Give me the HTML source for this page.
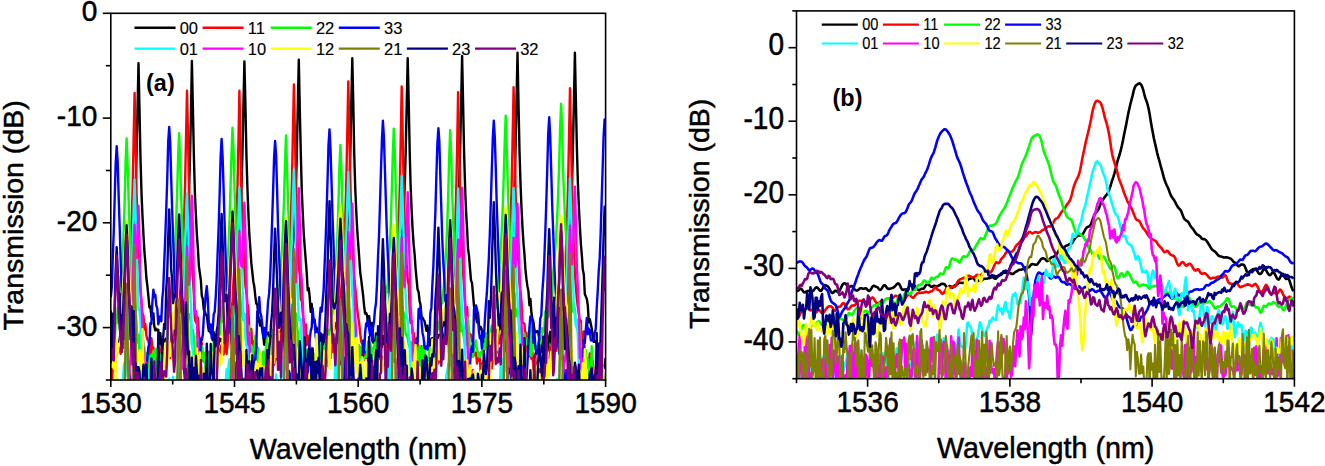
<!DOCTYPE html>
<html><head><meta charset="utf-8"><style>
html,body{margin:0;padding:0;background:#fff;width:1325px;height:466px;overflow:hidden}
svg{display:block;font-family:"Liberation Sans", sans-serif}
</style></head><body><svg width="1325" height="466" viewBox="0 0 1325 466" font-family='"Liberation Sans", sans-serif'><defs><clipPath id="ca"><rect x="110.8" y="13.3" width="494.8" height="366.7"/></clipPath><clipPath id="cb"><rect x="796.5" y="10.9" width="497.9" height="367.8"/></clipPath></defs><g clip-path="url(#ca)"><path d="M110.8 377.5L111.8 366.3L112.8 361.0L113.8 360.1L114.8 366.5L115.7 351.9L116.7 351.2L117.7 348.1L118.7 344.7L119.7 339.3L120.7 329.7L121.7 340.2L122.7 332.4L123.7 319.7L124.7 328.4L125.6 315.3L126.6 313.0L127.6 303.3L128.6 293.8L129.6 292.3L130.6 279.2L131.6 268.2L132.6 252.3L133.6 236.9L134.6 214.8L135.5 192.8L136.5 156.5L137.5 110.5L138.5 63.2L139.5 109.9L140.5 158.6L141.5 193.4L142.5 216.2L143.5 235.4L144.4 251.2L145.4 263.4L146.4 278.0L147.4 286.4L148.4 296.2L149.4 307.5L150.4 306.6L151.4 316.3L152.4 319.2L153.4 313.4L154.3 326.3L155.3 330.4L156.3 328.8L157.3 330.5L158.3 329.8L159.3 343.5L160.3 333.1L161.3 344.4L162.3 350.7L163.2 350.2L164.2 339.7L165.2 341.6L166.2 338.6L167.2 349.7L168.2 345.8L169.2 349.1L170.2 351.7L171.2 339.8L172.2 329.7L173.1 329.8L174.1 336.2L175.1 323.9L176.1 328.3L177.1 320.3L178.1 313.6L179.1 313.6L180.1 309.5L181.1 297.4L182.1 292.9L183.0 285.5L184.0 272.8L185.0 263.7L186.0 249.6L187.0 235.8L188.0 214.5L189.0 192.0L190.0 158.0L191.0 111.3L191.9 61.0L192.9 108.8L193.9 156.9L194.9 193.0L195.9 215.2L196.9 235.0L197.9 248.3L198.9 266.3L199.9 273.3L200.9 280.7L201.8 295.8L202.8 298.9L203.8 309.7L204.8 311.1L205.8 314.9L206.8 314.9L207.8 323.8L208.8 331.1L209.8 328.1L210.7 333.4L211.7 330.2L212.7 340.4L213.7 332.1L214.7 339.1L215.7 339.6L216.7 336.2L217.7 344.3L218.7 344.1L219.7 338.5L220.6 340.9L221.6 339.3L222.6 340.3L223.6 338.2L224.6 330.5L225.6 323.0L226.6 336.3L227.6 319.8L228.6 320.0L229.6 314.2L230.5 314.1L231.5 312.7L232.5 304.9L233.5 300.9L234.5 295.6L235.5 282.3L236.5 271.9L237.5 262.0L238.5 248.2L239.4 234.8L240.4 212.4L241.4 189.4L242.4 155.8L243.4 106.4L244.4 61.5L245.4 104.0L246.4 154.2L247.4 187.6L248.4 213.5L249.3 233.8L250.3 247.7L251.3 262.9L252.3 272.0L253.3 281.4L254.3 286.6L255.3 296.2L256.3 303.6L257.3 304.5L258.3 315.4L259.2 321.7L260.2 325.7L261.2 320.3L262.2 329.9L263.2 335.5L264.2 344.7L265.2 342.3L266.2 337.2L267.2 337.2L268.1 332.7L269.1 345.7L270.1 340.0L271.1 336.1L272.1 354.9L273.1 330.6L274.1 348.0L275.1 347.2L276.1 335.5L277.1 336.8L278.0 331.1L279.0 332.0L280.0 331.4L281.0 330.8L282.0 330.7L283.0 321.0L284.0 327.9L285.0 316.0L286.0 307.1L286.9 308.7L287.9 295.2L288.9 287.7L289.9 282.3L290.9 273.4L291.9 260.8L292.9 248.0L293.9 233.7L294.9 211.7L295.9 187.8L296.8 155.2L297.8 106.1L298.8 59.8L299.8 109.6L300.8 153.2L301.8 191.6L302.8 214.0L303.8 234.8L304.8 248.0L305.8 261.0L306.7 272.3L307.7 290.4L308.7 288.1L309.7 297.0L310.7 311.8L311.7 303.9L312.7 315.4L313.7 322.4L314.7 321.1L315.6 328.8L316.6 327.5L317.6 333.6L318.6 338.4L319.6 341.5L320.6 333.3L321.6 338.0L322.6 343.3L323.6 343.0L324.6 344.9L325.5 329.3L326.5 338.2L327.5 338.7L328.5 331.1L329.5 340.9L330.5 341.7L331.5 337.1L332.5 331.7L333.5 331.1L334.4 329.0L335.4 323.6L336.4 322.7L337.4 321.3L338.4 309.2L339.4 308.1L340.4 302.4L341.4 293.2L342.4 286.3L343.4 282.2L344.3 271.3L345.3 261.0L346.3 247.0L347.3 229.4L348.3 211.2L349.3 187.3L350.3 154.4L351.3 102.6L352.3 58.3L353.3 103.9L354.2 152.8L355.2 187.3L356.2 210.1L357.2 229.7L358.2 243.7L359.2 257.4L360.2 272.5L361.2 279.6L362.2 288.0L363.1 295.2L364.1 305.9L365.1 313.7L366.1 312.9L367.1 315.5L368.1 326.2L369.1 316.2L370.1 324.7L371.1 332.8L372.1 323.0L373.0 342.5L374.0 341.8L375.0 343.6L376.0 333.4L377.0 344.1L378.0 337.1L379.0 339.9L380.0 344.4L381.0 340.5L382.0 346.8L382.9 335.8L383.9 344.1L384.9 342.2L385.9 332.9L386.9 336.8L387.9 323.3L388.9 323.3L389.9 334.6L390.9 323.1L391.8 320.8L392.8 307.1L393.8 313.6L394.8 308.6L395.8 301.2L396.8 294.6L397.8 289.2L398.8 277.4L399.8 269.7L400.8 258.8L401.7 242.3L402.7 228.4L403.7 210.7L404.7 186.6L405.7 151.9L406.7 104.5L407.7 58.1L408.7 101.5L409.7 151.7L410.6 185.5L411.6 209.2L412.6 229.3L413.6 244.1L414.6 254.0L415.6 268.5L416.6 279.6L417.6 289.8L418.6 291.8L419.6 301.0L420.5 304.6L421.5 317.7L422.5 317.5L423.5 319.5L424.5 321.2L425.5 325.5L426.5 330.8L427.5 325.8L428.5 334.1L429.5 346.0L430.4 343.6L431.4 338.6L432.4 338.1L433.4 346.6L434.4 346.4L435.4 338.3L436.4 338.7L437.4 337.6L438.4 335.1L439.3 337.3L440.3 340.2L441.3 328.4L442.3 327.6L443.3 322.1L444.3 325.3L445.3 323.7L446.3 319.7L447.3 315.4L448.3 319.5L449.2 307.7L450.2 302.6L451.2 293.7L452.2 286.6L453.2 280.1L454.2 270.7L455.2 261.1L456.2 245.3L457.2 230.7L458.1 211.4L459.1 185.0L460.1 151.7L461.1 104.8L462.1 55.9L463.1 103.5L464.1 153.0L465.1 187.5L466.1 212.1L467.1 229.0L468.0 248.4L469.0 255.6L470.0 268.3L471.0 280.4L472.0 282.9L473.0 294.4L474.0 306.2L475.0 310.1L476.0 317.1L477.0 322.3L477.9 312.8L478.9 324.5L479.9 329.0L480.9 327.1L481.9 330.5L482.9 338.8L483.9 342.2L484.9 348.6L485.9 335.1L486.8 342.1L487.8 336.7L488.8 341.6L489.8 348.9L490.8 344.8L491.8 333.5L492.8 343.6L493.8 336.9L494.8 350.2L495.8 340.6L496.7 330.0L497.7 341.7L498.7 324.9L499.7 329.3L500.7 326.4L501.7 313.7L502.7 317.9L503.7 306.7L504.7 307.3L505.7 298.5L506.6 289.8L507.6 282.5L508.6 277.9L509.6 272.7L510.6 253.3L511.6 244.0L512.6 226.0L513.6 209.4L514.6 184.3L515.5 150.2L516.5 101.8L517.5 52.8L518.5 103.9L519.5 151.0L520.5 183.4L521.5 207.8L522.5 227.6L523.5 243.1L524.5 254.6L525.4 268.9L526.4 278.8L527.4 286.2L528.4 291.1L529.4 305.2L530.4 298.9L531.4 312.8L532.4 318.8L533.4 321.9L534.3 329.2L535.3 332.0L536.3 332.2L537.3 331.0L538.3 332.1L539.3 339.7L540.3 341.0L541.3 338.6L542.3 352.1L543.3 344.0L544.2 338.2L545.2 335.4L546.2 345.4L547.2 351.6L548.2 347.1L549.2 336.7L550.2 331.8L551.2 342.1L552.2 347.5L553.2 337.3L554.1 332.2L555.1 329.3L556.1 329.3L557.1 316.5L558.1 324.5L559.1 308.2L560.1 320.8L561.1 305.6L562.1 301.8L563.0 297.1L564.0 295.7L565.0 286.0L566.0 280.0L567.0 267.0L568.0 255.3L569.0 241.8L570.0 228.2L571.0 208.3L572.0 185.4L572.9 149.1L573.9 101.9L574.9 52.8L575.9 101.3L576.9 148.6L577.9 183.2L578.9 207.5L579.9 227.1L580.9 244.3L581.8 254.7L582.8 269.6L583.8 274.4L584.8 294.1L585.8 296.4L586.8 298.9L587.8 305.2L588.8 322.4L589.8 319.1L590.8 324.1L591.7 328.3L592.7 335.8L593.7 341.9L594.7 340.7L595.7 342.2L596.7 343.1L597.7 352.0L598.7 359.2L599.7 352.9L600.7 367.9L601.6 366.4L602.6 368.4L603.6 366.7L604.6 367.5L605.6 358.1" stroke="#000000" stroke-width="2.4" fill="none" stroke-linejoin="round"/><path d="M110.8 378.8L111.8 386.5L112.8 365.5L113.8 362.7L114.8 368.4L115.7 361.4L116.7 349.6L117.7 351.5L118.7 351.0L119.7 347.7L120.7 353.7L121.7 337.9L122.7 348.4L123.7 334.7L124.7 328.5L125.6 326.8L126.6 309.8L127.6 292.1L128.6 286.8L129.6 273.1L130.6 250.7L131.6 224.2L132.6 190.3L133.6 139.8L134.6 92.9L135.5 139.1L136.5 189.9L137.5 223.5L138.5 248.1L139.5 268.2L140.5 290.8L141.5 303.7L142.5 313.5L143.5 316.1L144.4 329.2L145.4 324.3L146.4 335.5L147.4 339.4L148.4 341.0L149.4 346.9L150.4 361.1L151.4 338.3L152.4 346.8L153.4 348.0L154.3 365.0L155.3 373.9L156.3 372.5L157.3 370.1L158.3 357.1L159.3 357.2L160.3 353.4L161.3 348.5L162.3 359.6L163.2 360.3L164.2 364.6L165.2 363.5L166.2 367.9L167.2 355.1L168.2 354.8L169.2 357.6L170.2 357.9L171.2 347.0L172.2 338.7L173.1 342.7L174.1 337.4L175.1 337.3L176.1 329.9L177.1 323.7L178.1 315.8L179.1 308.0L180.1 293.4L181.1 278.1L182.1 268.7L183.0 245.1L184.0 222.3L185.0 187.6L186.0 139.0L187.0 90.7L188.0 135.4L189.0 188.5L190.0 220.8L191.0 247.0L191.9 265.9L192.9 277.9L193.9 295.1L194.9 319.2L195.9 322.4L196.9 317.0L197.9 317.7L198.9 334.5L199.9 342.8L200.9 351.2L201.8 342.9L202.8 360.8L203.8 360.1L204.8 353.3L205.8 355.4L206.8 359.5L207.8 351.8L208.8 368.7L209.8 369.2L210.7 364.5L211.7 361.5L212.7 364.6L213.7 348.3L214.7 366.3L215.7 357.2L216.7 365.1L217.7 358.1L218.7 362.3L219.7 360.7L220.6 345.6L221.6 356.8L222.6 341.3L223.6 354.6L224.6 349.8L225.6 336.7L226.6 354.0L227.6 344.2L228.6 329.2L229.6 320.5L230.5 312.7L231.5 308.0L232.5 301.6L233.5 280.8L234.5 266.9L235.5 250.3L236.5 223.3L237.5 186.5L238.5 137.8L239.4 90.8L240.4 138.5L241.4 189.2L242.4 222.9L243.4 247.2L244.4 270.3L245.4 285.5L246.4 292.2L247.4 303.4L248.4 309.0L249.3 330.5L250.3 334.5L251.3 329.0L252.3 345.1L253.3 341.5L254.3 347.3L255.3 354.8L256.3 342.8L257.3 354.8L258.3 360.0L259.2 359.2L260.2 357.7L261.2 371.6L262.2 367.5L263.2 371.1L264.2 377.4L265.2 355.8L266.2 352.6L267.2 354.3L268.1 375.1L269.1 359.2L270.1 356.6L271.1 364.6L272.1 353.9L273.1 366.0L274.1 364.1L275.1 360.7L276.1 357.8L277.1 357.1L278.0 341.7L279.0 351.3L280.0 343.7L281.0 340.4L282.0 319.4L283.0 330.8L284.0 317.1L285.0 303.4L286.0 307.6L286.9 295.0L287.9 280.2L288.9 266.5L289.9 242.4L290.9 219.3L291.9 182.7L292.9 132.5L293.9 84.5L294.9 132.0L295.9 184.4L296.8 217.3L297.8 245.7L298.8 265.2L299.8 275.5L300.8 299.5L301.8 300.7L302.8 313.5L303.8 322.0L304.8 329.5L305.8 324.4L306.7 345.2L307.7 335.6L308.7 341.3L309.7 350.0L310.7 350.6L311.7 347.8L312.7 358.3L313.7 366.2L314.7 355.5L315.6 364.4L316.6 362.4L317.6 359.9L318.6 355.7L319.6 348.5L320.6 358.9L321.6 360.4L322.6 355.3L323.6 358.6L324.6 371.5L325.5 363.2L326.5 366.5L327.5 352.1L328.5 346.8L329.5 351.2L330.5 358.1L331.5 343.9L332.5 352.1L333.5 341.4L334.4 346.2L335.4 342.7L336.4 337.5L337.4 324.0L338.4 320.6L339.4 307.7L340.4 305.7L341.4 288.1L342.4 278.6L343.4 258.5L344.3 240.3L345.3 216.5L346.3 181.4L347.3 130.4L348.3 81.4L349.3 131.0L350.3 180.1L351.3 216.9L352.3 244.0L353.3 260.6L354.2 277.2L355.2 286.9L356.2 298.2L357.2 309.1L358.2 316.9L359.2 323.5L360.2 333.4L361.2 341.7L362.2 344.0L363.1 343.5L364.1 360.2L365.1 351.7L366.1 357.7L367.1 354.1L368.1 360.7L369.1 356.3L370.1 359.5L371.1 350.2L372.1 362.2L373.0 362.1L374.0 360.6L375.0 373.5L376.0 368.4L377.0 350.8L378.0 356.8L379.0 359.2L380.0 351.6L381.0 359.1L382.0 358.2L382.9 357.0L383.9 364.7L384.9 344.9L385.9 349.5L386.9 345.9L387.9 343.7L388.9 341.3L389.9 345.5L390.9 326.5L391.8 310.0L392.8 308.7L393.8 305.6L394.8 297.2L395.8 280.9L396.8 264.6L397.8 246.2L398.8 219.7L399.8 187.3L400.8 133.9L401.7 86.4L402.7 136.0L403.7 186.4L404.7 220.3L405.7 245.0L406.7 265.3L407.7 279.3L408.7 285.1L409.7 311.4L410.6 322.8L411.6 320.8L412.6 333.0L413.6 332.8L414.6 347.7L415.6 341.8L416.6 338.2L417.6 342.5L418.6 359.4L419.6 356.8L420.5 350.9L421.5 346.2L422.5 366.8L423.5 367.5L424.5 354.9L425.5 366.2L426.5 371.7L427.5 357.5L428.5 377.4L429.5 370.6L430.4 358.9L431.4 370.3L432.4 360.1L433.4 374.0L434.4 359.2L435.4 360.7L436.4 351.8L437.4 363.8L438.4 363.3L439.3 359.9L440.3 350.4L441.3 360.3L442.3 353.8L443.3 337.5L444.3 341.7L445.3 338.3L446.3 341.2L447.3 328.0L448.3 332.7L449.2 326.5L450.2 314.8L451.2 294.5L452.2 287.1L453.2 274.7L454.2 253.6L455.2 227.3L456.2 191.8L457.2 144.6L458.1 92.2L459.1 141.4L460.1 194.2L461.1 228.4L462.1 252.2L463.1 273.0L464.1 287.2L465.1 304.4L466.1 318.7L467.1 307.3L468.0 325.7L469.0 331.6L470.0 335.2L471.0 334.7L472.0 340.9L473.0 356.7L474.0 353.7L475.0 355.0L476.0 352.5L477.0 363.6L477.9 358.4L478.9 360.7L479.9 353.7L480.9 382.7L481.9 364.3L482.9 363.0L483.9 360.9L484.9 366.0L485.9 371.8L486.8 360.9L487.8 362.8L488.8 370.9L489.8 373.9L490.8 359.5L491.8 368.4L492.8 356.6L493.8 349.2L494.8 356.5L495.8 354.3L496.7 352.7L497.7 341.8L498.7 338.8L499.7 343.4L500.7 335.4L501.7 334.6L502.7 332.0L503.7 318.8L504.7 315.5L505.7 309.7L506.6 301.1L507.6 279.6L508.6 269.4L509.6 249.2L510.6 222.6L511.6 186.7L512.6 139.0L513.6 87.3L514.6 136.3L515.5 189.2L516.5 223.8L517.5 247.9L518.5 262.5L519.5 283.5L520.5 291.4L521.5 302.1L522.5 322.7L523.5 322.9L524.5 324.1L525.4 337.9L526.4 332.8L527.4 350.8L528.4 357.1L529.4 353.9L530.4 349.5L531.4 358.8L532.4 352.1L533.4 370.8L534.3 365.7L535.3 353.4L536.3 381.5L537.3 362.8L538.3 372.1L539.3 371.6L540.3 369.0L541.3 377.5L542.3 360.2L543.3 362.6L544.2 357.8L545.2 365.0L546.2 372.3L547.2 360.2L548.2 373.3L549.2 369.0L550.2 346.6L551.2 352.1L552.2 354.5L553.2 345.3L554.1 354.4L555.1 345.7L556.1 350.9L557.1 343.7L558.1 336.3L559.1 323.0L560.1 328.3L561.1 312.0L562.1 308.2L563.0 304.3L564.0 291.0L565.0 270.8L566.0 248.0L567.0 224.0L568.0 187.3L569.0 138.6L570.0 88.3L571.0 138.5L572.0 190.8L572.9 223.4L573.9 250.8L574.9 272.7L575.9 287.3L576.9 299.3L577.9 307.5L578.9 313.6L579.9 322.4L580.9 320.7L581.8 349.6L582.8 344.4L583.8 331.5L584.8 353.8L585.8 363.7L586.8 363.6L587.8 367.9L588.8 367.2L589.8 353.4L590.8 378.1L591.7 374.8L592.7 360.9L593.7 370.6L594.7 371.7L595.7 378.2L596.7 369.6L597.7 385.0L598.7 371.4L599.7 378.4L600.7 381.5L601.6 384.8L602.6 374.6L603.6 379.7L604.6 385.7L605.6 382.5" stroke="#FF0000" stroke-width="2.4" fill="none" stroke-linejoin="round"/><path d="M110.8 346.8L111.8 329.6L112.8 336.7L113.8 349.5L114.8 340.1L115.7 323.0L116.7 323.2L117.7 307.6L118.7 318.0L119.7 285.5L120.7 276.2L121.7 274.1L122.7 252.2L123.7 229.8L124.7 200.1L125.6 161.5L126.6 138.4L127.6 163.8L128.6 198.7L129.6 227.2L130.6 252.2L131.6 268.2L132.6 289.7L133.6 290.3L134.6 291.9L135.5 309.9L136.5 321.4L137.5 342.6L138.5 335.0L139.5 354.2L140.5 334.3L141.5 328.6L142.5 334.6L143.5 348.3L144.4 347.3L145.4 360.4L146.4 353.1L147.4 354.3L148.4 357.7L149.4 385.0L150.4 356.2L151.4 354.6L152.4 366.9L153.4 354.9L154.3 350.8L155.3 379.9L156.3 348.7L157.3 361.8L158.3 366.9L159.3 352.8L160.3 360.1L161.3 355.1L162.3 357.5L163.2 351.5L164.2 352.9L165.2 343.6L166.2 343.2L167.2 339.9L168.2 316.0L169.2 317.2L170.2 307.2L171.2 291.5L172.2 287.8L173.1 278.8L174.1 267.5L175.1 245.2L176.1 223.2L177.1 193.1L178.1 157.7L179.1 133.1L180.1 160.2L181.1 193.7L182.1 225.8L183.0 247.1L184.0 262.9L185.0 278.6L186.0 291.4L187.0 298.6L188.0 320.9L189.0 316.8L190.0 314.2L191.0 320.0L191.9 345.8L192.9 329.8L193.9 337.6L194.9 353.2L195.9 359.5L196.9 350.8L197.9 338.3L198.9 348.4L199.9 363.5L200.9 354.4L201.8 346.0L202.8 357.8L203.8 361.9L204.8 352.9L205.8 378.1L206.8 353.0L207.8 370.3L208.8 357.1L209.8 351.9L210.7 355.7L211.7 360.1L212.7 355.0L213.7 341.9L214.7 359.6L215.7 352.8L216.7 339.1L217.7 331.8L218.7 334.8L219.7 334.5L220.6 320.1L221.6 322.4L222.6 299.7L223.6 297.6L224.6 286.7L225.6 290.7L226.6 275.9L227.6 260.1L228.6 243.0L229.6 219.4L230.5 188.1L231.5 153.7L232.5 127.8L233.5 150.4L234.5 188.9L235.5 218.0L236.5 241.4L237.5 261.0L238.5 275.4L239.4 285.1L240.4 299.7L241.4 305.2L242.4 316.0L243.4 320.2L244.4 313.6L245.4 325.4L246.4 345.2L247.4 340.0L248.4 325.7L249.3 328.4L250.3 357.8L251.3 345.3L252.3 351.2L253.3 376.9L254.3 351.3L255.3 335.9L256.3 363.2L257.3 359.9L258.3 347.9L259.2 362.1L260.2 362.1L261.2 354.8L262.2 371.5L263.2 351.8L264.2 368.8L265.2 354.3L266.2 345.7L267.2 336.4L268.1 357.5L269.1 345.9L270.1 343.3L271.1 358.4L272.1 340.0L273.1 333.3L274.1 326.3L275.1 310.5L276.1 318.3L277.1 312.2L278.0 303.9L279.0 293.5L280.0 279.5L281.0 262.3L282.0 251.1L283.0 226.8L284.0 200.6L285.0 162.8L286.0 135.5L286.9 163.4L287.9 197.1L288.9 225.1L289.9 250.8L290.9 269.4L291.9 281.6L292.9 296.3L293.9 304.0L294.9 316.8L295.9 313.5L296.8 323.5L297.8 331.8L298.8 354.5L299.8 346.1L300.8 343.4L301.8 340.5L302.8 355.6L303.8 346.3L304.8 345.9L305.8 361.6L306.7 350.1L307.7 360.3L308.7 370.7L309.7 360.9L310.7 348.0L311.7 357.7L312.7 361.7L313.7 353.6L314.7 354.8L315.6 359.8L316.6 380.0L317.6 386.3L318.6 376.4L319.6 343.0L320.6 351.4L321.6 371.8L322.6 347.6L323.6 366.4L324.6 349.1L325.5 339.8L326.5 346.0L327.5 334.4L328.5 329.8L329.5 345.0L330.5 326.6L331.5 315.8L332.5 314.1L333.5 308.7L334.4 282.8L335.4 274.3L336.4 258.8L337.4 236.2L338.4 206.0L339.4 167.6L340.4 144.9L341.4 168.5L342.4 205.5L343.4 235.3L344.3 257.4L345.3 274.9L346.3 293.7L347.3 308.8L348.3 306.5L349.3 309.2L350.3 321.6L351.3 338.1L352.3 336.3L353.3 345.2L354.2 356.4L355.2 356.5L356.2 355.3L357.2 347.5L358.2 364.9L359.2 345.3L360.2 357.0L361.2 346.8L362.2 349.5L363.1 357.7L364.1 358.8L365.1 357.1L366.1 357.1L367.1 352.9L368.1 341.6L369.1 352.7L370.1 342.8L371.1 347.9L372.1 359.1L373.0 349.6L374.0 346.7L375.0 342.8L376.0 351.8L377.0 336.5L378.0 348.0L379.0 341.1L380.0 330.7L381.0 330.3L382.0 332.9L382.9 329.7L383.9 317.7L384.9 310.9L385.9 287.0L386.9 292.5L387.9 280.7L388.9 255.4L389.9 245.0L390.9 221.0L391.8 190.3L392.8 153.9L393.8 128.6L394.8 152.0L395.8 187.9L396.8 220.0L397.8 242.4L398.8 261.7L399.8 277.5L400.8 289.8L401.7 297.0L402.7 309.8L403.7 312.7L404.7 324.3L405.7 334.7L406.7 334.4L407.7 338.3L408.7 344.2L409.7 347.0L410.6 341.7L411.6 360.4L412.6 342.8L413.6 358.5L414.6 355.9L415.6 344.3L416.6 348.4L417.6 375.5L418.6 355.5L419.6 346.4L420.5 368.9L421.5 364.3L422.5 346.9L423.5 372.1L424.5 342.4L425.5 371.6L426.5 365.0L427.5 362.4L428.5 360.2L429.5 347.6L430.4 349.3L431.4 349.7L432.4 347.2L433.4 360.8L434.4 349.3L435.4 331.7L436.4 346.5L437.4 321.9L438.4 329.1L439.3 329.4L440.3 310.7L441.3 303.8L442.3 303.1L443.3 291.9L444.3 280.3L445.3 264.1L446.3 247.4L447.3 222.7L448.3 190.9L449.2 156.2L450.2 130.2L451.2 154.5L452.2 192.3L453.2 222.4L454.2 245.1L455.2 263.8L456.2 275.8L457.2 290.8L458.1 295.3L459.1 297.4L460.1 311.9L461.1 331.4L462.1 324.5L463.1 333.2L464.1 339.0L465.1 345.4L466.1 344.6L467.1 317.3L468.0 319.8L469.0 333.4L470.0 358.9L471.0 350.5L472.0 343.1L473.0 357.0L474.0 348.7L475.0 344.5L476.0 340.5L477.0 350.9L477.9 351.8L478.9 356.8L479.9 357.1L480.9 352.0L481.9 353.4L482.9 344.0L483.9 346.8L484.9 350.0L485.9 333.2L486.8 346.7L487.8 336.4L488.8 334.5L489.8 339.9L490.8 331.7L491.8 325.7L492.8 326.8L493.8 326.2L494.8 295.2L495.8 308.2L496.7 298.4L497.7 288.8L498.7 277.0L499.7 262.1L500.7 248.2L501.7 232.1L502.7 208.1L503.7 178.2L504.7 142.2L505.7 115.6L506.6 141.7L507.6 177.9L508.6 209.8L509.6 229.0L510.6 249.7L511.6 267.0L512.6 279.8L513.6 290.5L514.6 294.4L515.5 316.4L516.5 316.3L517.5 309.0L518.5 312.7L519.5 333.4L520.5 328.3L521.5 331.0L522.5 337.4L523.5 342.7L524.5 333.4L525.4 344.2L526.4 341.7L527.4 337.9L528.4 354.0L529.4 354.5L530.4 327.1L531.4 356.1L532.4 337.2L533.4 336.5L534.3 345.7L535.3 348.7L536.3 345.9L537.3 350.5L538.3 342.6L539.3 343.0L540.3 343.7L541.3 340.2L542.3 328.1L543.3 331.9L544.2 330.5L545.2 311.5L546.2 321.5L547.2 312.8L548.2 317.3L549.2 312.3L550.2 297.3L551.2 288.0L552.2 297.1L553.2 272.7L554.1 262.1L555.1 251.5L556.1 235.7L557.1 219.4L558.1 194.5L559.1 166.8L560.1 128.6L561.1 103.7L562.1 128.1L563.0 167.1L564.0 194.8L565.0 217.7L566.0 235.2L567.0 253.0L568.0 263.4L569.0 278.1L570.0 283.2L571.0 297.0L572.0 307.2L572.9 311.6L573.9 304.2L574.9 309.7L575.9 323.9L576.9 328.1L577.9 330.1L578.9 348.7L579.9 323.9L580.9 351.4L581.8 356.9L582.8 350.7L583.8 360.4L584.8 351.1L585.8 350.1L586.8 361.4L587.8 358.5L588.8 367.8L589.8 380.3L590.8 377.7L591.7 346.3L592.7 369.0L593.7 388.2L594.7 382.1L595.7 380.4L596.7 364.9L597.7 372.4L598.7 359.6L599.7 355.8L600.7 370.0L601.6 371.5L602.6 365.0L603.6 382.8L604.6 382.1L605.6 397.2" stroke="#00FF00" stroke-width="2.4" fill="none" stroke-linejoin="round"/><path d="M110.8 297.3L111.8 287.4L112.8 256.7L113.8 230.4L114.8 193.8L115.7 163.5L116.7 146.1L117.7 162.3L118.7 197.8L119.7 227.8L120.7 261.4L121.7 287.4L122.7 305.6L123.7 315.0L124.7 339.3L125.6 329.5L126.6 354.8L127.6 364.9L128.6 364.4L129.6 375.0L130.6 387.7L131.6 386.1L132.6 381.8L133.6 370.3L134.6 384.0L135.5 382.8L136.5 401.0L137.5 390.1L138.5 387.4L139.5 369.8L140.5 370.2L141.5 382.5L142.5 376.5L143.5 379.5L144.4 382.4L145.4 371.3L146.4 369.8L147.4 357.3L148.4 346.7L149.4 344.3L150.4 323.2L151.4 323.8L152.4 302.0L153.4 289.7L154.3 296.7L155.3 294.7L156.3 305.6L157.3 308.4L158.3 324.3L159.3 320.3L160.3 316.1L161.3 321.3L162.3 298.5L163.2 289.8L164.2 263.6L165.2 239.3L166.2 210.8L167.2 180.0L168.2 141.9L169.2 127.0L170.2 142.5L171.2 178.3L172.2 211.7L173.1 238.0L174.1 265.8L175.1 287.7L176.1 305.3L177.1 312.0L178.1 341.3L179.1 343.3L180.1 356.9L181.1 335.4L182.1 353.3L183.0 367.1L184.0 370.0L185.0 377.7L186.0 382.4L187.0 381.8L188.0 365.1L189.0 385.6L190.0 386.0L191.0 380.7L191.9 369.4L192.9 378.2L193.9 391.6L194.9 379.3L195.9 377.4L196.9 387.2L197.9 378.0L198.9 363.0L199.9 364.0L200.9 338.6L201.8 340.4L202.8 334.6L203.8 317.9L204.8 307.1L205.8 293.9L206.8 286.3L207.8 299.0L208.8 322.1L209.8 330.4L210.7 324.4L211.7 338.2L212.7 329.9L213.7 314.3L214.7 311.8L215.7 297.1L216.7 278.1L217.7 251.2L218.7 225.3L219.7 192.4L220.6 157.2L221.6 138.9L222.6 156.8L223.6 188.9L224.6 223.0L225.6 255.8L226.6 277.7L227.6 298.6L228.6 314.8L229.6 320.4L230.5 329.7L231.5 344.0L232.5 347.4L233.5 370.1L234.5 362.2L235.5 384.3L236.5 381.2L237.5 392.5L238.5 371.4L239.4 388.8L240.4 378.8L241.4 399.3L242.4 385.3L243.4 380.0L244.4 386.7L245.4 385.3L246.4 384.8L247.4 385.6L248.4 386.9L249.3 389.3L250.3 368.7L251.3 374.8L252.3 369.7L253.3 361.6L254.3 368.2L255.3 359.1L256.3 346.4L257.3 311.3L258.3 310.7L259.2 297.1L260.2 312.4L261.2 315.6L262.2 323.8L263.2 336.4L264.2 327.9L265.2 337.9L266.2 331.4L267.2 315.4L268.1 301.7L269.1 293.9L270.1 277.6L271.1 252.8L272.1 221.9L273.1 191.1L274.1 157.4L275.1 141.0L276.1 154.9L277.1 189.3L278.0 224.7L279.0 254.1L280.0 277.0L281.0 299.8L282.0 320.4L283.0 334.1L284.0 341.7L285.0 355.0L286.0 358.4L286.9 368.2L287.9 377.3L288.9 370.9L289.9 374.3L290.9 400.4L291.9 381.6L292.9 390.5L293.9 397.1L294.9 381.4L295.9 386.8L296.8 384.2L297.8 394.8L298.8 372.3L299.8 383.9L300.8 393.5L301.8 368.3L302.8 392.5L303.8 367.7L304.8 381.8L305.8 380.8L306.7 376.7L307.7 372.3L308.7 362.3L309.7 340.6L310.7 331.1L311.7 327.4L312.7 308.7L313.7 321.5L314.7 319.6L315.6 336.3L316.6 341.4L317.6 333.1L318.6 356.7L319.6 320.2L320.6 307.8L321.6 311.7L322.6 302.0L323.6 291.2L324.6 264.9L325.5 243.8L326.5 214.7L327.5 181.6L328.5 145.1L329.5 129.4L330.5 148.7L331.5 180.7L332.5 216.1L333.5 242.6L334.4 271.1L335.4 289.4L336.4 303.5L337.4 322.5L338.4 342.5L339.4 347.6L340.4 364.1L341.4 347.3L342.4 357.5L343.4 388.1L344.3 386.5L345.3 357.4L346.3 375.3L347.3 386.9L348.3 376.7L349.3 383.5L350.3 380.2L351.3 392.0L352.3 372.9L353.3 386.0L354.2 399.3L355.2 387.5L356.2 388.9L357.2 380.3L358.2 379.1L359.2 377.7L360.2 382.9L361.2 367.6L362.2 368.4L363.1 340.6L364.1 352.7L365.1 333.2L366.1 323.5L367.1 322.9L368.1 319.7L369.1 328.7L370.1 335.4L371.1 327.1L372.1 340.7L373.0 327.7L374.0 321.8L375.0 309.6L376.0 303.1L377.0 284.2L378.0 257.3L379.0 236.0L380.0 203.7L381.0 169.2L382.0 138.2L382.9 120.7L383.9 137.3L384.9 169.3L385.9 202.4L386.9 233.6L387.9 257.4L388.9 275.8L389.9 302.7L390.9 313.6L391.8 320.1L392.8 340.5L393.8 332.7L394.8 362.0L395.8 362.3L396.8 365.2L397.8 364.4L398.8 383.6L399.8 381.6L400.8 377.0L401.7 381.6L402.7 378.6L403.7 393.1L404.7 396.6L405.7 401.0L406.7 399.1L407.7 390.9L408.7 399.6L409.7 387.9L410.6 374.1L411.6 384.0L412.6 366.9L413.6 363.7L414.6 364.2L415.6 350.0L416.6 338.6L417.6 342.5L418.6 309.0L419.6 318.3L420.5 306.7L421.5 321.0L422.5 332.9L423.5 337.2L424.5 347.8L425.5 348.7L426.5 346.6L427.5 349.5L428.5 334.6L429.5 334.8L430.4 312.7L431.4 307.9L432.4 283.7L433.4 265.5L434.4 237.7L435.4 211.4L436.4 174.8L437.4 143.1L438.4 128.3L439.3 140.9L440.3 175.0L441.3 208.0L442.3 240.1L443.3 261.8L444.3 278.7L445.3 301.1L446.3 299.1L447.3 330.4L448.3 331.4L449.2 354.9L450.2 361.4L451.2 364.4L452.2 366.9L453.2 368.1L454.2 369.0L455.2 397.0L456.2 378.1L457.2 386.3L458.1 399.5L459.1 390.4L460.1 377.8L461.1 379.8L462.1 399.0L463.1 390.0L464.1 388.3L465.1 369.8L466.1 383.3L467.1 385.5L468.0 375.5L469.0 394.6L470.0 364.8L471.0 350.2L472.0 346.3L473.0 351.7L474.0 308.9L475.0 308.2L476.0 305.5L477.0 309.4L477.9 314.4L478.9 331.1L479.9 338.4L480.9 336.0L481.9 348.6L482.9 331.5L483.9 337.3L484.9 319.1L485.9 304.5L486.8 293.7L487.8 276.0L488.8 259.0L489.8 234.4L490.8 202.7L491.8 170.3L492.8 137.5L493.8 120.8L494.8 137.4L495.8 169.3L496.7 203.4L497.7 231.8L498.7 260.9L499.7 279.3L500.7 297.7L501.7 324.2L502.7 325.7L503.7 331.9L504.7 352.2L505.7 364.1L506.6 339.7L507.6 378.4L508.6 356.6L509.6 371.7L510.6 374.0L511.6 385.7L512.6 392.2L513.6 371.0L514.6 368.3L515.5 394.7L516.5 375.9L517.5 387.5L518.5 380.0L519.5 388.8L520.5 392.5L521.5 399.1L522.5 398.9L523.5 381.0L524.5 378.6L525.4 382.8L526.4 380.2L527.4 364.0L528.4 343.3L529.4 327.9L530.4 316.4L531.4 318.3L532.4 319.6L533.4 342.9L534.3 330.2L535.3 346.0L536.3 354.1L537.3 352.9L538.3 348.9L539.3 335.6L540.3 318.4L541.3 315.8L542.3 292.7L543.3 278.9L544.2 262.2L545.2 235.0L546.2 205.4L547.2 170.8L548.2 134.3L549.2 117.2L550.2 136.3L551.2 169.9L552.2 205.2L553.2 232.3L554.1 260.6L555.1 281.6L556.1 297.4L557.1 308.1L558.1 324.2L559.1 353.8L560.1 343.6L561.1 357.7L562.1 358.3L563.0 354.5L564.0 386.5L565.0 373.7L566.0 370.2L567.0 395.9L568.0 371.2L569.0 379.5L570.0 384.0L571.0 395.0L572.0 384.2L572.9 381.6L573.9 395.7L574.9 393.5L575.9 395.0L576.9 383.1L577.9 380.4L578.9 372.5L579.9 374.1L580.9 376.4L581.8 366.4L582.8 366.1L583.8 340.5L584.8 342.8L585.8 329.5L586.8 317.9L587.8 334.3L588.8 328.8L589.8 330.4L590.8 340.1L591.7 340.6L592.7 340.2L593.7 339.0L594.7 332.2L595.7 329.4L596.7 308.3L597.7 291.6L598.7 271.5L599.7 258.1L600.7 232.0L601.6 202.4L602.6 169.6L603.6 136.0L604.6 119.5L605.6 135.7" stroke="#0000FF" stroke-width="2.4" fill="none" stroke-linejoin="round"/><path d="M110.8 401.0L111.8 401.0L112.8 401.0L113.8 401.0L114.8 401.0L115.7 401.0L116.7 378.7L117.7 401.0L118.7 401.0L119.7 401.0L120.7 380.1L121.7 394.0L122.7 385.0L123.7 367.2L124.7 362.3L125.6 376.2L126.6 335.2L127.6 342.8L128.6 324.8L129.6 316.4L130.6 290.1L131.6 279.7L132.6 249.2L133.6 208.6L134.6 179.5L135.5 209.1L136.5 246.6L137.5 271.3L138.5 310.0L139.5 307.7L140.5 322.6L141.5 350.2L142.5 355.7L143.5 369.2L144.4 360.3L145.4 384.7L146.4 374.0L147.4 369.2L148.4 401.0L149.4 388.7L150.4 398.0L151.4 401.0L152.4 396.3L153.4 401.0L154.3 401.0L155.3 401.0L156.3 401.0L157.3 401.0L158.3 401.0L159.3 379.2L160.3 392.4L161.3 394.4L162.3 401.0L163.2 401.0L164.2 401.0L165.2 401.0L166.2 401.0L167.2 401.0L168.2 401.0L169.2 378.6L170.2 399.7L171.2 399.8L172.2 401.0L173.1 376.6L174.1 388.0L175.1 388.6L176.1 387.1L177.1 384.9L178.1 367.9L179.1 337.9L180.1 352.9L181.1 336.9L182.1 335.7L183.0 309.3L184.0 297.5L185.0 256.3L186.0 222.5L187.0 193.4L188.0 221.7L189.0 256.3L190.0 286.2L191.0 306.6L191.9 343.0L192.9 353.4L193.9 366.0L194.9 375.4L195.9 382.1L196.9 366.6L197.9 384.3L198.9 388.1L199.9 401.0L200.9 401.0L201.8 401.0L202.8 387.7L203.8 401.0L204.8 396.1L205.8 401.0L206.8 401.0L207.8 401.0L208.8 401.0L209.8 401.0L210.7 401.0L211.7 401.0L212.7 401.0L213.7 401.0L214.7 401.0L215.7 401.0L216.7 401.0L217.7 401.0L218.7 401.0L219.7 395.1L220.6 401.0L221.6 401.0L222.6 401.0L223.6 401.0L224.6 401.0L225.6 385.8L226.6 369.1L227.6 395.3L228.6 363.8L229.6 359.2L230.5 379.9L231.5 365.1L232.5 342.4L233.5 346.7L234.5 333.3L235.5 301.6L236.5 287.4L237.5 256.2L238.5 215.0L239.4 187.8L240.4 215.5L241.4 251.3L242.4 277.7L243.4 318.4L244.4 315.8L245.4 337.5L246.4 345.3L247.4 348.5L248.4 343.4L249.3 362.5L250.3 379.7L251.3 377.5L252.3 401.0L253.3 383.9L254.3 391.0L255.3 401.0L256.3 401.0L257.3 401.0L258.3 401.0L259.2 396.4L260.2 401.0L261.2 401.0L262.2 401.0L263.2 390.7L264.2 401.0L265.2 401.0L266.2 379.2L267.2 401.0L268.1 399.9L269.1 394.2L270.1 401.0L271.1 401.0L272.1 386.3L273.1 399.2L274.1 391.2L275.1 397.8L276.1 374.4L277.1 401.0L278.0 401.0L279.0 397.1L280.0 384.2L281.0 381.6L282.0 371.9L283.0 376.0L284.0 356.0L285.0 369.7L286.0 358.4L286.9 338.0L287.9 329.3L288.9 314.6L289.9 294.1L290.9 270.5L291.9 237.7L292.9 198.1L293.9 169.5L294.9 198.8L295.9 238.9L296.8 271.7L297.8 296.8L298.8 320.0L299.8 318.5L300.8 319.3L301.8 346.6L302.8 351.4L303.8 387.4L304.8 368.6L305.8 381.2L306.7 377.3L307.7 392.3L308.7 395.0L309.7 399.7L310.7 399.7L311.7 369.0L312.7 387.7L313.7 401.0L314.7 401.0L315.6 401.0L316.6 376.1L317.6 401.0L318.6 395.1L319.6 393.1L320.6 377.0L321.6 382.4L322.6 401.0L323.6 401.0L324.6 401.0L325.5 401.0L326.5 401.0L327.5 401.0L328.5 401.0L329.5 389.0L330.5 393.1L331.5 397.5L332.5 396.0L333.5 394.8L334.4 396.2L335.4 347.9L336.4 378.9L337.4 376.8L338.4 345.0L339.4 359.9L340.4 344.1L341.4 347.1L342.4 328.9L343.4 324.3L344.3 290.4L345.3 262.8L346.3 240.0L347.3 200.9L348.3 172.0L349.3 199.9L350.3 241.5L351.3 273.1L352.3 294.9L353.3 301.7L354.2 335.5L355.2 342.7L356.2 349.8L357.2 355.4L358.2 360.4L359.2 373.8L360.2 359.2L361.2 388.6L362.2 357.4L363.1 384.3L364.1 381.3L365.1 401.0L366.1 390.7L367.1 401.0L368.1 401.0L369.1 390.1L370.1 401.0L371.1 401.0L372.1 401.0L373.0 394.4L374.0 401.0L375.0 394.0L376.0 392.0L377.0 389.3L378.0 401.0L379.0 401.0L380.0 393.7L381.0 401.0L382.0 385.7L382.9 393.1L383.9 396.5L384.9 395.1L385.9 401.0L386.9 389.9L387.9 387.7L388.9 376.6L389.9 351.9L390.9 378.2L391.8 357.0L392.8 337.4L393.8 357.4L394.8 348.2L395.8 334.6L396.8 322.0L397.8 305.1L398.8 269.9L399.8 240.3L400.8 202.4L401.7 175.9L402.7 203.9L403.7 241.8L404.7 275.1L405.7 296.1L406.7 317.1L407.7 319.6L408.7 333.4L409.7 348.0L410.6 371.2L411.6 371.6L412.6 362.3L413.6 354.5L414.6 388.4L415.6 353.1L416.6 394.6L417.6 397.7L418.6 391.2L419.6 401.0L420.5 399.7L421.5 400.4L422.5 401.0L423.5 401.0L424.5 399.1L425.5 391.4L426.5 379.6L427.5 401.0L428.5 401.0L429.5 401.0L430.4 401.0L431.4 401.0L432.4 401.0L433.4 401.0L434.4 401.0L435.4 401.0L436.4 401.0L437.4 387.6L438.4 401.0L439.3 390.7L440.3 388.4L441.3 393.5L442.3 395.6L443.3 391.0L444.3 398.6L445.3 401.0L446.3 375.4L447.3 371.3L448.3 363.5L449.2 370.1L450.2 347.9L451.2 344.0L452.2 320.9L453.2 325.6L454.2 323.3L455.2 291.1L456.2 255.1L457.2 218.9L458.1 188.4L459.1 218.1L460.1 255.7L461.1 284.3L462.1 314.5L463.1 322.5L464.1 328.4L465.1 357.5L466.1 365.0L467.1 376.8L468.0 367.8L469.0 369.1L470.0 394.9L471.0 396.1L472.0 384.1L473.0 397.0L474.0 378.7L475.0 401.0L476.0 401.0L477.0 401.0L477.9 401.0L478.9 401.0L479.9 401.0L480.9 389.7L481.9 401.0L482.9 401.0L483.9 401.0L484.9 401.0L485.9 401.0L486.8 401.0L487.8 399.4L488.8 401.0L489.8 401.0L490.8 401.0L491.8 401.0L492.8 385.7L493.8 401.0L494.8 401.0L495.8 401.0L496.7 395.8L497.7 393.5L498.7 401.0L499.7 396.3L500.7 361.0L501.7 358.6L502.7 391.0L503.7 373.7L504.7 371.7L505.7 353.5L506.6 361.1L507.6 331.8L508.6 314.3L509.6 296.7L510.6 289.9L511.6 249.0L512.6 215.2L513.6 187.9L514.6 212.5L515.5 251.0L516.5 282.8L517.5 298.7L518.5 316.7L519.5 333.3L520.5 360.0L521.5 362.0L522.5 366.0L523.5 357.7L524.5 358.9L525.4 385.7L526.4 395.9L527.4 401.0L528.4 383.7L529.4 401.0L530.4 373.4L531.4 400.1L532.4 401.0L533.4 397.3L534.3 401.0L535.3 401.0L536.3 401.0L537.3 401.0L538.3 401.0L539.3 401.0L540.3 401.0L541.3 401.0L542.3 401.0L543.3 401.0L544.2 401.0L545.2 401.0L546.2 401.0L547.2 401.0L548.2 401.0L549.2 400.5L550.2 401.0L551.2 396.4L552.2 393.1L553.2 401.0L554.1 392.8L555.1 401.0L556.1 401.0L557.1 379.0L558.1 390.6L559.1 377.0L560.1 360.5L561.1 349.8L562.1 356.5L563.0 353.3L564.0 337.8L565.0 308.7L566.0 301.8L567.0 269.3L568.0 244.7L569.0 209.1L570.0 178.0L571.0 208.9L572.0 247.4L572.9 277.2L573.9 306.3L574.9 316.7L575.9 326.1L576.9 319.8L577.9 338.5L578.9 369.2L579.9 365.9L580.9 361.9L581.8 383.5L582.8 397.3L583.8 392.9L584.8 401.0L585.8 397.9L586.8 401.0L587.8 389.9L588.8 401.0L589.8 401.0L590.8 401.0L591.7 401.0L592.7 401.0L593.7 401.0L594.7 401.0L595.7 401.0L596.7 401.0L597.7 401.0L598.7 401.0L599.7 401.0L600.7 401.0L601.6 401.0L602.6 401.0L603.6 401.0L604.6 401.0L605.6 401.0" stroke="#00FFFF" stroke-width="2.4" fill="none" stroke-linejoin="round"/><path d="M110.8 401.0L111.8 401.0L112.8 401.0L113.8 401.0L114.8 401.0L115.7 401.0L116.7 401.0L117.7 401.0L118.7 401.0L119.7 401.0L120.7 401.0L121.7 401.0L122.7 401.0L123.7 401.0L124.7 401.0L125.6 401.0L126.6 401.0L127.6 399.6L128.6 401.0L129.6 366.1L130.6 357.7L131.6 328.1L132.6 286.7L133.6 253.7L134.6 225.0L135.5 246.9L136.5 258.1L137.5 237.0L138.5 205.9L139.5 240.8L140.5 288.2L141.5 302.6L142.5 328.6L143.5 352.3L144.4 365.7L145.4 378.8L146.4 362.6L147.4 399.0L148.4 401.0L149.4 401.0L150.4 399.2L151.4 401.0L152.4 401.0L153.4 401.0L154.3 396.3L155.3 401.0L156.3 401.0L157.3 401.0L158.3 401.0L159.3 401.0L160.3 401.0L161.3 401.0L162.3 401.0L163.2 401.0L164.2 401.0L165.2 401.0L166.2 401.0L167.2 401.0L168.2 401.0L169.2 401.0L170.2 401.0L171.2 401.0L172.2 401.0L173.1 401.0L174.1 401.0L175.1 401.0L176.1 401.0L177.1 401.0L178.1 401.0L179.1 401.0L180.1 375.7L181.1 357.1L182.1 368.5L183.0 343.9L184.0 315.5L185.0 307.0L186.0 278.8L187.0 246.1L188.0 270.0L189.0 284.7L190.0 273.4L191.0 228.9L191.9 195.7L192.9 229.6L193.9 282.7L194.9 313.6L195.9 310.9L196.9 322.1L197.9 353.9L198.9 367.0L199.9 401.0L200.9 383.0L201.8 401.0L202.8 401.0L203.8 401.0L204.8 401.0L205.8 401.0L206.8 401.0L207.8 388.1L208.8 401.0L209.8 401.0L210.7 401.0L211.7 401.0L212.7 401.0L213.7 401.0L214.7 401.0L215.7 401.0L216.7 401.0L217.7 401.0L218.7 401.0L219.7 401.0L220.6 401.0L221.6 401.0L222.6 401.0L223.6 401.0L224.6 401.0L225.6 401.0L226.6 401.0L227.6 401.0L228.6 393.6L229.6 398.7L230.5 393.5L231.5 357.6L232.5 364.6L233.5 387.7L234.5 339.3L235.5 353.6L236.5 321.8L237.5 311.0L238.5 256.1L239.4 231.2L240.4 254.0L241.4 266.3L242.4 266.9L243.4 234.8L244.4 202.7L245.4 236.9L246.4 274.2L247.4 330.3L248.4 344.7L249.3 332.9L250.3 370.9L251.3 357.5L252.3 375.1L253.3 401.0L254.3 401.0L255.3 384.3L256.3 401.0L257.3 401.0L258.3 401.0L259.2 401.0L260.2 401.0L261.2 401.0L262.2 401.0L263.2 401.0L264.2 401.0L265.2 401.0L266.2 401.0L267.2 401.0L268.1 390.8L269.1 401.0L270.1 401.0L271.1 401.0L272.1 401.0L273.1 401.0L274.1 401.0L275.1 401.0L276.1 401.0L277.1 401.0L278.0 401.0L279.0 401.0L280.0 401.0L281.0 401.0L282.0 391.6L283.0 401.0L284.0 399.4L285.0 401.0L286.0 394.8L286.9 390.3L287.9 349.8L288.9 362.4L289.9 359.3L290.9 340.9L291.9 320.5L292.9 279.6L293.9 249.2L294.9 269.0L295.9 282.3L296.8 260.8L297.8 220.0L298.8 188.2L299.8 223.0L300.8 270.2L301.8 281.4L302.8 302.8L303.8 331.9L304.8 352.1L305.8 379.8L306.7 359.2L307.7 382.7L308.7 385.2L309.7 397.1L310.7 401.0L311.7 401.0L312.7 401.0L313.7 401.0L314.7 401.0L315.6 401.0L316.6 401.0L317.6 401.0L318.6 401.0L319.6 401.0L320.6 401.0L321.6 401.0L322.6 401.0L323.6 401.0L324.6 401.0L325.5 401.0L326.5 401.0L327.5 401.0L328.5 401.0L329.5 401.0L330.5 401.0L331.5 401.0L332.5 401.0L333.5 401.0L334.4 381.0L335.4 401.0L336.4 401.0L337.4 401.0L338.4 401.0L339.4 401.0L340.4 401.0L341.4 389.7L342.4 374.0L343.4 352.0L344.3 317.1L345.3 321.8L346.3 298.4L347.3 267.9L348.3 232.2L349.3 255.7L350.3 259.3L351.3 238.0L352.3 203.8L353.3 241.7L354.2 284.6L355.2 313.9L356.2 337.0L357.2 346.3L358.2 361.5L359.2 401.0L360.2 401.0L361.2 401.0L362.2 392.5L363.1 401.0L364.1 401.0L365.1 401.0L366.1 401.0L367.1 401.0L368.1 396.4L369.1 401.0L370.1 401.0L371.1 401.0L372.1 401.0L373.0 401.0L374.0 401.0L375.0 401.0L376.0 401.0L377.0 401.0L378.0 401.0L379.0 401.0L380.0 401.0L381.0 401.0L382.0 401.0L382.9 401.0L383.9 401.0L384.9 401.0L385.9 401.0L386.9 401.0L387.9 401.0L388.9 401.0L389.9 401.0L390.9 387.6L391.8 401.0L392.8 388.2L393.8 398.5L394.8 388.6L395.8 393.3L396.8 366.0L397.8 358.2L398.8 356.0L399.8 312.1L400.8 273.3L401.7 237.8L402.7 265.3L403.7 280.3L404.7 287.3L405.7 268.7L406.7 226.9L407.7 192.2L408.7 227.6L409.7 268.1L410.6 305.6L411.6 321.4L412.6 329.4L413.6 363.7L414.6 368.3L415.6 351.7L416.6 378.4L417.6 399.3L418.6 390.8L419.6 401.0L420.5 401.0L421.5 401.0L422.5 401.0L423.5 401.0L424.5 401.0L425.5 401.0L426.5 401.0L427.5 401.0L428.5 401.0L429.5 401.0L430.4 401.0L431.4 401.0L432.4 401.0L433.4 401.0L434.4 401.0L435.4 401.0L436.4 401.0L437.4 401.0L438.4 401.0L439.3 401.0L440.3 389.1L441.3 401.0L442.3 401.0L443.3 401.0L444.3 401.0L445.3 401.0L446.3 401.0L447.3 401.0L448.3 399.4L449.2 401.0L450.2 393.4L451.2 383.8L452.2 376.0L453.2 354.6L454.2 357.2L455.2 332.7L456.2 301.8L457.2 262.6L458.1 239.6L459.1 257.3L460.1 255.6L461.1 218.6L462.1 187.6L463.1 222.8L464.1 266.0L465.1 302.7L466.1 323.8L467.1 334.2L468.0 356.7L469.0 393.8L470.0 369.7L471.0 371.8L472.0 400.3L473.0 370.0L474.0 401.0L475.0 401.0L476.0 401.0L477.0 380.9L477.9 389.9L478.9 401.0L479.9 400.9L480.9 401.0L481.9 401.0L482.9 401.0L483.9 401.0L484.9 401.0L485.9 401.0L486.8 401.0L487.8 401.0L488.8 401.0L489.8 401.0L490.8 401.0L491.8 401.0L492.8 401.0L493.8 401.0L494.8 401.0L495.8 401.0L496.7 401.0L497.7 401.0L498.7 401.0L499.7 401.0L500.7 392.7L501.7 401.0L502.7 401.0L503.7 398.4L504.7 380.3L505.7 401.0L506.6 397.2L507.6 362.2L508.6 332.7L509.6 366.5L510.6 312.3L511.6 299.9L512.6 264.5L513.6 237.6L514.6 260.1L515.5 266.7L516.5 232.1L517.5 203.7L518.5 237.1L519.5 270.9L520.5 309.8L521.5 322.3L522.5 347.1L523.5 373.3L524.5 364.7L525.4 383.0L526.4 401.0L527.4 388.0L528.4 401.0L529.4 401.0L530.4 401.0L531.4 396.6L532.4 401.0L533.4 401.0L534.3 401.0L535.3 401.0L536.3 401.0L537.3 401.0L538.3 401.0L539.3 401.0L540.3 401.0L541.3 401.0L542.3 401.0L543.3 401.0L544.2 401.0L545.2 401.0L546.2 401.0L547.2 401.0L548.2 401.0L549.2 401.0L550.2 401.0L551.2 401.0L552.2 401.0L553.2 401.0L554.1 401.0L555.1 401.0L556.1 401.0L557.1 401.0L558.1 401.0L559.1 401.0L560.1 387.2L561.1 401.0L562.1 396.1L563.0 373.4L564.0 366.5L565.0 359.4L566.0 351.8L567.0 319.1L568.0 298.8L569.0 251.9L570.0 225.7L571.0 252.1L572.0 264.5L572.9 252.3L573.9 219.6L574.9 186.7L575.9 223.2L576.9 266.7L577.9 289.6L578.9 313.2L579.9 358.3L580.9 348.9L581.8 389.6L582.8 365.4L583.8 358.2L584.8 396.4L585.8 383.4L586.8 401.0L587.8 401.0L588.8 401.0L589.8 401.0L590.8 401.0L591.7 401.0L592.7 401.0L593.7 401.0L594.7 401.0L595.7 401.0L596.7 401.0L597.7 401.0L598.7 401.0L599.7 401.0L600.7 401.0L601.6 401.0L602.6 401.0L603.6 401.0L604.6 401.0L605.6 401.0" stroke="#FF00FF" stroke-width="2.4" fill="none" stroke-linejoin="round"/><path d="M110.8 360.6L111.8 366.7L112.8 361.7L113.8 368.5L114.8 349.3L115.7 379.3L116.7 339.4L117.7 352.0L118.7 344.0L119.7 345.3L120.7 340.0L121.7 315.9L122.7 292.2L123.7 277.3L124.7 254.4L125.6 234.1L126.6 222.0L127.6 234.0L128.6 259.5L129.6 279.2L130.6 300.2L131.6 305.2L132.6 325.9L133.6 334.0L134.6 335.2L135.5 336.7L136.5 354.9L137.5 359.7L138.5 359.3L139.5 350.5L140.5 380.7L141.5 385.6L142.5 329.1L143.5 375.1L144.4 372.9L145.4 401.0L146.4 383.0L147.4 379.3L148.4 386.5L149.4 384.7L150.4 381.4L151.4 374.4L152.4 365.7L153.4 397.3L154.3 397.7L155.3 371.1L156.3 376.1L157.3 390.7L158.3 397.9L159.3 388.6L160.3 376.2L161.3 366.4L162.3 359.4L163.2 362.0L164.2 385.5L165.2 343.5L166.2 356.6L167.2 365.0L168.2 362.1L169.2 343.7L170.2 355.9L171.2 348.2L172.2 335.7L173.1 313.1L174.1 328.6L175.1 294.2L176.1 294.7L177.1 264.4L178.1 238.6L179.1 226.2L180.1 240.5L181.1 258.6L182.1 277.0L183.0 304.8L184.0 318.6L185.0 329.5L186.0 357.9L187.0 315.3L188.0 344.0L189.0 372.5L190.0 351.8L191.0 356.4L191.9 368.1L192.9 365.9L193.9 356.1L194.9 378.5L195.9 386.8L196.9 348.5L197.9 369.0L198.9 381.5L199.9 352.4L200.9 401.0L201.8 393.0L202.8 367.8L203.8 374.1L204.8 372.9L205.8 385.0L206.8 386.3L207.8 384.6L208.8 381.4L209.8 365.7L210.7 360.0L211.7 365.4L212.7 352.4L213.7 396.4L214.7 372.3L215.7 383.8L216.7 341.5L217.7 367.8L218.7 353.3L219.7 355.8L220.6 364.9L221.6 362.2L222.6 339.7L223.6 331.3L224.6 337.8L225.6 306.9L226.6 313.4L227.6 295.2L228.6 284.2L229.6 263.8L230.5 247.2L231.5 220.2L232.5 209.4L233.5 221.1L234.5 243.4L235.5 265.1L236.5 294.5L237.5 305.6L238.5 323.9L239.4 329.6L240.4 326.7L241.4 323.1L242.4 363.4L243.4 365.8L244.4 355.2L245.4 352.1L246.4 358.7L247.4 372.7L248.4 361.3L249.3 364.0L250.3 381.6L251.3 353.6L252.3 394.8L253.3 373.8L254.3 375.2L255.3 369.7L256.3 361.6L257.3 383.4L258.3 378.0L259.2 368.0L260.2 352.5L261.2 385.7L262.2 366.1L263.2 372.6L264.2 388.0L265.2 366.7L266.2 387.7L267.2 372.5L268.1 368.8L269.1 338.2L270.1 381.2L271.1 356.2L272.1 360.1L273.1 362.7L274.1 362.6L275.1 335.6L276.1 356.9L277.1 334.5L278.0 339.7L279.0 322.5L280.0 312.1L281.0 320.1L282.0 299.0L283.0 275.0L284.0 252.3L285.0 231.4L286.0 217.6L286.9 228.5L287.9 252.7L288.9 273.9L289.9 300.8L290.9 299.0L291.9 302.6L292.9 300.8L293.9 335.5L294.9 321.7L295.9 356.2L296.8 348.6L297.8 356.3L298.8 381.8L299.8 372.5L300.8 366.0L301.8 368.0L302.8 376.1L303.8 371.5L304.8 359.5L305.8 357.0L306.7 401.0L307.7 382.2L308.7 374.7L309.7 401.0L310.7 369.3L311.7 356.7L312.7 395.6L313.7 401.0L314.7 383.5L315.6 355.5L316.6 334.3L317.6 367.8L318.6 372.6L319.6 384.7L320.6 360.5L321.6 380.6L322.6 366.2L323.6 350.7L324.6 362.6L325.5 375.9L326.5 354.3L327.5 340.7L328.5 336.6L329.5 368.3L330.5 337.5L331.5 331.5L332.5 332.5L333.5 331.7L334.4 317.0L335.4 304.1L336.4 271.4L337.4 263.3L338.4 242.3L339.4 218.4L340.4 205.5L341.4 218.9L342.4 240.8L343.4 261.7L344.3 285.1L345.3 286.6L346.3 307.6L347.3 309.3L348.3 314.1L349.3 340.7L350.3 351.2L351.3 354.4L352.3 322.7L353.3 354.1L354.2 362.8L355.2 338.8L356.2 372.7L357.2 337.6L358.2 376.3L359.2 362.9L360.2 368.0L361.2 365.3L362.2 357.5L363.1 360.9L364.1 390.4L365.1 388.5L366.1 375.0L367.1 363.0L368.1 379.6L369.1 383.2L370.1 401.0L371.1 366.6L372.1 370.9L373.0 388.4L374.0 377.8L375.0 350.9L376.0 380.1L377.0 380.8L378.0 358.8L379.0 393.9L380.0 370.5L381.0 366.1L382.0 370.8L382.9 362.2L383.9 356.9L384.9 346.0L385.9 344.0L386.9 326.5L387.9 316.8L388.9 313.2L389.9 300.6L390.9 292.2L391.8 256.0L392.8 235.8L393.8 224.4L394.8 234.8L395.8 260.6L396.8 284.3L397.8 294.2L398.8 343.4L399.8 317.0L400.8 332.4L401.7 358.3L402.7 359.4L403.7 340.7L404.7 368.7L405.7 351.3L406.7 360.3L407.7 367.6L408.7 371.1L409.7 373.9L410.6 379.3L411.6 370.6L412.6 362.8L413.6 401.0L414.6 356.3L415.6 344.9L416.6 401.0L417.6 360.8L418.6 376.9L419.6 367.8L420.5 379.5L421.5 394.8L422.5 369.2L423.5 376.3L424.5 371.5L425.5 392.6L426.5 380.1L427.5 362.6L428.5 399.3L429.5 370.5L430.4 399.1L431.4 360.4L432.4 339.5L433.4 391.4L434.4 371.3L435.4 359.0L436.4 379.3L437.4 349.3L438.4 355.4L439.3 359.3L440.3 337.5L441.3 343.7L442.3 309.4L443.3 319.3L444.3 319.2L445.3 307.8L446.3 303.7L447.3 281.5L448.3 258.8L449.2 233.1L450.2 221.7L451.2 235.2L452.2 256.1L453.2 279.6L454.2 302.4L455.2 308.2L456.2 327.8L457.2 342.5L458.1 349.4L459.1 346.8L460.1 372.9L461.1 368.3L462.1 360.0L463.1 355.8L464.1 367.5L465.1 374.9L466.1 396.1L467.1 360.4L468.0 388.6L469.0 393.2L470.0 365.4L471.0 390.8L472.0 395.1L473.0 377.2L474.0 371.2L475.0 375.7L476.0 401.0L477.0 377.6L477.9 387.4L478.9 388.3L479.9 373.2L480.9 370.8L481.9 401.0L482.9 364.9L483.9 381.3L484.9 379.3L485.9 387.7L486.8 372.3L487.8 361.3L488.8 378.5L489.8 389.1L490.8 333.6L491.8 348.2L492.8 350.8L493.8 336.9L494.8 359.8L495.8 350.9L496.7 350.0L497.7 331.2L498.7 293.2L499.7 297.7L500.7 303.5L501.7 275.4L502.7 261.1L503.7 240.2L504.7 219.8L505.7 207.3L506.6 220.2L507.6 242.0L508.6 261.5L509.6 284.4L510.6 299.1L511.6 303.7L512.6 325.8L513.6 342.1L514.6 330.3L515.5 366.3L516.5 333.0L517.5 366.8L518.5 364.6L519.5 379.5L520.5 345.0L521.5 346.5L522.5 363.9L523.5 362.6L524.5 349.8L525.4 369.7L526.4 392.9L527.4 388.3L528.4 383.8L529.4 401.0L530.4 382.8L531.4 384.5L532.4 371.9L533.4 379.8L534.3 358.9L535.3 387.6L536.3 376.0L537.3 365.7L538.3 379.8L539.3 374.5L540.3 401.0L541.3 374.1L542.3 379.1L543.3 358.2L544.2 373.5L545.2 366.2L546.2 344.3L547.2 382.7L548.2 360.1L549.2 374.7L550.2 360.7L551.2 351.9L552.2 354.2L553.2 328.4L554.1 336.3L555.1 321.7L556.1 306.0L557.1 292.4L558.1 271.4L559.1 252.3L560.1 226.4L561.1 215.8L562.1 227.2L563.0 250.0L564.0 273.5L565.0 290.7L566.0 302.5L567.0 307.9L568.0 321.7L569.0 340.9L570.0 338.5L571.0 362.2L572.0 351.1L572.9 361.8L573.9 363.2L574.9 366.9L575.9 382.0L576.9 377.6L577.9 376.1L578.9 372.1L579.9 370.7L580.9 380.6L581.8 388.0L582.8 363.2L583.8 398.0L584.8 349.3L585.8 363.3L586.8 378.1L587.8 388.5L588.8 386.4L589.8 393.5L590.8 368.5L591.7 375.1L592.7 392.0L593.7 386.7L594.7 387.0L595.7 392.9L596.7 382.5L597.7 391.5L598.7 374.7L599.7 383.8L600.7 401.0L601.6 384.4L602.6 367.8L603.6 385.4L604.6 393.6L605.6 401.0" stroke="#FFFF00" stroke-width="2.4" fill="none" stroke-linejoin="round"/><path d="M110.8 401.0L111.8 401.0L112.8 401.0L113.8 401.0L114.8 401.0L115.7 401.0L116.7 401.0L117.7 401.0L118.7 401.0L119.7 401.0L120.7 401.0L121.7 401.0L122.7 401.0L123.7 401.0L124.7 401.0L125.6 328.1L126.6 284.0L127.6 337.0L128.6 391.2L129.6 401.0L130.6 401.0L131.6 401.0L132.6 389.5L133.6 310.9L134.6 244.8L135.5 309.3L136.5 392.4L137.5 401.0L138.5 401.0L139.5 401.0L140.5 401.0L141.5 401.0L142.5 401.0L143.5 401.0L144.4 401.0L145.4 401.0L146.4 401.0L147.4 401.0L148.4 401.0L149.4 401.0L150.4 401.0L151.4 401.0L152.4 401.0L153.4 401.0L154.3 401.0L155.3 401.0L156.3 401.0L157.3 401.0L158.3 401.0L159.3 401.0L160.3 401.0L161.3 401.0L162.3 401.0L163.2 401.0L164.2 401.0L165.2 401.0L166.2 401.0L167.2 401.0L168.2 401.0L169.2 401.0L170.2 401.0L171.2 401.0L172.2 401.0L173.1 401.0L174.1 401.0L175.1 401.0L176.1 401.0L177.1 399.8L178.1 336.1L179.1 299.2L180.1 338.3L181.1 401.0L182.1 401.0L183.0 401.0L184.0 401.0L185.0 396.5L186.0 331.3L187.0 256.5L188.0 323.6L189.0 401.0L190.0 401.0L191.0 401.0L191.9 401.0L192.9 401.0L193.9 401.0L194.9 401.0L195.9 401.0L196.9 401.0L197.9 401.0L198.9 401.0L199.9 401.0L200.9 401.0L201.8 401.0L202.8 401.0L203.8 401.0L204.8 401.0L205.8 401.0L206.8 401.0L207.8 401.0L208.8 401.0L209.8 401.0L210.7 401.0L211.7 401.0L212.7 401.0L213.7 401.0L214.7 401.0L215.7 401.0L216.7 401.0L217.7 401.0L218.7 401.0L219.7 401.0L220.6 401.0L221.6 401.0L222.6 401.0L223.6 401.0L224.6 401.0L225.6 401.0L226.6 401.0L227.6 401.0L228.6 401.0L229.6 401.0L230.5 401.0L231.5 346.1L232.5 306.7L233.5 346.2L234.5 401.0L235.5 401.0L236.5 401.0L237.5 401.0L238.5 333.9L239.4 269.1L240.4 326.6L241.4 401.0L242.4 401.0L243.4 401.0L244.4 401.0L245.4 401.0L246.4 401.0L247.4 401.0L248.4 401.0L249.3 401.0L250.3 401.0L251.3 401.0L252.3 401.0L253.3 401.0L254.3 401.0L255.3 401.0L256.3 401.0L257.3 401.0L258.3 401.0L259.2 401.0L260.2 401.0L261.2 401.0L262.2 401.0L263.2 401.0L264.2 401.0L265.2 401.0L266.2 401.0L267.2 401.0L268.1 401.0L269.1 401.0L270.1 401.0L271.1 401.0L272.1 401.0L273.1 401.0L274.1 401.0L275.1 401.0L276.1 401.0L277.1 401.0L278.0 401.0L279.0 401.0L280.0 401.0L281.0 401.0L282.0 401.0L283.0 401.0L284.0 400.3L285.0 320.3L286.0 272.1L286.9 308.5L287.9 393.7L288.9 401.0L289.9 401.0L290.9 401.0L291.9 392.9L292.9 319.6L293.9 250.9L294.9 307.6L295.9 401.0L296.8 401.0L297.8 401.0L298.8 401.0L299.8 401.0L300.8 401.0L301.8 401.0L302.8 401.0L303.8 401.0L304.8 401.0L305.8 401.0L306.7 401.0L307.7 401.0L308.7 401.0L309.7 401.0L310.7 401.0L311.7 401.0L312.7 401.0L313.7 401.0L314.7 401.0L315.6 401.0L316.6 401.0L317.6 401.0L318.6 401.0L319.6 401.0L320.6 401.0L321.6 401.0L322.6 401.0L323.6 401.0L324.6 401.0L325.5 401.0L326.5 401.0L327.5 401.0L328.5 401.0L329.5 401.0L330.5 401.0L331.5 401.0L332.5 401.0L333.5 401.0L334.4 401.0L335.4 401.0L336.4 401.0L337.4 401.0L338.4 401.0L339.4 336.8L340.4 299.4L341.4 334.8L342.4 401.0L343.4 401.0L344.3 401.0L345.3 401.0L346.3 400.6L347.3 317.1L348.3 254.1L349.3 311.7L350.3 401.0L351.3 401.0L352.3 401.0L353.3 401.0L354.2 401.0L355.2 401.0L356.2 401.0L357.2 401.0L358.2 401.0L359.2 401.0L360.2 401.0L361.2 401.0L362.2 401.0L363.1 401.0L364.1 401.0L365.1 401.0L366.1 401.0L367.1 401.0L368.1 401.0L369.1 401.0L370.1 401.0L371.1 401.0L372.1 401.0L373.0 401.0L374.0 401.0L375.0 401.0L376.0 401.0L377.0 401.0L378.0 401.0L379.0 401.0L380.0 401.0L381.0 401.0L382.0 401.0L382.9 401.0L383.9 401.0L384.9 401.0L385.9 401.0L386.9 401.0L387.9 401.0L388.9 401.0L389.9 401.0L390.9 401.0L391.8 400.5L392.8 317.6L393.8 273.7L394.8 317.0L395.8 398.1L396.8 401.0L397.8 401.0L398.8 401.0L399.8 399.4L400.8 317.7L401.7 252.2L402.7 318.9L403.7 399.1L404.7 401.0L405.7 401.0L406.7 401.0L407.7 401.0L408.7 401.0L409.7 401.0L410.6 401.0L411.6 401.0L412.6 401.0L413.6 401.0L414.6 401.0L415.6 401.0L416.6 401.0L417.6 401.0L418.6 401.0L419.6 401.0L420.5 401.0L421.5 401.0L422.5 401.0L423.5 401.0L424.5 401.0L425.5 401.0L426.5 401.0L427.5 401.0L428.5 401.0L429.5 401.0L430.4 401.0L431.4 401.0L432.4 401.0L433.4 401.0L434.4 401.0L435.4 401.0L436.4 401.0L437.4 401.0L438.4 401.0L439.3 401.0L440.3 401.0L441.3 401.0L442.3 401.0L443.3 401.0L444.3 401.0L445.3 401.0L446.3 401.0L447.3 401.0L448.3 401.0L449.2 336.6L450.2 288.8L451.2 336.0L452.2 401.0L453.2 401.0L454.2 401.0L455.2 401.0L456.2 395.0L457.2 329.2L458.1 259.9L459.1 323.3L460.1 401.0L461.1 401.0L462.1 401.0L463.1 401.0L464.1 401.0L465.1 401.0L466.1 401.0L467.1 401.0L468.0 401.0L469.0 401.0L470.0 401.0L471.0 401.0L472.0 401.0L473.0 401.0L474.0 401.0L475.0 401.0L476.0 401.0L477.0 401.0L477.9 401.0L478.9 401.0L479.9 401.0L480.9 401.0L481.9 401.0L482.9 401.0L483.9 401.0L484.9 401.0L485.9 401.0L486.8 401.0L487.8 401.0L488.8 401.0L489.8 401.0L490.8 401.0L491.8 401.0L492.8 401.0L493.8 401.0L494.8 401.0L495.8 401.0L496.7 401.0L497.7 401.0L498.7 401.0L499.7 401.0L500.7 401.0L501.7 401.0L502.7 401.0L503.7 384.0L504.7 317.5L505.7 270.8L506.6 310.6L507.6 392.6L508.6 401.0L509.6 401.0L510.6 401.0L511.6 401.0L512.6 332.2L513.6 266.6L514.6 332.5L515.5 401.0L516.5 401.0L517.5 401.0L518.5 401.0L519.5 401.0L520.5 401.0L521.5 401.0L522.5 401.0L523.5 401.0L524.5 401.0L525.4 401.0L526.4 401.0L527.4 401.0L528.4 401.0L529.4 401.0L530.4 401.0L531.4 401.0L532.4 401.0L533.4 401.0L534.3 401.0L535.3 401.0L536.3 401.0L537.3 401.0L538.3 401.0L539.3 401.0L540.3 401.0L541.3 401.0L542.3 401.0L543.3 401.0L544.2 401.0L545.2 401.0L546.2 401.0L547.2 401.0L548.2 401.0L549.2 401.0L550.2 401.0L551.2 401.0L552.2 401.0L553.2 401.0L554.1 401.0L555.1 401.0L556.1 401.0L557.1 401.0L558.1 401.0L559.1 397.4L560.1 328.7L561.1 289.8L562.1 332.7L563.0 400.6L564.0 401.0L565.0 401.0L566.0 401.0L567.0 401.0L568.0 401.0L569.0 318.6L570.0 253.7L571.0 321.3L572.0 397.3L572.9 401.0L573.9 401.0L574.9 401.0L575.9 401.0L576.9 401.0L577.9 401.0L578.9 401.0L579.9 401.0L580.9 401.0L581.8 401.0L582.8 401.0L583.8 401.0L584.8 401.0L585.8 401.0L586.8 401.0L587.8 401.0L588.8 401.0L589.8 401.0L590.8 401.0L591.7 401.0L592.7 401.0L593.7 401.0L594.7 401.0L595.7 401.0L596.7 401.0L597.7 401.0L598.7 401.0L599.7 401.0L600.7 401.0L601.6 401.0L602.6 401.0L603.6 401.0L604.6 401.0L605.6 401.0" stroke="#808000" stroke-width="2.4" fill="none" stroke-linejoin="round"/><path d="M110.8 310.5L111.8 356.6L112.8 313.6L113.8 345.0L114.8 300.6L115.7 269.9L116.7 247.3L117.7 270.7L118.7 297.5L119.7 293.6L120.7 332.2L121.7 315.3L122.7 324.0L123.7 294.9L124.7 273.1L125.6 243.0L126.6 225.2L127.6 246.6L128.6 281.2L129.6 307.8L130.6 339.7L131.6 306.5L132.6 344.0L133.6 311.1L134.6 361.6L135.5 363.4L136.5 373.1L137.5 367.3L138.5 367.1L139.5 371.5L140.5 391.5L141.5 401.0L142.5 379.3L143.5 364.7L144.4 372.0L145.4 401.0L146.4 364.5L147.4 392.6L148.4 401.0L149.4 383.8L150.4 401.0L151.4 358.5L152.4 377.9L153.4 397.4L154.3 390.3L155.3 378.9L156.3 385.9L157.3 390.0L158.3 333.4L159.3 376.5L160.3 375.2L161.3 396.8L162.3 341.9L163.2 337.2L164.2 323.9L165.2 328.9L166.2 289.9L167.2 274.6L168.2 237.9L169.2 209.5L170.2 236.2L171.2 270.2L172.2 279.6L173.1 303.2L174.1 294.8L175.1 296.9L176.1 291.8L177.1 268.4L178.1 234.5L179.1 214.4L180.1 235.7L181.1 267.6L182.1 296.5L183.0 304.9L184.0 353.3L185.0 357.8L186.0 302.8L187.0 337.9L188.0 354.3L189.0 351.1L190.0 394.6L191.0 394.9L191.9 357.6L192.9 401.0L193.9 367.9L194.9 401.0L195.9 355.7L196.9 372.2L197.9 386.6L198.9 375.7L199.9 378.2L200.9 401.0L201.8 401.0L202.8 389.0L203.8 373.7L204.8 401.0L205.8 378.8L206.8 343.6L207.8 381.7L208.8 380.7L209.8 401.0L210.7 344.0L211.7 373.4L212.7 373.5L213.7 384.8L214.7 334.6L215.7 346.3L216.7 330.8L217.7 325.6L218.7 312.1L219.7 276.3L220.6 239.5L221.6 214.0L222.6 240.7L223.6 275.2L224.6 301.4L225.6 298.3L226.6 294.7L227.6 318.6L228.6 312.1L229.6 285.7L230.5 265.2L231.5 233.0L232.5 211.5L233.5 232.2L234.5 266.4L235.5 291.6L236.5 306.5L237.5 359.8L238.5 335.9L239.4 344.8L240.4 357.9L241.4 373.4L242.4 398.5L243.4 401.0L244.4 379.4L245.4 401.0L246.4 350.0L247.4 368.7L248.4 384.7L249.3 361.1L250.3 376.3L251.3 388.7L252.3 355.2L253.3 377.8L254.3 381.3L255.3 372.9L256.3 374.2L257.3 370.3L258.3 390.2L259.2 385.7L260.2 368.4L261.2 374.9L262.2 368.3L263.2 400.1L264.2 379.1L265.2 383.2L266.2 365.8L267.2 350.3L268.1 366.0L269.1 349.0L270.1 340.7L271.1 322.8L272.1 312.9L273.1 290.9L274.1 255.7L275.1 228.6L276.1 252.9L277.1 281.2L278.0 305.0L279.0 327.8L280.0 322.6L281.0 312.7L282.0 330.1L283.0 300.1L284.0 271.5L285.0 241.1L286.0 221.1L286.9 242.1L287.9 277.2L288.9 303.0L289.9 324.4L290.9 338.8L291.9 350.4L292.9 359.4L293.9 344.9L294.9 362.4L295.9 379.4L296.8 374.4L297.8 401.0L298.8 383.0L299.8 341.3L300.8 354.5L301.8 368.8L302.8 398.6L303.8 382.1L304.8 337.5L305.8 381.9L306.7 382.9L307.7 359.3L308.7 348.8L309.7 365.0L310.7 349.0L311.7 391.4L312.7 348.4L313.7 378.9L314.7 362.3L315.6 401.0L316.6 361.4L317.6 373.0L318.6 357.7L319.6 379.1L320.6 388.7L321.6 359.5L322.6 334.8L323.6 342.6L324.6 335.5L325.5 318.5L326.5 287.0L327.5 267.8L328.5 231.9L329.5 201.1L330.5 229.9L331.5 265.6L332.5 298.3L333.5 307.1L334.4 308.4L335.4 304.0L336.4 301.7L337.4 285.8L338.4 269.8L339.4 238.7L340.4 218.7L341.4 236.7L342.4 270.9L343.4 280.8L344.3 294.3L345.3 336.5L346.3 324.1L347.3 330.8L348.3 333.8L349.3 378.5L350.3 370.3L351.3 374.5L352.3 347.1L353.3 371.3L354.2 393.0L355.2 395.5L356.2 382.6L357.2 401.0L358.2 401.0L359.2 384.9L360.2 364.7L361.2 379.1L362.2 384.3L363.1 401.0L364.1 401.0L365.1 401.0L366.1 378.5L367.1 384.0L368.1 394.6L369.1 336.9L370.1 385.1L371.1 355.3L372.1 377.0L373.0 367.0L374.0 396.6L375.0 367.5L376.0 350.3L377.0 401.0L378.0 326.1L379.0 356.5L380.0 327.7L381.0 304.1L382.0 265.1L382.9 239.1L383.9 266.9L384.9 302.9L385.9 315.7L386.9 339.8L387.9 346.3L388.9 341.2L389.9 313.6L390.9 326.0L391.8 296.2L392.8 258.0L393.8 238.0L394.8 260.6L395.8 287.9L396.8 322.3L397.8 347.6L398.8 367.9L399.8 328.5L400.8 366.8L401.7 337.7L402.7 360.3L403.7 389.9L404.7 350.1L405.7 380.0L406.7 365.8L407.7 401.0L408.7 401.0L409.7 394.4L410.6 401.0L411.6 368.4L412.6 376.5L413.6 401.0L414.6 384.1L415.6 401.0L416.6 394.5L417.6 388.1L418.6 401.0L419.6 401.0L420.5 389.9L421.5 399.6L422.5 360.1L423.5 401.0L424.5 379.8L425.5 355.4L426.5 359.0L427.5 372.4L428.5 390.8L429.5 379.4L430.4 358.0L431.4 365.5L432.4 354.2L433.4 356.5L434.4 341.2L435.4 300.2L436.4 286.3L437.4 257.9L438.4 227.6L439.3 253.5L440.3 293.9L441.3 323.5L442.3 332.1L443.3 338.9L444.3 337.4L445.3 339.1L446.3 295.1L447.3 307.1L448.3 273.9L449.2 241.1L450.2 220.2L451.2 241.2L452.2 273.5L453.2 305.5L454.2 310.2L455.2 320.6L456.2 357.4L457.2 400.2L458.1 361.2L459.1 361.0L460.1 383.2L461.1 379.0L462.1 349.8L463.1 380.8L464.1 371.0L465.1 390.0L466.1 387.4L467.1 390.4L468.0 378.9L469.0 386.7L470.0 378.4L471.0 385.4L472.0 375.7L473.0 374.4L474.0 385.2L475.0 395.8L476.0 401.0L477.0 401.0L477.9 373.6L478.9 380.8L479.9 386.7L480.9 394.3L481.9 374.6L482.9 382.3L483.9 351.1L484.9 365.6L485.9 374.1L486.8 368.0L487.8 346.3L488.8 301.1L489.8 317.8L490.8 303.3L491.8 268.3L492.8 229.7L493.8 202.1L494.8 229.2L495.8 265.8L496.7 290.9L497.7 306.2L498.7 325.4L499.7 314.7L500.7 318.0L501.7 292.8L502.7 300.4L503.7 267.7L504.7 238.2L505.7 215.0L506.6 238.3L507.6 269.0L508.6 291.7L509.6 315.3L510.6 310.2L511.6 340.5L512.6 358.8L513.6 376.0L514.6 357.8L515.5 363.1L516.5 388.4L517.5 378.6L518.5 366.1L519.5 392.8L520.5 344.7L521.5 400.6L522.5 391.1L523.5 380.9L524.5 338.3L525.4 379.2L526.4 398.6L527.4 401.0L528.4 401.0L529.4 401.0L530.4 370.2L531.4 399.5L532.4 401.0L533.4 388.0L534.3 377.2L535.3 401.0L536.3 396.7L537.3 384.3L538.3 360.3L539.3 345.1L540.3 356.8L541.3 366.4L542.3 380.0L543.3 336.7L544.2 376.9L545.2 338.0L546.2 312.0L547.2 293.7L548.2 257.3L549.2 229.1L550.2 256.5L551.2 296.7L552.2 319.4L553.2 339.7L554.1 297.6L555.1 349.1L556.1 317.9L557.1 342.1L558.1 296.9L559.1 282.4L560.1 252.1L561.1 231.4L562.1 252.4L563.0 292.0L564.0 307.8L565.0 349.0L566.0 318.6L567.0 331.2L568.0 344.9L569.0 358.7L570.0 366.7L571.0 401.0L572.0 384.9L572.9 376.5L573.9 380.4L574.9 362.7L575.9 368.2L576.9 385.0L577.9 380.2L578.9 364.6L579.9 391.6L580.9 394.4L581.8 401.0L582.8 401.0L583.8 401.0L584.8 391.2L585.8 401.0L586.8 401.0L587.8 401.0L588.8 392.4L589.8 373.4L590.8 370.7L591.7 367.6L592.7 396.9L593.7 389.0L594.7 375.0L595.7 390.7L596.7 332.9L597.7 383.3L598.7 343.8L599.7 360.4L600.7 335.0L601.6 305.2L602.6 274.1L603.6 237.1L604.6 206.6L605.6 235.5" stroke="#000080" stroke-width="2.4" fill="none" stroke-linejoin="round"/><path d="M110.8 363.2L111.8 349.1L112.8 358.3L113.8 360.6L114.8 309.2L115.7 280.6L116.7 255.4L117.7 281.0L118.7 315.5L119.7 328.4L120.7 336.7L121.7 352.1L122.7 329.8L123.7 320.9L124.7 295.5L125.6 257.5L126.6 234.6L127.6 257.1L128.6 289.1L129.6 303.1L130.6 328.1L131.6 349.1L132.6 364.8L133.6 343.5L134.6 385.4L135.5 390.3L136.5 372.6L137.5 372.3L138.5 401.0L139.5 382.8L140.5 398.5L141.5 395.7L142.5 401.0L143.5 401.0L144.4 377.6L145.4 391.9L146.4 401.0L147.4 401.0L148.4 401.0L149.4 401.0L150.4 401.0L151.4 389.9L152.4 393.3L153.4 401.0L154.3 361.5L155.3 385.6L156.3 401.0L157.3 400.1L158.3 397.8L159.3 401.0L160.3 368.5L161.3 362.0L162.3 389.8L163.2 376.4L164.2 371.3L165.2 374.8L166.2 376.6L167.2 352.3L168.2 301.1L169.2 278.0L170.2 302.0L171.2 329.1L172.2 341.0L173.1 354.8L174.1 371.9L175.1 360.7L176.1 307.2L177.1 292.5L178.1 261.4L179.1 239.0L180.1 259.4L181.1 286.1L182.1 307.9L183.0 333.4L184.0 347.4L185.0 384.6L186.0 369.2L187.0 390.0L188.0 383.5L189.0 401.0L190.0 384.7L191.0 401.0L191.9 382.6L192.9 401.0L193.9 390.3L194.9 400.1L195.9 401.0L196.9 399.3L197.9 401.0L198.9 383.8L199.9 401.0L200.9 359.9L201.8 401.0L202.8 401.0L203.8 401.0L204.8 398.7L205.8 401.0L206.8 401.0L207.8 401.0L208.8 401.0L209.8 393.1L210.7 393.9L211.7 391.4L212.7 401.0L213.7 384.5L214.7 397.7L215.7 380.3L216.7 386.5L217.7 351.1L218.7 324.8L219.7 316.5L220.6 278.6L221.6 252.7L222.6 280.2L223.6 309.8L224.6 343.4L225.6 339.7L226.6 331.8L227.6 316.8L228.6 332.7L229.6 298.1L230.5 275.5L231.5 245.0L232.5 222.9L233.5 244.6L234.5 278.0L235.5 307.4L236.5 319.6L237.5 381.9L238.5 375.4L239.4 366.0L240.4 351.9L241.4 399.2L242.4 401.0L243.4 401.0L244.4 378.6L245.4 401.0L246.4 383.7L247.4 364.7L248.4 393.8L249.3 374.4L250.3 384.2L251.3 371.0L252.3 401.0L253.3 401.0L254.3 386.3L255.3 372.3L256.3 401.0L257.3 391.0L258.3 401.0L259.2 401.0L260.2 401.0L261.2 401.0L262.2 401.0L263.2 379.0L264.2 401.0L265.2 379.8L266.2 365.1L267.2 401.0L268.1 360.5L269.1 386.2L270.1 377.0L271.1 383.7L272.1 395.1L273.1 357.5L274.1 312.4L275.1 288.8L276.1 308.3L277.1 327.7L278.0 369.7L279.0 369.6L280.0 341.6L281.0 377.5L282.0 331.4L283.0 341.2L284.0 291.5L285.0 264.9L286.0 243.9L286.9 265.2L287.9 287.2L288.9 339.5L289.9 362.5L290.9 340.3L291.9 351.3L292.9 381.2L293.9 368.4L294.9 388.7L295.9 379.4L296.8 395.0L297.8 393.1L298.8 395.3L299.8 401.0L300.8 401.0L301.8 394.1L302.8 401.0L303.8 401.0L304.8 400.4L305.8 363.1L306.7 389.5L307.7 397.5L308.7 401.0L309.7 401.0L310.7 401.0L311.7 401.0L312.7 401.0L313.7 401.0L314.7 401.0L315.6 401.0L316.6 401.0L317.6 401.0L318.6 389.9L319.6 401.0L320.6 401.0L321.6 389.2L322.6 365.7L323.6 387.3L324.6 386.1L325.5 371.7L326.5 339.9L327.5 323.2L328.5 290.2L329.5 260.4L330.5 289.2L331.5 323.4L332.5 343.2L333.5 334.4L334.4 351.0L335.4 365.3L336.4 340.4L337.4 330.1L338.4 298.1L339.4 262.6L340.4 240.6L341.4 262.9L342.4 294.6L343.4 310.8L344.3 323.0L345.3 324.6L346.3 375.6L347.3 388.3L348.3 393.1L349.3 380.2L350.3 401.0L351.3 397.7L352.3 401.0L353.3 401.0L354.2 378.6L355.2 401.0L356.2 401.0L357.2 401.0L358.2 397.6L359.2 401.0L360.2 390.8L361.2 384.8L362.2 383.1L363.1 400.5L364.1 401.0L365.1 401.0L366.1 401.0L367.1 401.0L368.1 401.0L369.1 401.0L370.1 401.0L371.1 396.2L372.1 363.2L373.0 399.9L374.0 394.4L375.0 382.6L376.0 399.0L377.0 390.0L378.0 401.0L379.0 398.7L380.0 374.0L381.0 372.7L382.0 304.0L382.9 284.0L383.9 305.8L384.9 342.3L385.9 401.0L386.9 350.9L387.9 366.8L388.9 324.3L389.9 335.1L390.9 350.7L391.8 322.0L392.8 274.8L393.8 253.1L394.8 274.4L395.8 293.7L396.8 308.7L397.8 337.9L398.8 356.0L399.8 377.5L400.8 368.5L401.7 401.0L402.7 376.1L403.7 396.4L404.7 366.8L405.7 401.0L406.7 387.5L407.7 395.3L408.7 401.0L409.7 377.4L410.6 401.0L411.6 401.0L412.6 401.0L413.6 393.5L414.6 394.6L415.6 401.0L416.6 401.0L417.6 361.5L418.6 401.0L419.6 401.0L420.5 401.0L421.5 401.0L422.5 401.0L423.5 399.3L424.5 401.0L425.5 400.5L426.5 401.0L427.5 401.0L428.5 401.0L429.5 392.8L430.4 401.0L431.4 375.8L432.4 373.1L433.4 401.0L434.4 369.7L435.4 390.3L436.4 361.4L437.4 298.6L438.4 274.8L439.3 303.9L440.3 317.8L441.3 365.8L442.3 340.3L443.3 359.3L444.3 337.1L445.3 336.5L446.3 344.1L447.3 330.0L448.3 294.5L449.2 261.3L450.2 238.4L451.2 262.9L452.2 296.7L453.2 330.1L454.2 318.9L455.2 387.9L456.2 377.8L457.2 366.4L458.1 380.7L459.1 401.0L460.1 390.6L461.1 378.5L462.1 398.7L463.1 391.3L464.1 401.0L465.1 361.8L466.1 401.0L467.1 401.0L468.0 401.0L469.0 401.0L470.0 401.0L471.0 390.1L472.0 401.0L473.0 396.5L474.0 401.0L475.0 401.0L476.0 399.8L477.0 401.0L477.9 401.0L478.9 399.0L479.9 392.2L480.9 394.2L481.9 401.0L482.9 401.0L483.9 397.7L484.9 401.0L485.9 398.5L486.8 401.0L487.8 401.0L488.8 379.7L489.8 345.7L490.8 360.6L491.8 358.5L492.8 323.9L493.8 286.6L494.8 321.0L495.8 364.0L496.7 357.8L497.7 362.5L498.7 360.2L499.7 348.5L500.7 364.4L501.7 335.1L502.7 309.2L503.7 287.4L504.7 253.8L505.7 234.2L506.6 256.2L507.6 292.6L508.6 306.7L509.6 334.0L510.6 340.4L511.6 375.9L512.6 370.0L513.6 371.6L514.6 374.3L515.5 396.6L516.5 386.7L517.5 401.0L518.5 370.4L519.5 401.0L520.5 398.5L521.5 401.0L522.5 401.0L523.5 401.0L524.5 377.0L525.4 369.5L526.4 401.0L527.4 401.0L528.4 401.0L529.4 392.4L530.4 401.0L531.4 401.0L532.4 399.8L533.4 401.0L534.3 356.0L535.3 401.0L536.3 392.5L537.3 399.2L538.3 389.8L539.3 391.2L540.3 397.8L541.3 401.0L542.3 377.9L543.3 384.1L544.2 376.2L545.2 363.8L546.2 362.9L547.2 322.0L548.2 285.3L549.2 256.2L550.2 281.1L551.2 328.1L552.2 328.4L553.2 375.3L554.1 368.3L555.1 337.7L556.1 348.2L557.1 324.9L558.1 303.8L559.1 282.1L560.1 245.2L561.1 224.3L562.1 247.5L563.0 278.7L564.0 306.1L565.0 307.3L566.0 328.2L567.0 343.9L568.0 378.2L569.0 362.4L570.0 381.4L571.0 383.7L572.0 375.0L572.9 401.0L573.9 367.4L574.9 385.9L575.9 401.0L576.9 398.0L577.9 393.6L578.9 394.7L579.9 401.0L580.9 401.0L581.8 401.0L582.8 401.0L583.8 401.0L584.8 401.0L585.8 401.0L586.8 401.0L587.8 395.5L588.8 399.5L589.8 391.5L590.8 401.0L591.7 401.0L592.7 401.0L593.7 401.0L594.7 400.6L595.7 401.0L596.7 376.3L597.7 375.0L598.7 386.5L599.7 361.0L600.7 343.9L601.6 384.4L602.6 323.6L603.6 287.0L604.6 256.8L605.6 290.7" stroke="#800080" stroke-width="2.4" fill="none" stroke-linejoin="round"/></g><g clip-path="url(#cb)"><path d="M796.5 291.0L797.6 290.9L798.6 290.3L799.7 289.2L800.8 288.6L801.8 289.3L802.9 291.0L804.0 292.3L805.0 292.4L806.1 291.6L807.2 291.1L808.2 291.0L809.3 290.8L810.4 290.7L811.4 291.1L812.5 291.2L813.6 290.4L814.6 288.9L815.7 287.7L816.8 287.3L817.8 287.9L818.9 289.4L820.0 290.8L821.0 290.9L822.1 289.5L823.2 287.2L824.2 285.4L825.3 285.1L826.4 285.6L827.4 286.1L828.5 287.2L829.6 289.1L830.6 291.3L831.7 292.8L832.8 293.0L833.8 292.0L834.9 290.9L836.0 290.8L837.0 291.6L838.1 292.1L839.2 291.4L840.2 289.6L841.3 287.1L842.4 284.9L843.4 283.7L844.5 283.3L845.6 283.7L846.6 284.9L847.7 286.4L848.8 287.1L849.8 286.7L850.9 286.0L852.0 286.1L853.0 287.3L854.1 288.8L855.2 289.9L856.2 290.5L857.3 290.5L858.4 289.8L859.4 288.8L860.5 288.3L861.6 288.3L862.6 288.6L863.7 288.7L864.8 288.4L865.9 288.3L866.9 289.1L868.0 290.3L869.1 290.9L870.1 290.4L871.2 288.8L872.3 286.9L873.3 285.8L874.4 285.8L875.5 286.5L876.5 286.9L877.6 287.4L878.7 288.8L879.7 289.9L880.8 289.7L881.9 288.3L882.9 286.4L884.0 285.2L885.1 285.4L886.1 286.7L887.2 288.1L888.3 288.9L889.3 288.9L890.4 288.6L891.5 288.3L892.5 288.0L893.6 287.5L894.7 286.6L895.7 285.5L896.8 284.2L897.9 283.4L898.9 283.8L900.0 285.5L901.1 287.9L902.1 289.6L903.2 289.9L904.3 289.5L905.3 289.5L906.4 289.6L907.5 289.2L908.5 287.7L909.6 285.7L910.7 284.5L911.7 284.5L912.8 285.0L913.9 285.4L914.9 285.9L916.0 287.1L917.1 288.7L918.1 290.0L919.2 290.2L920.3 289.5L921.3 288.7L922.4 288.8L923.5 288.8L924.5 287.5L925.6 285.6L926.7 284.5L927.7 284.3L928.8 284.7L929.9 285.7L930.9 286.6L932.0 286.8L933.1 286.1L934.1 285.8L935.2 286.1L936.3 286.5L937.3 286.2L938.4 285.8L939.5 285.3L940.5 284.5L941.6 283.9L942.7 283.7L943.7 283.9L944.8 284.5L945.9 286.0L946.9 287.6L948.0 287.7L949.1 286.5L950.1 286.0L951.2 287.0L952.3 287.7L953.3 287.0L954.4 285.7L955.5 285.1L956.5 284.7L957.6 284.0L958.7 283.0L959.7 282.6L960.8 282.7L961.9 283.0L962.9 282.9L964.0 282.7L965.1 282.7L966.1 282.2L967.2 280.8L968.3 279.4L969.3 278.9L970.4 278.7L971.5 278.2L972.5 277.6L973.6 278.2L974.7 279.8L975.7 281.2L976.8 281.4L977.9 280.8L978.9 280.3L980.0 280.5L981.1 281.0L982.1 280.4L983.2 279.3L984.3 278.8L985.3 278.7L986.4 278.7L987.5 278.5L988.5 278.3L989.6 278.1L990.7 277.7L991.7 277.1L992.8 277.2L993.9 278.0L994.9 278.8L996.0 278.5L997.1 277.4L998.1 276.4L999.2 275.7L1000.3 275.1L1001.4 274.5L1002.4 273.6L1003.5 272.7L1004.6 272.4L1005.6 272.7L1006.7 273.0L1007.8 272.9L1008.8 272.7L1009.9 273.0L1011.0 273.5L1012.0 274.0L1013.1 273.9L1014.2 273.2L1015.2 272.2L1016.3 271.5L1017.4 271.0L1018.4 270.3L1019.5 269.8L1020.6 269.7L1021.6 269.6L1022.7 269.2L1023.8 268.7L1024.8 267.9L1025.9 267.3L1027.0 267.2L1028.0 267.5L1029.1 267.1L1030.2 265.7L1031.2 264.4L1032.3 264.1L1033.4 264.2L1034.4 264.4L1035.5 264.7L1036.6 264.7L1037.6 263.9L1038.7 262.5L1039.8 260.9L1040.8 259.4L1041.9 258.6L1043.0 258.4L1044.0 258.5L1045.1 259.2L1046.2 260.5L1047.2 261.1L1048.3 260.6L1049.4 259.4L1050.4 258.2L1051.5 257.4L1052.6 257.0L1053.6 256.6L1054.7 256.0L1055.8 255.2L1056.8 254.1L1057.9 252.3L1059.0 250.1L1060.0 248.4L1061.1 248.1L1062.2 248.4L1063.2 248.2L1064.3 247.2L1065.4 246.2L1066.4 245.7L1067.5 245.3L1068.6 244.7L1069.6 244.1L1070.7 243.9L1071.8 243.5L1072.8 242.2L1073.9 240.2L1075.0 238.3L1076.0 237.1L1077.1 236.3L1078.2 235.7L1079.2 235.4L1080.3 235.5L1081.4 235.3L1082.4 234.5L1083.5 232.9L1084.6 230.9L1085.6 228.9L1086.7 227.6L1087.8 226.9L1088.8 226.5L1089.9 225.8L1091.0 224.1L1092.0 221.3L1093.1 218.1L1094.2 215.4L1095.2 213.5L1096.3 212.2L1097.4 211.1L1098.4 209.4L1099.5 206.8L1100.6 203.8L1101.6 201.5L1102.7 199.9L1103.8 198.5L1104.8 197.0L1105.9 195.5L1107.0 194.3L1108.0 192.7L1109.1 190.2L1110.2 186.9L1111.2 183.4L1112.3 180.1L1113.4 176.9L1114.4 173.5L1115.5 169.4L1116.6 165.0L1117.6 160.9L1118.7 157.4L1119.8 154.0L1120.8 150.2L1121.9 145.5L1123.0 140.2L1124.0 134.9L1125.1 129.8L1126.2 124.4L1127.2 118.9L1128.3 113.4L1129.4 108.5L1130.4 104.0L1131.5 99.9L1132.6 95.6L1133.6 91.1L1134.7 87.6L1135.8 85.6L1136.9 84.7L1137.9 83.9L1139.0 83.4L1140.1 83.6L1141.1 84.6L1142.2 86.8L1143.3 90.2L1144.3 94.3L1145.4 98.1L1146.5 101.1L1147.5 104.2L1148.6 108.6L1149.7 114.4L1150.7 120.9L1151.8 127.2L1152.9 133.1L1153.9 138.5L1155.0 143.3L1156.1 147.9L1157.1 152.6L1158.2 156.9L1159.3 160.7L1160.3 164.5L1161.4 168.5L1162.5 172.4L1163.5 176.4L1164.6 180.0L1165.7 182.9L1166.7 185.2L1167.8 187.5L1168.9 190.1L1169.9 193.1L1171.0 195.7L1172.1 197.4L1173.1 198.7L1174.2 200.3L1175.3 202.3L1176.3 204.4L1177.4 206.3L1178.5 207.9L1179.5 208.9L1180.6 210.1L1181.7 212.3L1182.7 215.3L1183.8 217.9L1184.9 219.5L1185.9 220.3L1187.0 220.9L1188.1 221.8L1189.1 223.4L1190.2 225.4L1191.3 227.0L1192.3 228.1L1193.4 229.5L1194.5 231.3L1195.5 232.8L1196.6 234.0L1197.7 234.9L1198.7 235.4L1199.8 236.2L1200.9 237.4L1201.9 238.7L1203.0 239.1L1204.1 239.1L1205.1 239.4L1206.2 240.4L1207.3 241.9L1208.3 243.5L1209.4 245.2L1210.5 247.2L1211.5 248.9L1212.6 250.0L1213.7 250.7L1214.7 251.4L1215.8 252.4L1216.9 253.7L1217.9 255.1L1219.0 255.9L1220.1 256.2L1221.1 256.4L1222.2 256.9L1223.3 257.4L1224.3 257.5L1225.4 257.4L1226.5 257.4L1227.5 257.5L1228.6 257.9L1229.7 258.3L1230.7 258.6L1231.8 259.6L1232.9 261.1L1233.9 262.2L1235.0 262.7L1236.1 263.4L1237.1 265.0L1238.2 266.2L1239.3 266.1L1240.3 265.1L1241.4 264.5L1242.5 264.5L1243.5 264.7L1244.6 265.9L1245.7 268.4L1246.7 271.2L1247.8 272.5L1248.9 272.4L1249.9 271.6L1251.0 270.5L1252.1 269.7L1253.1 269.3L1254.2 269.0L1255.3 268.8L1256.3 269.6L1257.4 271.3L1258.5 273.1L1259.5 273.9L1260.6 273.9L1261.7 272.9L1262.7 270.8L1263.8 268.8L1264.9 268.5L1265.9 269.9L1267.0 271.9L1268.1 273.7L1269.1 275.0L1270.2 275.2L1271.3 274.1L1272.4 272.6L1273.4 272.4L1274.5 273.6L1275.6 275.6L1276.6 277.6L1277.7 279.3L1278.8 279.6L1279.8 278.2L1280.9 275.8L1282.0 274.0L1283.0 273.9L1284.1 275.8L1285.2 278.1L1286.2 279.0L1287.3 278.5L1288.4 278.5L1289.4 280.4L1290.5 283.8L1291.6 287.3L1292.6 289.9L1293.7 291.2" stroke="#000000" stroke-width="2.6" fill="none" stroke-linejoin="round"/><path d="M796.5 316.8L797.6 317.1L798.6 317.0L799.7 315.0L800.8 312.3L801.8 310.8L802.9 310.4L804.0 309.9L805.0 309.0L806.1 308.3L807.2 308.1L808.2 308.7L809.3 309.7L810.4 310.4L811.4 310.2L812.5 309.7L813.6 310.3L814.6 311.9L815.7 312.7L816.8 311.7L817.8 310.2L818.9 309.9L820.0 310.8L821.0 312.2L822.1 313.1L823.2 313.0L824.2 311.7L825.3 310.0L826.4 308.6L827.4 307.4L828.5 306.6L829.6 306.3L830.6 306.3L831.7 306.8L832.8 308.1L833.8 310.0L834.9 311.0L836.0 309.9L837.0 308.0L838.1 306.8L839.2 306.7L840.2 306.6L841.3 305.3L842.4 303.6L843.4 303.0L844.5 303.7L845.6 305.5L846.6 307.6L847.7 309.2L848.8 309.3L849.8 308.0L850.9 306.4L852.0 305.6L853.0 305.6L854.1 305.4L855.2 304.8L856.2 303.5L857.3 302.1L858.4 301.1L859.4 300.8L860.5 300.8L861.6 300.8L862.6 300.6L863.7 300.5L864.8 301.4L865.9 303.1L866.9 304.1L868.0 303.5L869.1 301.9L870.1 300.0L871.2 298.3L872.3 297.4L873.3 297.9L874.4 299.7L875.5 301.6L876.5 303.0L877.6 303.5L878.7 303.2L879.7 302.2L880.8 301.4L881.9 301.3L882.9 301.4L884.0 300.9L885.1 299.9L886.1 299.1L887.2 298.6L888.3 298.5L889.3 298.8L890.4 299.3L891.5 299.2L892.5 298.3L893.6 297.1L894.7 296.1L895.7 295.8L896.8 296.3L897.9 296.3L898.9 295.8L900.0 296.1L901.1 297.9L902.1 300.0L903.2 301.0L904.3 300.4L905.3 298.7L906.4 296.8L907.5 295.5L908.5 294.8L909.6 294.9L910.7 295.8L911.7 297.0L912.8 297.7L913.9 297.2L914.9 295.9L916.0 294.6L917.1 293.6L918.1 293.0L919.2 292.9L920.3 293.0L921.3 292.8L922.4 292.6L923.5 292.6L924.5 292.3L925.6 291.8L926.7 291.9L927.7 292.4L928.8 292.5L929.9 291.8L930.9 291.3L932.0 291.1L933.1 290.1L934.1 288.2L935.2 287.2L936.3 288.0L937.3 289.5L938.4 290.1L939.5 290.4L940.5 291.6L941.6 293.3L942.7 293.9L943.7 293.0L944.8 291.1L945.9 289.3L946.9 288.4L948.0 288.2L949.1 288.2L950.1 287.8L951.2 287.0L952.3 286.5L953.3 286.8L954.4 287.1L955.5 286.2L956.5 284.0L957.6 281.7L958.7 280.2L959.7 279.5L960.8 279.1L961.9 278.7L962.9 278.2L964.0 277.8L965.1 277.6L966.1 277.0L967.2 276.3L968.3 275.8L969.3 275.9L970.4 276.4L971.5 277.0L972.5 277.3L973.6 277.3L974.7 276.8L975.7 275.9L976.8 275.1L977.9 274.8L978.9 275.3L980.0 275.6L981.1 275.1L982.1 273.8L983.2 272.6L984.3 271.6L985.3 270.6L986.4 269.7L987.5 269.9L988.5 271.1L989.6 272.4L990.7 272.4L991.7 271.1L992.8 269.1L993.9 266.5L994.9 263.9L996.0 262.4L997.1 262.6L998.1 263.3L999.2 262.9L1000.3 261.0L1001.4 258.9L1002.4 257.7L1003.5 256.8L1004.6 255.2L1005.6 253.2L1006.7 251.7L1007.8 251.2L1008.8 251.5L1009.9 252.0L1011.0 252.0L1012.0 251.6L1013.1 250.8L1014.2 249.2L1015.2 247.2L1016.3 245.4L1017.4 244.4L1018.4 243.5L1019.5 242.3L1020.6 241.0L1021.6 239.5L1022.7 238.1L1023.8 237.3L1024.8 237.0L1025.9 236.3L1027.0 234.7L1028.0 233.0L1029.1 231.9L1030.2 232.0L1031.2 232.8L1032.3 233.4L1033.4 233.1L1034.4 232.3L1035.5 232.0L1036.6 232.2L1037.6 232.6L1038.7 232.6L1039.8 232.3L1040.8 231.6L1041.9 230.6L1043.0 229.7L1044.0 229.4L1045.1 229.2L1046.2 228.3L1047.2 227.0L1048.3 226.3L1049.4 226.4L1050.4 226.5L1051.5 225.9L1052.6 224.2L1053.6 222.2L1054.7 220.2L1055.8 218.9L1056.8 218.3L1057.9 217.7L1059.0 216.4L1060.0 214.4L1061.1 212.5L1062.2 211.2L1063.2 210.3L1064.3 209.1L1065.4 207.3L1066.4 205.4L1067.5 203.8L1068.6 202.6L1069.6 201.0L1070.7 198.4L1071.8 194.6L1072.8 190.3L1073.9 186.3L1075.0 183.2L1076.0 180.8L1077.1 178.7L1078.2 176.6L1079.2 173.7L1080.3 169.2L1081.4 163.6L1082.4 157.9L1083.5 152.7L1084.6 147.7L1085.6 142.8L1086.7 138.2L1087.8 133.8L1088.8 129.6L1089.9 124.8L1091.0 119.5L1092.0 113.9L1093.1 108.9L1094.2 105.1L1095.2 102.5L1096.3 101.0L1097.4 100.7L1098.4 101.1L1099.5 101.8L1100.6 102.9L1101.6 105.1L1102.7 108.7L1103.8 113.1L1104.8 117.4L1105.9 121.1L1107.0 124.7L1108.0 129.0L1109.1 134.5L1110.2 141.3L1111.2 148.4L1112.3 154.6L1113.4 159.1L1114.4 162.4L1115.5 165.6L1116.6 169.3L1117.6 173.6L1118.7 177.8L1119.8 181.0L1120.8 183.5L1121.9 186.2L1123.0 189.5L1124.0 192.7L1125.1 195.4L1126.2 198.1L1127.2 200.8L1128.3 203.0L1129.4 204.6L1130.4 206.3L1131.5 208.5L1132.6 210.9L1133.6 213.5L1134.7 216.2L1135.8 218.7L1136.9 220.0L1137.9 220.3L1139.0 220.8L1140.1 222.2L1141.1 224.4L1142.2 226.6L1143.3 228.3L1144.3 229.5L1145.4 230.8L1146.5 232.5L1147.5 234.2L1148.6 235.8L1149.7 237.2L1150.7 238.2L1151.8 238.9L1152.9 239.5L1153.9 240.1L1155.0 240.6L1156.1 241.5L1157.1 242.9L1158.2 244.7L1159.3 246.0L1160.3 247.0L1161.4 248.1L1162.5 249.7L1163.5 251.3L1164.6 252.2L1165.7 251.8L1166.7 250.9L1167.8 251.1L1168.9 252.5L1169.9 254.0L1171.0 254.9L1172.1 255.4L1173.1 255.6L1174.2 256.3L1175.3 258.2L1176.3 261.2L1177.4 264.1L1178.5 265.6L1179.5 265.2L1180.6 263.7L1181.7 262.4L1182.7 262.1L1183.8 262.9L1184.9 264.4L1185.9 265.6L1187.0 265.5L1188.1 264.4L1189.1 263.7L1190.2 263.8L1191.3 264.9L1192.3 266.7L1193.4 268.8L1194.5 270.3L1195.5 270.6L1196.6 269.8L1197.7 269.2L1198.7 269.7L1199.8 271.5L1200.9 273.2L1201.9 273.8L1203.0 273.5L1204.1 273.3L1205.1 273.4L1206.2 274.2L1207.3 275.3L1208.3 276.6L1209.4 277.9L1210.5 278.6L1211.5 278.4L1212.6 277.8L1213.7 277.7L1214.7 277.9L1215.8 277.8L1216.9 277.2L1217.9 276.7L1219.0 276.5L1220.1 276.7L1221.1 277.4L1222.2 277.8L1223.3 277.0L1224.3 275.5L1225.4 275.2L1226.5 277.2L1227.5 280.3L1228.6 282.7L1229.7 283.5L1230.7 283.6L1231.8 283.9L1232.9 284.2L1233.9 283.8L1235.0 283.0L1236.1 282.5L1237.1 283.0L1238.2 284.7L1239.3 286.4L1240.3 287.1L1241.4 286.9L1242.5 286.3L1243.5 285.9L1244.6 285.6L1245.7 285.1L1246.7 284.6L1247.8 284.4L1248.9 284.6L1249.9 285.0L1251.0 285.6L1252.1 286.2L1253.1 285.7L1254.2 284.4L1255.3 283.8L1256.3 284.6L1257.4 286.4L1258.5 288.7L1259.5 290.8L1260.6 292.0L1261.7 292.0L1262.7 291.1L1263.8 289.1L1264.9 286.4L1265.9 284.9L1267.0 285.8L1268.1 288.6L1269.1 291.4L1270.2 293.4L1271.3 294.0L1272.4 293.5L1273.4 292.8L1274.5 292.7L1275.6 293.2L1276.6 293.8L1277.7 293.1L1278.8 291.2L1279.8 289.6L1280.9 289.9L1282.0 291.9L1283.0 294.3L1284.1 296.3L1285.2 297.6L1286.2 298.3L1287.3 298.2L1288.4 297.4L1289.4 296.6L1290.5 297.1L1291.6 299.2L1292.6 301.9L1293.7 303.8" stroke="#FF0000" stroke-width="2.6" fill="none" stroke-linejoin="round"/><path d="M796.5 330.2L797.6 332.3L798.6 334.5L799.7 334.2L800.8 331.5L801.8 327.8L802.9 325.4L804.0 325.1L805.0 326.8L806.1 329.5L807.2 330.9L808.2 330.0L809.3 328.8L810.4 327.7L811.4 325.9L812.5 324.9L813.6 325.3L814.6 325.4L815.7 324.3L816.8 322.7L817.8 321.5L818.9 321.2L820.0 322.4L821.0 324.3L822.1 325.0L823.2 324.7L824.2 324.9L825.3 324.9L826.4 324.1L827.4 323.0L828.5 321.9L829.6 321.1L830.6 322.6L831.7 325.8L832.8 326.6L833.8 323.7L834.9 319.0L836.0 314.6L837.0 313.2L838.1 315.6L839.2 318.3L840.2 319.0L841.3 318.9L842.4 319.4L843.4 320.2L844.5 320.7L845.6 320.3L846.6 318.0L847.7 314.9L848.8 313.1L849.8 313.3L850.9 314.6L852.0 315.1L853.0 313.6L854.1 311.3L855.2 309.6L856.2 308.5L857.3 308.1L858.4 310.4L859.4 315.1L860.5 318.3L861.6 317.4L862.6 314.2L863.7 312.1L864.8 311.3L865.9 310.9L866.9 311.3L868.0 312.9L869.1 313.5L870.1 311.4L871.2 308.6L872.3 307.1L873.3 305.8L874.4 305.1L875.5 305.2L876.5 305.9L877.6 305.7L878.7 304.1L879.7 302.8L880.8 303.2L881.9 303.7L882.9 302.9L884.0 301.6L885.1 300.0L886.1 299.0L887.2 298.8L888.3 298.7L889.3 298.3L890.4 298.4L891.5 299.7L892.5 301.4L893.6 302.7L894.7 303.4L895.7 303.2L896.8 301.5L897.9 298.4L898.9 295.6L900.0 295.7L901.1 298.3L902.1 299.8L903.2 297.6L904.3 294.3L905.3 292.8L906.4 292.3L907.5 292.0L908.5 292.7L909.6 294.1L910.7 293.9L911.7 291.8L912.8 289.8L913.9 289.4L914.9 289.9L916.0 289.1L917.1 286.7L918.1 285.3L919.2 285.0L920.3 284.9L921.3 284.5L922.4 282.9L923.5 281.0L924.5 280.4L925.6 281.3L926.7 282.7L927.7 283.2L928.8 282.6L929.9 280.7L930.9 278.4L932.0 277.6L933.1 278.8L934.1 279.3L935.2 277.9L936.3 276.9L937.3 276.9L938.4 276.1L939.5 274.4L940.5 273.4L941.6 273.9L942.7 274.4L943.7 273.5L944.8 270.5L945.9 267.5L946.9 267.2L948.0 268.3L949.1 266.9L950.1 263.0L951.2 259.7L952.3 258.4L953.3 258.8L954.4 259.6L955.5 259.6L956.5 259.6L957.6 260.8L958.7 262.3L959.7 262.4L960.8 260.8L961.9 258.4L962.9 256.6L964.0 256.2L965.1 256.8L966.1 257.1L967.2 256.2L968.3 254.3L969.3 252.3L970.4 250.7L971.5 249.8L972.5 249.7L973.6 249.7L974.7 248.3L975.7 246.2L976.8 244.5L977.9 242.8L978.9 240.7L980.0 238.9L981.1 238.1L982.1 238.7L983.2 239.4L984.3 238.3L985.3 235.7L986.4 232.9L987.5 230.1L988.5 227.4L989.6 225.7L990.7 225.5L991.7 225.8L992.8 225.5L993.9 224.8L994.9 224.4L996.0 223.5L997.1 221.6L998.1 218.9L999.2 216.3L1000.3 214.4L1001.4 212.7L1002.4 211.0L1003.5 209.6L1004.6 207.9L1005.6 205.8L1006.7 203.2L1007.8 200.4L1008.8 197.6L1009.9 195.0L1011.0 192.3L1012.0 189.6L1013.1 187.1L1014.2 184.5L1015.2 182.2L1016.3 180.3L1017.4 178.4L1018.4 175.7L1019.5 172.3L1020.6 168.5L1021.6 165.0L1022.7 162.2L1023.8 160.0L1024.8 157.9L1025.9 155.2L1027.0 152.4L1028.0 149.5L1029.1 146.3L1030.2 142.8L1031.2 139.7L1032.3 137.6L1033.4 136.5L1034.4 135.9L1035.5 135.5L1036.6 134.8L1037.6 134.4L1038.7 134.9L1039.8 136.2L1040.8 138.7L1041.9 143.0L1043.0 148.1L1044.0 152.2L1045.1 154.7L1046.2 157.0L1047.2 160.0L1048.3 162.9L1049.4 166.1L1050.4 170.2L1051.5 174.8L1052.6 178.9L1053.6 181.8L1054.7 183.8L1055.8 185.6L1056.8 188.4L1057.9 192.0L1059.0 195.3L1060.0 197.6L1061.1 200.1L1062.2 203.7L1063.2 207.3L1064.3 210.2L1065.4 212.9L1066.4 215.5L1067.5 217.4L1068.6 218.4L1069.6 218.8L1070.7 219.3L1071.8 220.7L1072.8 223.3L1073.9 227.1L1075.0 230.7L1076.0 232.6L1077.1 233.0L1078.2 232.8L1079.2 233.2L1080.3 234.4L1081.4 235.3L1082.4 235.9L1083.5 237.0L1084.6 238.8L1085.6 240.5L1086.7 242.6L1087.8 245.4L1088.8 248.1L1089.9 249.4L1091.0 250.6L1092.0 253.2L1093.1 255.5L1094.2 255.5L1095.2 253.9L1096.3 252.9L1097.4 253.6L1098.4 256.2L1099.5 258.7L1100.6 259.1L1101.6 257.8L1102.7 256.6L1103.8 256.6L1104.8 257.9L1105.9 260.1L1107.0 262.3L1108.0 264.1L1109.1 266.4L1110.2 268.7L1111.2 269.1L1112.3 267.4L1113.4 265.6L1114.4 266.4L1115.5 270.6L1116.6 275.7L1117.6 278.1L1118.7 277.7L1119.8 275.7L1120.8 273.6L1121.9 273.2L1123.0 274.9L1124.0 276.6L1125.1 276.3L1126.2 273.8L1127.2 271.7L1128.3 272.1L1129.4 274.2L1130.4 276.2L1131.5 278.3L1132.6 280.6L1133.6 282.4L1134.7 282.4L1135.8 281.6L1136.9 282.4L1137.9 284.6L1139.0 285.9L1140.1 286.0L1141.1 285.4L1142.2 284.6L1143.3 284.6L1144.3 285.2L1145.4 285.2L1146.5 285.1L1147.5 286.1L1148.6 287.9L1149.7 288.5L1150.7 287.1L1151.8 286.2L1152.9 286.6L1153.9 286.3L1155.0 285.8L1156.1 286.1L1157.1 286.3L1158.2 286.3L1159.3 287.1L1160.3 288.4L1161.4 289.9L1162.5 291.6L1163.5 293.1L1164.6 293.1L1165.7 292.2L1166.7 292.2L1167.8 293.3L1168.9 293.6L1169.9 292.5L1171.0 292.5L1172.1 294.9L1173.1 297.5L1174.2 298.5L1175.3 298.2L1176.3 297.4L1177.4 297.9L1178.5 300.4L1179.5 303.0L1180.6 304.6L1181.7 305.8L1182.7 306.9L1183.8 306.9L1184.9 304.6L1185.9 300.8L1187.0 297.9L1188.1 297.0L1189.1 297.6L1190.2 299.2L1191.3 301.4L1192.3 303.0L1193.4 304.5L1194.5 306.0L1195.5 306.9L1196.6 306.4L1197.7 305.0L1198.7 303.5L1199.8 302.3L1200.9 302.3L1201.9 303.4L1203.0 304.1L1204.1 303.3L1205.1 302.3L1206.2 302.3L1207.3 302.6L1208.3 301.8L1209.4 301.1L1210.5 301.9L1211.5 303.1L1212.6 304.4L1213.7 306.5L1214.7 308.4L1215.8 308.5L1216.9 307.3L1217.9 306.6L1219.0 306.6L1220.1 306.4L1221.1 305.5L1222.2 304.5L1223.3 303.6L1224.3 302.5L1225.4 301.2L1226.5 299.4L1227.5 298.2L1228.6 299.1L1229.7 302.3L1230.7 305.7L1231.8 306.9L1232.9 306.5L1233.9 306.4L1235.0 307.2L1236.1 308.6L1237.1 309.1L1238.2 308.2L1239.3 307.2L1240.3 307.4L1241.4 308.7L1242.5 309.5L1243.5 309.2L1244.6 308.0L1245.7 305.5L1246.7 302.7L1247.8 302.2L1248.9 304.0L1249.9 305.0L1251.0 303.8L1252.1 302.0L1253.1 302.1L1254.2 304.5L1255.3 306.9L1256.3 307.6L1257.4 307.2L1258.5 308.0L1259.5 310.7L1260.6 312.8L1261.7 311.7L1262.7 308.3L1263.8 305.9L1264.9 306.0L1265.9 306.7L1267.0 305.7L1268.1 304.0L1269.1 303.3L1270.2 304.0L1271.3 304.2L1272.4 302.9L1273.4 302.0L1274.5 302.6L1275.6 303.4L1276.6 304.4L1277.7 306.1L1278.8 307.0L1279.8 306.2L1280.9 306.2L1282.0 307.8L1283.0 309.7L1284.1 310.0L1285.2 308.2L1286.2 304.8L1287.3 301.9L1288.4 300.4L1289.4 299.7L1290.5 298.9L1291.6 298.2L1292.6 298.2L1293.7 298.6" stroke="#00FF00" stroke-width="2.6" fill="none" stroke-linejoin="round"/><path d="M796.5 262.8L797.6 262.4L798.6 261.7L799.7 261.4L800.8 261.5L801.8 261.8L802.9 262.9L804.0 264.7L805.0 266.1L806.1 266.8L807.2 267.7L808.2 269.4L809.3 270.1L810.4 269.8L811.4 269.1L812.5 268.5L813.6 268.9L814.6 270.4L815.7 271.9L816.8 272.9L817.8 274.0L818.9 277.0L820.0 280.4L821.0 282.7L822.1 283.7L823.2 284.7L824.2 286.5L825.3 288.6L826.4 289.5L827.4 290.3L828.5 293.1L829.6 297.0L830.6 300.1L831.7 302.0L832.8 302.9L833.8 303.6L834.9 304.4L836.0 305.7L837.0 308.5L838.1 312.8L839.2 317.3L840.2 316.3L841.3 313.7L842.4 311.3L843.4 309.9L844.5 308.7L845.6 306.9L846.6 304.8L847.7 302.8L848.8 301.1L849.8 299.0L850.9 295.0L852.0 291.5L853.0 288.7L854.1 286.0L855.2 283.0L856.2 279.8L857.3 276.8L858.4 273.9L859.4 270.9L860.5 268.3L861.6 266.0L862.6 263.6L863.7 261.0L864.8 259.0L865.9 257.6L866.9 255.8L868.0 252.9L869.1 249.9L870.1 248.2L871.2 247.7L872.3 247.5L873.3 247.0L874.4 245.9L875.5 244.2L876.5 242.8L877.6 241.4L878.7 240.3L879.7 240.1L880.8 240.7L881.9 240.7L882.9 239.3L884.0 237.2L885.1 236.0L886.1 235.7L887.2 234.9L888.3 232.8L889.3 230.3L890.4 228.4L891.5 226.7L892.5 225.0L893.6 223.7L894.7 223.2L895.7 223.0L896.8 221.9L897.9 219.9L898.9 217.9L900.0 216.1L901.1 214.6L902.1 213.6L903.2 213.2L904.3 213.1L905.3 212.5L906.4 210.8L907.5 208.0L908.5 205.2L909.6 203.4L910.7 202.4L911.7 200.8L912.8 198.1L913.9 195.0L914.9 192.9L916.0 191.5L917.1 189.8L918.1 187.6L919.2 185.1L920.3 182.4L921.3 180.1L922.4 178.5L923.5 177.2L924.5 175.1L925.6 172.6L926.7 170.5L927.7 168.0L928.8 164.8L929.9 161.2L930.9 158.1L932.0 155.7L933.1 153.9L934.1 151.4L935.2 147.8L936.3 143.8L937.3 140.4L938.4 137.5L939.5 135.0L940.5 133.1L941.6 131.7L942.7 130.6L943.7 129.6L944.8 129.3L945.9 129.6L946.9 130.7L948.0 132.0L949.1 133.7L950.1 135.6L951.2 138.1L952.3 141.0L953.3 144.3L954.4 148.0L955.5 151.7L956.5 155.2L957.6 158.3L958.7 160.5L959.7 162.7L960.8 165.7L961.9 169.3L962.9 172.9L964.0 176.2L965.1 179.5L966.1 182.5L967.2 185.3L968.3 188.3L969.3 191.2L970.4 193.7L971.5 196.0L972.5 198.6L973.6 201.7L974.7 204.3L975.7 206.6L976.8 209.0L977.9 211.1L978.9 212.4L980.0 213.7L981.1 215.9L982.1 218.6L983.2 220.7L984.3 222.0L985.3 223.1L986.4 224.6L987.5 226.7L988.5 229.1L989.6 230.8L990.7 231.3L991.7 231.3L992.8 232.4L993.9 235.0L994.9 237.6L996.0 239.5L997.1 241.1L998.1 243.1L999.2 244.7L1000.3 245.8L1001.4 246.7L1002.4 247.0L1003.5 246.9L1004.6 247.2L1005.6 248.3L1006.7 249.5L1007.8 250.4L1008.8 251.6L1009.9 253.4L1011.0 255.6L1012.0 257.8L1013.1 259.4L1014.2 260.1L1015.2 260.9L1016.3 262.0L1017.4 262.8L1018.4 263.2L1019.5 263.3L1020.6 263.3L1021.6 263.7L1022.7 265.2L1023.8 267.4L1024.8 269.7L1025.9 272.3L1027.0 276.8L1028.0 284.3L1029.1 296.8L1030.2 317.5L1031.2 334.7L1032.3 318.9L1033.4 298.9L1034.4 287.0L1035.5 280.4L1036.6 276.6L1037.6 274.1L1038.7 272.6L1039.8 272.7L1040.8 273.6L1041.9 274.5L1043.0 274.1L1044.0 273.0L1045.1 272.8L1046.2 273.7L1047.2 274.6L1048.3 275.7L1049.4 277.3L1050.4 278.5L1051.5 278.4L1052.6 277.2L1053.6 276.5L1054.7 277.0L1055.8 277.6L1056.8 277.2L1057.9 276.7L1059.0 277.4L1060.0 279.2L1061.1 281.1L1062.2 282.1L1063.2 282.0L1064.3 282.1L1065.4 283.2L1066.4 284.4L1067.5 284.6L1068.6 284.1L1069.6 283.9L1070.7 284.5L1071.8 285.6L1072.8 286.9L1073.9 288.1L1075.0 288.7L1076.0 288.5L1077.1 287.8L1078.2 286.8L1079.2 286.4L1080.3 287.7L1081.4 289.2L1082.4 289.2L1083.5 288.1L1084.6 287.1L1085.6 287.0L1086.7 287.6L1087.8 288.8L1088.8 290.4L1089.9 291.0L1091.0 290.0L1092.0 289.1L1093.1 289.6L1094.2 290.8L1095.2 291.8L1096.3 291.9L1097.4 291.1L1098.4 290.5L1099.5 290.6L1100.6 291.3L1101.6 292.4L1102.7 294.3L1103.8 296.1L1104.8 297.4L1105.9 298.0L1107.0 296.8L1108.0 294.3L1109.1 292.2L1110.2 292.7L1111.2 295.4L1112.3 298.6L1113.4 300.7L1114.4 300.9L1115.5 300.8L1116.6 302.1L1117.6 304.1L1118.7 306.1L1119.8 307.3L1120.8 307.9L1121.9 308.3L1123.0 308.8L1124.0 310.0L1125.1 312.7L1126.2 316.6L1127.2 320.7L1128.3 324.4L1129.4 327.7L1130.4 330.0L1131.5 329.8L1132.6 327.5L1133.6 325.8L1134.7 325.8L1135.8 326.6L1136.9 327.0L1137.9 325.7L1139.0 322.5L1140.1 318.9L1141.1 316.8L1142.2 316.4L1143.3 316.2L1144.3 315.0L1145.4 312.9L1146.5 311.1L1147.5 309.4L1148.6 306.5L1149.7 303.4L1150.7 302.5L1151.8 303.9L1152.9 305.3L1153.9 304.8L1155.0 303.1L1156.1 301.6L1157.1 300.5L1158.2 299.8L1159.3 299.3L1160.3 299.1L1161.4 299.0L1162.5 298.0L1163.5 296.9L1164.6 296.3L1165.7 295.3L1166.7 294.3L1167.8 294.5L1168.9 295.6L1169.9 296.7L1171.0 297.9L1172.1 298.6L1173.1 297.5L1174.2 295.0L1175.3 292.8L1176.3 292.8L1177.4 294.2L1178.5 295.2L1179.5 295.4L1180.6 294.7L1181.7 294.0L1182.7 294.5L1183.8 296.6L1184.9 298.7L1185.9 299.0L1187.0 296.9L1188.1 294.1L1189.1 292.1L1190.2 291.6L1191.3 291.6L1192.3 291.3L1193.4 290.4L1194.5 289.7L1195.5 289.5L1196.6 289.2L1197.7 289.2L1198.7 289.8L1199.8 289.9L1200.9 289.5L1201.9 289.3L1203.0 289.1L1204.1 288.1L1205.1 286.5L1206.2 285.2L1207.3 285.1L1208.3 285.5L1209.4 284.9L1210.5 283.6L1211.5 282.9L1212.6 282.8L1213.7 282.3L1214.7 281.4L1215.8 280.6L1216.9 279.9L1217.9 279.4L1219.0 278.8L1220.1 277.6L1221.1 275.8L1222.2 274.6L1223.3 273.6L1224.3 272.1L1225.4 271.0L1226.5 271.2L1227.5 271.6L1228.6 271.1L1229.7 270.0L1230.7 268.1L1231.8 266.3L1232.9 265.3L1233.9 265.0L1235.0 264.5L1236.1 263.7L1237.1 262.9L1238.2 261.8L1239.3 260.5L1240.3 259.5L1241.4 259.7L1242.5 259.9L1243.5 258.5L1244.6 256.5L1245.7 255.3L1246.7 255.1L1247.8 254.5L1248.9 253.1L1249.9 251.6L1251.0 250.9L1252.1 250.7L1253.1 250.7L1254.2 251.0L1255.3 251.2L1256.3 250.4L1257.4 249.0L1258.5 247.8L1259.5 247.0L1260.6 246.7L1261.7 246.5L1262.7 245.9L1263.8 244.8L1264.9 243.9L1265.9 243.5L1267.0 243.8L1268.1 244.6L1269.1 245.6L1270.2 246.8L1271.3 248.0L1272.4 249.2L1273.4 250.2L1274.5 250.4L1275.6 250.1L1276.6 250.2L1277.7 251.0L1278.8 251.8L1279.8 252.2L1280.9 252.6L1282.0 253.3L1283.0 254.1L1284.1 255.1L1285.2 256.1L1286.2 256.7L1287.3 257.1L1288.4 258.4L1289.4 260.2L1290.5 262.0L1291.6 263.0L1292.6 263.1L1293.7 263.4" stroke="#0000FF" stroke-width="2.6" fill="none" stroke-linejoin="round"/><path d="M796.5 363.6L797.6 360.1L798.6 352.7L799.7 357.2L800.8 368.7L801.8 377.0L802.9 377.0L804.0 375.8L805.0 381.0L806.1 378.3L807.2 380.4L808.2 379.4L809.3 371.5L810.4 362.1L811.4 358.2L812.5 354.4L813.6 360.3L814.6 369.9L815.7 370.4L816.8 366.5L817.8 358.9L818.9 366.7L820.0 370.2L821.0 372.4L822.1 365.2L823.2 356.9L824.2 356.5L825.3 356.8L826.4 360.3L827.4 371.1L828.5 376.3L829.6 374.5L830.6 372.8L831.7 378.3L832.8 381.6L833.8 374.5L834.9 371.1L836.0 367.3L837.0 371.9L838.1 373.8L839.2 362.1L840.2 357.0L841.3 363.7L842.4 371.4L843.4 371.1L844.5 362.9L845.6 366.3L846.6 358.2L847.7 351.4L848.8 364.2L849.8 373.4L850.9 362.3L852.0 353.3L853.0 353.2L854.1 362.7L855.2 365.3L856.2 370.3L857.3 360.5L858.4 348.1L859.4 349.6L860.5 359.0L861.6 363.4L862.6 362.5L863.7 363.4L864.8 362.4L865.9 363.5L866.9 368.2L868.0 364.5L869.1 360.9L870.1 362.7L871.2 353.8L872.3 350.7L873.3 357.3L874.4 357.5L875.5 362.2L876.5 366.5L877.6 355.0L878.7 353.6L879.7 362.6L880.8 363.6L881.9 359.8L882.9 353.5L884.0 354.4L885.1 352.5L886.1 358.2L887.2 365.5L888.3 358.4L889.3 355.7L890.4 349.0L891.5 342.7L892.5 349.3L893.6 356.9L894.7 358.0L895.7 356.1L896.8 348.4L897.9 353.0L898.9 370.8L900.0 368.6L901.1 358.1L902.1 349.8L903.2 348.3L904.3 343.1L905.3 345.8L906.4 357.5L907.5 358.0L908.5 357.6L909.6 363.3L910.7 365.3L911.7 363.8L912.8 357.3L913.9 353.7L914.9 346.1L916.0 342.4L917.1 344.0L918.1 346.1L919.2 345.6L920.3 337.3L921.3 339.4L922.4 349.0L923.5 355.2L924.5 354.8L925.6 351.1L926.7 344.4L927.7 351.5L928.8 362.2L929.9 364.9L930.9 363.7L932.0 354.7L933.1 345.7L934.1 343.9L935.2 345.0L936.3 340.5L937.3 334.8L938.4 338.7L939.5 349.3L940.5 358.8L941.6 354.4L942.7 343.7L943.7 338.3L944.8 347.1L945.9 351.8L946.9 358.7L948.0 359.2L949.1 350.9L950.1 352.8L951.2 351.9L952.3 358.0L953.3 363.0L954.4 354.6L955.5 359.7L956.5 363.3L957.6 341.1L958.7 329.5L959.7 341.0L960.8 345.7L961.9 346.9L962.9 347.6L964.0 345.0L965.1 349.3L966.1 340.1L967.2 323.3L968.3 322.4L969.3 325.6L970.4 326.1L971.5 330.8L972.5 336.0L973.6 338.8L974.7 346.0L975.7 347.6L976.8 339.0L977.9 335.8L978.9 328.0L980.0 322.2L981.1 325.3L982.1 329.5L983.2 335.0L984.3 335.7L985.3 333.3L986.4 330.5L987.5 327.4L988.5 326.7L989.6 320.7L990.7 321.9L991.7 319.8L992.8 317.4L993.9 319.1L994.9 319.3L996.0 319.9L997.1 310.9L998.1 305.2L999.2 308.4L1000.3 310.7L1001.4 308.4L1002.4 314.4L1003.5 311.6L1004.6 304.6L1005.6 301.9L1006.7 308.9L1007.8 310.7L1008.8 313.0L1009.9 318.2L1011.0 312.8L1012.0 298.5L1013.1 294.6L1014.2 295.7L1015.2 293.0L1016.3 296.3L1017.4 303.9L1018.4 304.7L1019.5 301.0L1020.6 302.8L1021.6 295.4L1022.7 286.7L1023.8 277.7L1024.8 278.9L1025.9 289.2L1027.0 288.0L1028.0 282.1L1029.1 291.7L1030.2 304.7L1031.2 304.1L1032.3 298.0L1033.4 299.5L1034.4 298.0L1035.5 292.8L1036.6 288.5L1037.6 280.4L1038.7 276.3L1039.8 280.9L1040.8 283.4L1041.9 284.7L1043.0 282.6L1044.0 283.0L1045.1 275.0L1046.2 269.7L1047.2 273.6L1048.3 276.0L1049.4 274.1L1050.4 275.3L1051.5 277.5L1052.6 269.8L1053.6 259.2L1054.7 259.2L1055.8 263.7L1056.8 266.4L1057.9 266.3L1059.0 265.2L1060.0 255.3L1061.1 254.0L1062.2 258.4L1063.2 259.6L1064.3 262.7L1065.4 262.9L1066.4 257.1L1067.5 250.6L1068.6 248.2L1069.6 248.2L1070.7 246.3L1071.8 238.7L1072.8 233.7L1073.9 236.5L1075.0 236.9L1076.0 234.8L1077.1 232.9L1078.2 230.6L1079.2 225.8L1080.3 223.9L1081.4 220.7L1082.4 214.8L1083.5 210.1L1084.6 207.4L1085.6 204.4L1086.7 198.9L1087.8 193.8L1088.8 189.5L1089.9 184.3L1091.0 179.4L1092.0 174.4L1093.1 170.2L1094.2 167.3L1095.2 164.3L1096.3 161.9L1097.4 161.3L1098.4 162.5L1099.5 163.7L1100.6 164.8L1101.6 167.8L1102.7 172.3L1103.8 174.8L1104.8 176.9L1105.9 180.7L1107.0 186.6L1108.0 191.1L1109.1 194.2L1110.2 197.2L1111.2 200.7L1112.3 204.5L1113.4 208.2L1114.4 211.4L1115.5 213.8L1116.6 215.0L1117.6 216.1L1118.7 219.7L1119.8 224.2L1120.8 228.3L1121.9 232.2L1123.0 236.6L1124.0 235.7L1125.1 235.7L1126.2 239.6L1127.2 242.2L1128.3 243.2L1129.4 244.7L1130.4 245.2L1131.5 245.5L1132.6 247.9L1133.6 251.3L1134.7 254.9L1135.8 259.4L1136.9 259.0L1137.9 255.9L1139.0 257.9L1140.1 262.6L1141.1 266.2L1142.2 272.1L1143.3 271.0L1144.3 271.8L1145.4 272.6L1146.5 270.7L1147.5 273.5L1148.6 282.6L1149.7 285.6L1150.7 282.0L1151.8 274.7L1152.9 270.7L1153.9 272.7L1155.0 277.7L1156.1 277.1L1157.1 279.2L1158.2 286.7L1159.3 286.5L1160.3 281.3L1161.4 283.5L1162.5 285.8L1163.5 291.1L1164.6 292.5L1165.7 290.8L1166.7 287.2L1167.8 284.8L1168.9 281.3L1169.9 286.3L1171.0 293.5L1172.1 298.2L1173.1 294.3L1174.2 291.4L1175.3 288.7L1176.3 296.1L1177.4 305.4L1178.5 311.0L1179.5 314.9L1180.6 300.0L1181.7 293.3L1182.7 294.4L1183.8 296.2L1184.9 283.7L1185.9 277.4L1187.0 292.9L1188.1 310.4L1189.1 304.2L1190.2 300.7L1191.3 306.2L1192.3 311.3L1193.4 309.9L1194.5 315.7L1195.5 327.5L1196.6 327.6L1197.7 325.3L1198.7 322.4L1199.8 313.9L1200.9 306.4L1201.9 305.1L1203.0 306.6L1204.1 317.3L1205.1 326.0L1206.2 314.4L1207.3 307.0L1208.3 310.3L1209.4 322.4L1210.5 322.8L1211.5 316.8L1212.6 316.3L1213.7 319.5L1214.7 324.8L1215.8 329.6L1216.9 323.2L1217.9 312.4L1219.0 310.4L1220.1 317.8L1221.1 323.6L1222.2 324.2L1223.3 322.3L1224.3 316.6L1225.4 316.2L1226.5 321.7L1227.5 329.0L1228.6 326.0L1229.7 318.5L1230.7 322.7L1231.8 319.3L1232.9 311.7L1233.9 327.5L1235.0 337.0L1236.1 329.9L1237.1 325.1L1238.2 322.4L1239.3 326.6L1240.3 325.5L1241.4 324.9L1242.5 332.5L1243.5 340.6L1244.6 335.7L1245.7 330.8L1246.7 331.2L1247.8 339.7L1248.9 348.1L1249.9 335.0L1251.0 327.5L1252.1 329.4L1253.1 336.6L1254.2 334.6L1255.3 332.9L1256.3 335.3L1257.4 336.2L1258.5 337.4L1259.5 328.0L1260.6 322.8L1261.7 328.2L1262.7 338.6L1263.8 349.7L1264.9 345.9L1265.9 340.1L1267.0 340.0L1268.1 341.5L1269.1 344.1L1270.2 340.6L1271.3 337.8L1272.4 339.6L1273.4 339.0L1274.5 341.8L1275.6 354.6L1276.6 359.2L1277.7 352.3L1278.8 350.2L1279.8 350.5L1280.9 346.4L1282.0 356.3L1283.0 358.8L1284.1 352.1L1285.2 351.2L1286.2 353.6L1287.3 353.8L1288.4 351.5L1289.4 348.9L1290.5 343.0L1291.6 344.3L1292.6 354.8L1293.7 358.7" stroke="#00FFFF" stroke-width="2.6" fill="none" stroke-linejoin="round"/><path d="M796.5 380.6L797.6 365.7L798.6 355.8L799.7 335.5L800.8 361.5L801.8 379.8L802.9 368.6L804.0 380.1L805.0 337.7L806.1 376.2L807.2 335.1L808.2 336.7L809.3 381.8L810.4 373.7L811.4 380.0L812.5 368.6L813.6 368.8L814.6 370.0L815.7 361.5L816.8 369.7L817.8 381.2L818.9 360.1L820.0 377.5L821.0 359.8L822.1 359.5L823.2 385.9L824.2 375.9L825.3 358.4L826.4 385.9L827.4 377.9L828.5 383.0L829.6 345.1L830.6 371.5L831.7 337.7L832.8 381.7L833.8 350.8L834.9 360.8L836.0 374.4L837.0 383.6L838.1 356.5L839.2 383.0L840.2 382.6L841.3 372.1L842.4 355.7L843.4 385.9L844.5 384.2L845.6 375.3L846.6 385.4L847.7 359.3L848.8 362.0L849.8 346.0L850.9 382.6L852.0 344.9L853.0 377.1L854.1 377.5L855.2 342.6L856.2 384.6L857.3 381.8L858.4 357.1L859.4 369.7L860.5 375.1L861.6 376.5L862.6 365.2L863.7 359.4L864.8 385.2L865.9 354.7L866.9 357.3L868.0 379.6L869.1 376.1L870.1 352.1L871.2 357.1L872.3 366.3L873.3 360.9L874.4 355.8L875.5 366.1L876.5 378.0L877.6 362.3L878.7 374.9L879.7 383.1L880.8 355.0L881.9 357.2L882.9 356.5L884.0 375.1L885.1 381.7L886.1 367.3L887.2 381.1L888.3 369.8L889.3 360.7L890.4 338.6L891.5 349.7L892.5 366.8L893.6 361.5L894.7 381.6L895.7 359.9L896.8 354.2L897.9 367.3L898.9 355.9L900.0 380.9L901.1 362.4L902.1 340.2L903.2 345.2L904.3 337.5L905.3 374.2L906.4 343.9L907.5 370.1L908.5 364.4L909.6 371.6L910.7 383.5L911.7 374.4L912.8 352.1L913.9 348.7L914.9 370.5L916.0 382.9L917.1 336.0L918.1 360.1L919.2 385.5L920.3 371.1L921.3 339.7L922.4 346.5L923.5 369.4L924.5 374.2L925.6 359.3L926.7 372.2L927.7 365.5L928.8 350.1L929.9 372.4L930.9 338.5L932.0 337.8L933.1 361.8L934.1 361.7L935.2 382.5L936.3 385.9L937.3 384.5L938.4 381.3L939.5 347.8L940.5 339.4L941.6 374.0L942.7 348.0L943.7 341.9L944.8 356.3L945.9 385.4L946.9 345.8L948.0 355.2L949.1 382.7L950.1 376.0L951.2 336.3L952.3 375.0L953.3 341.6L954.4 343.2L955.5 377.9L956.5 373.0L957.6 357.1L958.7 337.5L959.7 366.3L960.8 379.7L961.9 374.5L962.9 377.4L964.0 384.5L965.1 363.2L966.1 381.0L967.2 378.8L968.3 385.3L969.3 380.0L970.4 367.3L971.5 375.8L972.5 346.6L973.6 376.7L974.7 369.7L975.7 367.3L976.8 339.8L977.9 364.5L978.9 371.2L980.0 351.2L981.1 382.3L982.1 354.0L983.2 381.4L984.3 385.7L985.3 367.9L986.4 376.7L987.5 367.2L988.5 382.9L989.6 340.9L990.7 362.4L991.7 369.0L992.8 373.0L993.9 369.1L994.9 382.0L996.0 367.0L997.1 350.2L998.1 341.4L999.2 345.4L1000.3 359.7L1001.4 337.4L1002.4 354.3L1003.5 339.1L1004.6 351.8L1005.6 349.0L1006.7 383.4L1007.8 352.3L1008.8 372.3L1009.9 364.1L1011.0 377.0L1012.0 374.5L1013.1 358.4L1014.2 346.6L1015.2 366.1L1016.3 347.4L1017.4 330.2L1018.4 342.4L1019.5 356.4L1020.6 326.4L1021.6 339.2L1022.7 336.4L1023.8 317.6L1024.8 329.2L1025.9 301.3L1027.0 315.0L1028.0 335.1L1029.1 368.2L1030.2 348.9L1031.2 325.2L1032.3 297.9L1033.4 316.7L1034.4 285.0L1035.5 287.9L1036.6 297.2L1037.6 282.2L1038.7 291.0L1039.8 305.5L1040.8 289.5L1041.9 276.9L1043.0 318.9L1044.0 302.9L1045.1 303.2L1046.2 307.7L1047.2 295.7L1048.3 309.3L1049.4 306.3L1050.4 317.8L1051.5 315.3L1052.6 318.9L1053.6 335.1L1054.7 344.5L1055.8 344.6L1056.8 348.5L1057.9 386.0L1059.0 375.1L1060.0 347.1L1061.1 335.2L1062.2 345.7L1063.2 330.6L1064.3 318.8L1065.4 310.9L1066.4 324.6L1067.5 328.7L1068.6 300.6L1069.6 302.4L1070.7 297.5L1071.8 291.2L1072.8 283.5L1073.9 283.4L1075.0 287.5L1076.0 275.3L1077.1 274.3L1078.2 260.8L1079.2 265.6L1080.3 264.3L1081.4 265.4L1082.4 261.3L1083.5 251.5L1084.6 248.4L1085.6 243.7L1086.7 245.4L1087.8 239.6L1088.8 241.2L1089.9 230.9L1091.0 228.5L1092.0 226.0L1093.1 225.3L1094.2 214.0L1095.2 213.7L1096.3 208.5L1097.4 204.0L1098.4 202.2L1099.5 198.6L1100.6 198.0L1101.6 199.6L1102.7 203.8L1103.8 205.0L1104.8 208.3L1105.9 212.6L1107.0 215.6L1108.0 221.8L1109.1 225.7L1110.2 238.3L1111.2 232.6L1112.3 230.7L1113.4 237.8L1114.4 229.5L1115.5 240.7L1116.6 242.4L1117.6 237.3L1118.7 240.2L1119.8 236.6L1120.8 235.2L1121.9 231.7L1123.0 225.4L1124.0 230.0L1125.1 219.4L1126.2 219.4L1127.2 215.7L1128.3 212.1L1129.4 205.2L1130.4 201.1L1131.5 196.5L1132.6 191.5L1133.6 185.7L1134.7 183.8L1135.8 182.1L1136.9 182.8L1137.9 184.4L1139.0 186.9L1140.1 190.2L1141.1 195.5L1142.2 199.4L1143.3 206.1L1144.3 211.1L1145.4 218.3L1146.5 224.0L1147.5 225.8L1148.6 229.6L1149.7 237.3L1150.7 234.0L1151.8 249.6L1152.9 255.3L1153.9 255.8L1155.0 261.3L1156.1 257.5L1157.1 278.3L1158.2 295.9L1159.3 288.7L1160.3 275.6L1161.4 287.2L1162.5 323.6L1163.5 312.6L1164.6 318.7L1165.7 317.6L1166.7 323.8L1167.8 352.4L1168.9 342.4L1169.9 332.7L1171.0 345.3L1172.1 368.6L1173.1 351.7L1174.2 353.0L1175.3 351.1L1176.3 358.7L1177.4 354.7L1178.5 365.8L1179.5 356.7L1180.6 361.7L1181.7 369.2L1182.7 370.4L1183.8 377.0L1184.9 345.2L1185.9 372.6L1187.0 342.3L1188.1 378.7L1189.1 347.2L1190.2 359.8L1191.3 372.1L1192.3 365.4L1193.4 335.8L1194.5 364.2L1195.5 357.3L1196.6 361.9L1197.7 371.9L1198.7 363.0L1199.8 363.3L1200.9 360.5L1201.9 372.0L1203.0 351.4L1204.1 361.0L1205.1 342.6L1206.2 346.2L1207.3 369.1L1208.3 360.3L1209.4 371.5L1210.5 339.7L1211.5 347.5L1212.6 374.5L1213.7 381.6L1214.7 348.5L1215.8 375.7L1216.9 381.9L1217.9 354.0L1219.0 361.8L1220.1 341.8L1221.1 345.9L1222.2 372.2L1223.3 378.9L1224.3 370.2L1225.4 375.2L1226.5 364.8L1227.5 366.0L1228.6 347.8L1229.7 367.6L1230.7 367.0L1231.8 369.4L1232.9 369.0L1233.9 375.2L1235.0 367.8L1236.1 370.6L1237.1 358.1L1238.2 370.1L1239.3 357.2L1240.3 367.8L1241.4 374.4L1242.5 359.2L1243.5 362.3L1244.6 355.4L1245.7 358.5L1246.7 367.8L1247.8 352.7L1248.9 364.7L1249.9 358.9L1251.0 372.2L1252.1 370.9L1253.1 374.1L1254.2 347.9L1255.3 375.0L1256.3 346.4L1257.4 363.6L1258.5 367.0L1259.5 385.7L1260.6 366.1L1261.7 382.6L1262.7 367.4L1263.8 345.5L1264.9 363.4L1265.9 344.4L1267.0 371.4L1268.1 373.3L1269.1 357.4L1270.2 362.1L1271.3 372.7L1272.4 374.3L1273.4 368.3L1274.5 368.5L1275.6 374.6L1276.6 338.3L1277.7 375.6L1278.8 358.8L1279.8 374.0L1280.9 338.0L1282.0 361.0L1283.0 362.3L1284.1 362.6L1285.2 351.6L1286.2 354.0L1287.3 344.9L1288.4 335.3L1289.4 350.1L1290.5 372.4L1291.6 363.9L1292.6 379.8L1293.7 360.3" stroke="#FF00FF" stroke-width="2.6" fill="none" stroke-linejoin="round"/><path d="M796.5 326.1L797.6 326.2L798.6 320.4L799.7 324.4L800.8 331.6L801.8 336.7L802.9 343.4L804.0 345.0L805.0 332.2L806.1 324.0L807.2 333.1L808.2 338.2L809.3 333.4L810.4 325.3L811.4 318.1L812.5 313.7L813.6 325.6L814.6 323.9L815.7 326.5L816.8 329.8L817.8 322.8L818.9 327.7L820.0 330.2L821.0 328.0L822.1 331.7L823.2 326.2L824.2 323.4L825.3 328.2L826.4 336.5L827.4 332.0L828.5 320.9L829.6 331.0L830.6 334.3L831.7 324.0L832.8 323.7L833.8 332.9L834.9 340.4L836.0 347.0L837.0 354.6L838.1 345.3L839.2 332.0L840.2 332.1L841.3 332.8L842.4 330.1L843.4 325.8L844.5 322.1L845.6 325.5L846.6 322.5L847.7 322.6L848.8 331.0L849.8 329.4L850.9 327.7L852.0 325.6L853.0 318.1L854.1 324.4L855.2 333.8L856.2 337.5L857.3 335.1L858.4 322.9L859.4 319.3L860.5 315.2L861.6 308.4L862.6 315.9L863.7 326.1L864.8 320.8L865.9 324.0L866.9 332.2L868.0 329.4L869.1 316.7L870.1 317.4L871.2 323.5L872.3 319.6L873.3 317.2L874.4 324.5L875.5 329.4L876.5 336.8L877.6 331.5L878.7 328.9L879.7 322.5L880.8 321.3L881.9 318.4L882.9 327.3L884.0 328.8L885.1 323.0L886.1 315.6L887.2 314.0L888.3 319.3L889.3 323.5L890.4 314.4L891.5 309.8L892.5 320.5L893.6 328.4L894.7 312.4L895.7 310.5L896.8 314.4L897.9 323.0L898.9 322.5L900.0 319.9L901.1 325.0L902.1 319.1L903.2 312.5L904.3 305.4L905.3 308.5L906.4 313.3L907.5 310.7L908.5 306.5L909.6 316.0L910.7 330.6L911.7 323.3L912.8 316.9L913.9 312.1L914.9 313.4L916.0 313.8L917.1 307.9L918.1 310.2L919.2 314.9L920.3 314.2L921.3 314.1L922.4 321.9L923.5 322.5L924.5 326.5L925.6 326.2L926.7 319.8L927.7 308.4L928.8 301.4L929.9 299.6L930.9 304.3L932.0 313.4L933.1 315.9L934.1 304.6L935.2 308.9L936.3 311.5L937.3 316.1L938.4 311.4L939.5 327.8L940.5 329.3L941.6 314.3L942.7 301.2L943.7 304.0L944.8 304.5L945.9 303.1L946.9 290.0L948.0 287.7L949.1 291.7L950.1 298.3L951.2 293.5L952.3 293.8L953.3 294.2L954.4 300.6L955.5 307.3L956.5 303.0L957.6 296.9L958.7 297.4L959.7 292.8L960.8 288.5L961.9 292.4L962.9 293.2L964.0 291.7L965.1 282.2L966.1 275.0L967.2 285.6L968.3 295.7L969.3 289.2L970.4 289.2L971.5 290.2L972.5 290.1L973.6 285.0L974.7 292.3L975.7 290.0L976.8 278.8L977.9 277.2L978.9 275.6L980.0 278.8L981.1 281.8L982.1 276.7L983.2 272.6L984.3 270.6L985.3 269.5L986.4 270.5L987.5 268.1L988.5 262.1L989.6 255.6L990.7 254.0L991.7 263.4L992.8 263.2L993.9 257.7L994.9 252.5L996.0 246.6L997.1 244.5L998.1 248.2L999.2 249.6L1000.3 249.4L1001.4 247.6L1002.4 241.5L1003.5 238.3L1004.6 235.5L1005.6 230.8L1006.7 232.3L1007.8 235.8L1008.8 232.1L1009.9 228.6L1011.0 226.0L1012.0 222.7L1013.1 222.0L1014.2 221.6L1015.2 219.0L1016.3 216.1L1017.4 213.2L1018.4 211.2L1019.5 207.7L1020.6 202.9L1021.6 201.9L1022.7 200.5L1023.8 196.9L1024.8 194.1L1025.9 192.0L1027.0 191.1L1028.0 189.0L1029.1 185.6L1030.2 185.7L1031.2 186.5L1032.3 184.2L1033.4 182.0L1034.4 182.1L1035.5 184.3L1036.6 185.8L1037.6 186.7L1038.7 189.3L1039.8 191.1L1040.8 192.5L1041.9 195.3L1043.0 198.7L1044.0 201.0L1045.1 203.9L1046.2 208.1L1047.2 211.1L1048.3 213.4L1049.4 218.8L1050.4 221.6L1051.5 222.8L1052.6 226.3L1053.6 228.9L1054.7 233.1L1055.8 236.3L1056.8 234.3L1057.9 236.9L1059.0 244.0L1060.0 253.2L1061.1 253.3L1062.2 247.4L1063.2 250.9L1064.3 256.3L1065.4 258.7L1066.4 257.8L1067.5 260.0L1068.6 262.1L1069.6 258.9L1070.7 262.2L1071.8 267.8L1072.8 283.1L1073.9 277.8L1075.0 268.6L1076.0 280.5L1077.1 288.5L1078.2 296.5L1079.2 303.9L1080.3 319.3L1081.4 341.5L1082.4 350.3L1083.5 342.7L1084.6 319.0L1085.6 307.3L1086.7 294.8L1087.8 282.4L1088.8 276.9L1089.9 268.1L1091.0 271.6L1092.0 263.2L1093.1 255.6L1094.2 252.5L1095.2 255.4L1096.3 252.9L1097.4 249.9L1098.4 252.7L1099.5 246.8L1100.6 248.6L1101.6 260.2L1102.7 273.2L1103.8 270.8L1104.8 275.3L1105.9 282.5L1107.0 287.5L1108.0 285.5L1109.1 282.3L1110.2 286.7L1111.2 279.6L1112.3 296.0L1113.4 305.6L1114.4 297.4L1115.5 315.5L1116.6 325.6L1117.6 320.4L1118.7 312.0L1119.8 313.9L1120.8 315.1L1121.9 318.2L1123.0 320.7L1124.0 309.7L1125.1 309.5L1126.2 309.6L1127.2 310.6L1128.3 308.0L1129.4 303.8L1130.4 311.7L1131.5 312.5L1132.6 308.0L1133.6 317.4L1134.7 323.8L1135.8 327.6L1136.9 328.5L1137.9 327.8L1139.0 323.2L1140.1 323.3L1141.1 331.6L1142.2 342.0L1143.3 337.1L1144.3 324.6L1145.4 317.8L1146.5 325.3L1147.5 324.6L1148.6 324.3L1149.7 328.8L1150.7 329.8L1151.8 329.5L1152.9 326.2L1153.9 336.2L1155.0 342.7L1156.1 332.8L1157.1 332.4L1158.2 339.1L1159.3 341.9L1160.3 336.2L1161.4 336.5L1162.5 328.7L1163.5 330.4L1164.6 335.9L1165.7 335.5L1166.7 340.9L1167.8 338.8L1168.9 323.9L1169.9 321.0L1171.0 335.6L1172.1 347.4L1173.1 343.8L1174.2 337.9L1175.3 338.8L1176.3 334.1L1177.4 335.3L1178.5 330.9L1179.5 322.5L1180.6 339.2L1181.7 335.5L1182.7 331.9L1183.8 319.6L1184.9 329.2L1185.9 338.6L1187.0 342.2L1188.1 333.2L1189.1 342.2L1190.2 345.3L1191.3 337.9L1192.3 333.1L1193.4 334.5L1194.5 330.3L1195.5 325.5L1196.6 322.3L1197.7 320.3L1198.7 332.3L1199.8 334.3L1200.9 336.1L1201.9 345.6L1203.0 344.6L1204.1 340.4L1205.1 330.7L1206.2 328.2L1207.3 337.6L1208.3 333.6L1209.4 336.2L1210.5 340.0L1211.5 339.3L1212.6 332.1L1213.7 330.2L1214.7 337.8L1215.8 336.9L1216.9 332.6L1217.9 333.1L1219.0 340.6L1220.1 337.1L1221.1 343.1L1222.2 340.8L1223.3 331.8L1224.3 339.3L1225.4 344.5L1226.5 332.7L1227.5 334.6L1228.6 339.9L1229.7 333.0L1230.7 324.6L1231.8 335.7L1232.9 354.7L1233.9 352.6L1235.0 345.2L1236.1 344.1L1237.1 350.1L1238.2 341.1L1239.3 338.4L1240.3 346.6L1241.4 351.9L1242.5 348.5L1243.5 343.3L1244.6 348.3L1245.7 344.8L1246.7 344.6L1247.8 351.5L1248.9 343.9L1249.9 339.8L1251.0 338.9L1252.1 338.3L1253.1 335.0L1254.2 334.6L1255.3 337.3L1256.3 340.0L1257.4 343.8L1258.5 344.1L1259.5 335.7L1260.6 328.2L1261.7 335.0L1262.7 343.5L1263.8 349.7L1264.9 341.8L1265.9 338.9L1267.0 341.7L1268.1 349.9L1269.1 353.6L1270.2 349.3L1271.3 339.6L1272.4 345.1L1273.4 359.4L1274.5 357.1L1275.6 354.5L1276.6 347.8L1277.7 352.2L1278.8 348.9L1279.8 352.7L1280.9 348.8L1282.0 337.8L1283.0 338.4L1284.1 352.6L1285.2 348.7L1286.2 343.5L1287.3 337.8L1288.4 345.1L1289.4 342.1L1290.5 337.5L1291.6 344.5L1292.6 337.3L1293.7 336.0" stroke="#FFFF00" stroke-width="2.6" fill="none" stroke-linejoin="round"/><path d="M796.5 377.8L797.6 354.4L798.6 388.9L799.7 349.0L800.8 361.2L801.8 352.0L802.9 389.0L804.0 353.1L805.0 355.4L806.1 378.8L807.2 377.9L808.2 336.0L809.3 329.0L810.4 366.3L811.4 329.9L812.5 376.7L813.6 369.0L814.6 338.1L815.7 383.2L816.8 389.5L817.8 340.2L818.9 376.9L820.0 337.6L821.0 386.3L822.1 371.7L823.2 387.9L824.2 339.9L825.3 335.9L826.4 361.4L827.4 340.2L828.5 376.9L829.6 380.0L830.6 361.1L831.7 374.7L832.8 330.9L833.8 335.4L834.9 335.0L836.0 362.1L837.0 352.0L838.1 330.6L839.2 337.3L840.2 380.6L841.3 386.6L842.4 369.4L843.4 340.7L844.5 352.3L845.6 332.4L846.6 346.8L847.7 356.3L848.8 381.1L849.8 387.6L850.9 354.5L852.0 351.8L853.0 331.1L854.1 339.7L855.2 338.2L856.2 365.4L857.3 343.2L858.4 340.4L859.4 389.7L860.5 361.4L861.6 350.2L862.6 363.9L863.7 389.3L864.8 332.6L865.9 334.3L866.9 343.9L868.0 351.7L869.1 337.6L870.1 359.4L871.2 351.9L872.3 345.3L873.3 367.0L874.4 386.8L875.5 342.3L876.5 346.0L877.6 376.4L878.7 351.0L879.7 332.3L880.8 334.9L881.9 382.9L882.9 375.2L884.0 367.9L885.1 358.0L886.1 337.8L887.2 349.0L888.3 380.4L889.3 345.4L890.4 374.3L891.5 332.3L892.5 384.0L893.6 343.2L894.7 389.7L895.7 387.7L896.8 372.8L897.9 388.7L898.9 343.0L900.0 339.4L901.1 378.7L902.1 366.2L903.2 374.9L904.3 380.0L905.3 367.8L906.4 368.1L907.5 386.7L908.5 341.3L909.6 335.5L910.7 359.5L911.7 336.1L912.8 334.1L913.9 351.6L914.9 375.8L916.0 372.6L917.1 366.4L918.1 374.2L919.2 384.4L920.3 331.8L921.3 329.1L922.4 370.9L923.5 377.8L924.5 349.7L925.6 375.3L926.7 341.3L927.7 348.2L928.8 360.6L929.9 384.7L930.9 385.9L932.0 365.8L933.1 374.0L934.1 336.9L935.2 376.7L936.3 342.2L937.3 351.1L938.4 350.4L939.5 330.0L940.5 351.6L941.6 377.6L942.7 375.8L943.7 370.9L944.8 355.4L945.9 336.1L946.9 347.0L948.0 373.9L949.1 389.6L950.1 389.4L951.2 343.8L952.3 387.8L953.3 366.3L954.4 359.5L955.5 354.8L956.5 387.0L957.6 344.9L958.7 374.0L959.7 357.1L960.8 360.9L961.9 382.8L962.9 374.3L964.0 333.0L965.1 348.7L966.1 377.5L967.2 388.9L968.3 365.9L969.3 355.8L970.4 345.6L971.5 335.5L972.5 355.3L973.6 332.7L974.7 389.3L975.7 369.5L976.8 360.5L977.9 387.6L978.9 340.6L980.0 387.2L981.1 355.6L982.1 331.9L983.2 375.0L984.3 344.5L985.3 384.1L986.4 332.1L987.5 350.4L988.5 376.8L989.6 373.7L990.7 373.0L991.7 343.1L992.8 356.7L993.9 365.9L994.9 363.7L996.0 364.3L997.1 377.1L998.1 331.4L999.2 375.2L1000.3 366.2L1001.4 334.9L1002.4 374.5L1003.5 382.3L1004.6 388.8L1005.6 349.4L1006.7 336.0L1007.8 374.2L1008.8 353.8L1009.9 346.6L1011.0 370.0L1012.0 358.0L1013.1 342.0L1014.2 332.1L1015.2 329.9L1016.3 327.2L1017.4 317.4L1018.4 307.3L1019.5 300.9L1020.6 296.2L1021.6 293.6L1022.7 293.4L1023.8 289.5L1024.8 282.1L1025.9 276.3L1027.0 268.1L1028.0 261.7L1029.1 258.0L1030.2 256.7L1031.2 257.2L1032.3 251.3L1033.4 244.5L1034.4 243.3L1035.5 242.0L1036.6 238.0L1037.6 235.7L1038.7 235.9L1039.8 237.9L1040.8 239.3L1041.9 241.7L1043.0 247.2L1044.0 249.0L1045.1 250.2L1046.2 253.2L1047.2 258.5L1048.3 260.0L1049.4 260.0L1050.4 261.2L1051.5 264.2L1052.6 264.0L1053.6 263.9L1054.7 265.6L1055.8 270.8L1056.8 275.1L1057.9 273.4L1059.0 271.0L1060.0 270.2L1061.1 268.9L1062.2 267.1L1063.2 266.9L1064.3 267.2L1065.4 270.1L1066.4 272.6L1067.5 272.6L1068.6 271.5L1069.6 271.4L1070.7 268.9L1071.8 268.3L1072.8 270.8L1073.9 271.6L1075.0 270.8L1076.0 267.5L1077.1 265.9L1078.2 270.3L1079.2 268.4L1080.3 262.6L1081.4 259.0L1082.4 257.9L1083.5 261.2L1084.6 262.1L1085.6 260.3L1086.7 256.6L1087.8 253.7L1088.8 252.7L1089.9 248.0L1091.0 240.6L1092.0 235.8L1093.1 231.1L1094.2 226.2L1095.2 221.3L1096.3 219.8L1097.4 218.8L1098.4 217.9L1099.5 219.0L1100.6 221.5L1101.6 226.5L1102.7 231.2L1103.8 236.5L1104.8 239.3L1105.9 242.3L1107.0 249.3L1108.0 255.1L1109.1 260.4L1110.2 261.4L1111.2 264.4L1112.3 271.1L1113.4 275.4L1114.4 280.7L1115.5 284.3L1116.6 285.3L1117.6 289.6L1118.7 293.6L1119.8 295.4L1120.8 300.7L1121.9 311.7L1123.0 321.3L1124.0 329.5L1125.1 336.1L1126.2 338.0L1127.2 350.2L1128.3 339.2L1129.4 346.2L1130.4 369.5L1131.5 347.1L1132.6 334.9L1133.6 341.4L1134.7 344.7L1135.8 376.4L1136.9 351.7L1137.9 359.4L1139.0 373.6L1140.1 373.6L1141.1 354.6L1142.2 373.1L1143.3 366.5L1144.3 385.3L1145.4 382.9L1146.5 381.1L1147.5 356.3L1148.6 353.2L1149.7 389.2L1150.7 353.1L1151.8 369.7L1152.9 363.5L1153.9 389.6L1155.0 344.9L1156.1 378.6L1157.1 388.6L1158.2 330.3L1159.3 371.9L1160.3 341.4L1161.4 376.0L1162.5 383.9L1163.5 388.6L1164.6 365.0L1165.7 336.2L1166.7 379.4L1167.8 337.5L1168.9 374.0L1169.9 367.3L1171.0 329.6L1172.1 345.5L1173.1 332.7L1174.2 380.7L1175.3 345.1L1176.3 387.7L1177.4 340.4L1178.5 375.5L1179.5 355.0L1180.6 384.2L1181.7 335.9L1182.7 365.9L1183.8 372.6L1184.9 371.1L1185.9 389.5L1187.0 352.7L1188.1 335.7L1189.1 366.2L1190.2 389.6L1191.3 338.8L1192.3 356.4L1193.4 364.1L1194.5 382.8L1195.5 364.5L1196.6 383.5L1197.7 332.3L1198.7 375.6L1199.8 341.1L1200.9 367.7L1201.9 382.8L1203.0 341.4L1204.1 343.2L1205.1 375.1L1206.2 331.8L1207.3 335.2L1208.3 389.3L1209.4 371.6L1210.5 355.9L1211.5 343.9L1212.6 369.3L1213.7 387.0L1214.7 347.4L1215.8 386.1L1216.9 375.7L1217.9 352.8L1219.0 344.5L1220.1 362.3L1221.1 372.8L1222.2 361.0L1223.3 362.2L1224.3 373.1L1225.4 351.6L1226.5 365.9L1227.5 340.4L1228.6 341.0L1229.7 389.3L1230.7 358.7L1231.8 354.4L1232.9 343.5L1233.9 387.2L1235.0 371.8L1236.1 351.5L1237.1 344.3L1238.2 362.0L1239.3 356.1L1240.3 380.1L1241.4 376.3L1242.5 334.1L1243.5 345.8L1244.6 384.7L1245.7 376.5L1246.7 337.3L1247.8 386.9L1248.9 329.9L1249.9 373.6L1251.0 362.8L1252.1 348.8L1253.1 387.6L1254.2 361.4L1255.3 374.8L1256.3 366.2L1257.4 380.5L1258.5 349.3L1259.5 345.9L1260.6 373.2L1261.7 367.7L1262.7 379.9L1263.8 333.8L1264.9 373.3L1265.9 378.0L1267.0 351.0L1268.1 350.1L1269.1 367.9L1270.2 377.3L1271.3 341.9L1272.4 350.2L1273.4 368.2L1274.5 385.8L1275.6 348.4L1276.6 377.6L1277.7 364.3L1278.8 357.6L1279.8 370.1L1280.9 386.9L1282.0 335.2L1283.0 329.4L1284.1 364.2L1285.2 368.3L1286.2 335.8L1287.3 386.2L1288.4 358.0L1289.4 337.5L1290.5 389.0L1291.6 387.5L1292.6 350.6L1293.7 368.1" stroke="#808000" stroke-width="2.1" fill="none" stroke-linejoin="round"/><path d="M796.5 308.4L797.6 318.8L798.6 316.7L799.7 302.8L800.8 309.8L801.8 310.1L802.9 304.8L804.0 318.5L805.0 310.0L806.1 308.6L807.2 293.2L808.2 303.1L809.3 309.1L810.4 287.4L811.4 290.8L812.5 298.5L813.6 318.6L814.6 317.3L815.7 297.7L816.8 297.7L817.8 309.8L818.9 301.2L820.0 305.8L821.0 297.7L822.1 294.1L823.2 326.3L824.2 333.6L825.3 323.7L826.4 315.5L827.4 316.3L828.5 321.1L829.6 314.9L830.6 326.9L831.7 323.1L832.8 310.4L833.8 320.2L834.9 326.9L836.0 336.1L837.0 313.3L838.1 317.9L839.2 338.7L840.2 338.5L841.3 346.6L842.4 342.0L843.4 323.1L844.5 322.2L845.6 315.3L846.6 324.5L847.7 325.7L848.8 334.7L849.8 331.8L850.9 324.0L852.0 330.9L853.0 323.7L854.1 326.4L855.2 333.6L856.2 329.6L857.3 328.9L858.4 307.6L859.4 323.8L860.5 330.2L861.6 327.3L862.6 331.3L863.7 328.9L864.8 315.3L865.9 314.9L866.9 314.4L868.0 316.7L869.1 338.1L870.1 346.8L871.2 319.1L872.3 315.0L873.3 334.1L874.4 333.0L875.5 314.3L876.5 310.3L877.6 321.5L878.7 319.4L879.7 323.0L880.8 323.3L881.9 299.8L882.9 314.1L884.0 330.9L885.1 329.4L886.1 311.3L887.2 306.0L888.3 310.1L889.3 313.7L890.4 301.7L891.5 294.8L892.5 310.3L893.6 307.5L894.7 303.8L895.7 315.4L896.8 306.0L897.9 304.8L898.9 297.6L900.0 294.8L901.1 299.7L902.1 304.6L903.2 302.8L904.3 300.9L905.3 296.7L906.4 289.3L907.5 291.0L908.5 289.5L909.6 281.0L910.7 285.2L911.7 285.1L912.8 289.3L913.9 286.9L914.9 273.6L916.0 273.2L917.1 276.1L918.1 273.1L919.2 274.0L920.3 271.5L921.3 265.0L922.4 262.3L923.5 262.1L924.5 257.0L925.6 254.0L926.7 251.7L927.7 248.4L928.8 245.2L929.9 241.2L930.9 238.1L932.0 234.4L933.1 230.9L934.1 228.1L935.2 225.0L936.3 221.7L937.3 218.1L938.4 214.8L939.5 211.4L940.5 209.4L941.6 208.3L942.7 205.7L943.7 204.5L944.8 203.7L945.9 204.1L946.9 203.8L948.0 203.9L949.1 204.7L950.1 206.2L951.2 207.3L952.3 208.3L953.3 209.8L954.4 212.0L955.5 214.5L956.5 216.4L957.6 218.5L958.7 221.3L959.7 223.8L960.8 226.1L961.9 228.3L962.9 231.7L964.0 234.5L965.1 236.6L966.1 239.3L967.2 241.0L968.3 243.5L969.3 246.5L970.4 248.4L971.5 250.4L972.5 252.2L973.6 253.6L974.7 256.3L975.7 258.6L976.8 262.0L977.9 264.6L978.9 265.0L980.0 266.2L981.1 266.0L982.1 266.5L983.2 267.4L984.3 268.9L985.3 271.5L986.4 271.3L987.5 270.9L988.5 275.3L989.6 275.8L990.7 276.6L991.7 275.2L992.8 275.6L993.9 275.5L994.9 276.1L996.0 276.9L997.1 276.2L998.1 275.7L999.2 275.0L1000.3 274.4L1001.4 273.2L1002.4 272.9L1003.5 271.3L1004.6 271.0L1005.6 270.6L1006.7 271.0L1007.8 272.0L1008.8 270.6L1009.9 267.8L1011.0 264.8L1012.0 263.0L1013.1 260.0L1014.2 257.9L1015.2 256.5L1016.3 253.8L1017.4 252.8L1018.4 251.1L1019.5 247.6L1020.6 244.4L1021.6 241.6L1022.7 238.1L1023.8 234.4L1024.8 231.1L1025.9 227.0L1027.0 223.7L1028.0 219.6L1029.1 215.6L1030.2 211.7L1031.2 207.7L1032.3 203.9L1033.4 200.9L1034.4 198.7L1035.5 197.2L1036.6 196.7L1037.6 197.0L1038.7 198.1L1039.8 199.7L1040.8 200.8L1041.9 202.2L1043.0 204.1L1044.0 206.8L1045.1 209.3L1046.2 211.8L1047.2 214.3L1048.3 217.2L1049.4 219.4L1050.4 222.0L1051.5 224.4L1052.6 226.6L1053.6 229.5L1054.7 231.5L1055.8 234.3L1056.8 236.0L1057.9 238.0L1059.0 240.4L1060.0 242.5L1061.1 244.9L1062.2 246.6L1063.2 247.8L1064.3 248.8L1065.4 250.5L1066.4 252.7L1067.5 255.0L1068.6 256.2L1069.6 258.3L1070.7 258.9L1071.8 260.3L1072.8 261.6L1073.9 263.1L1075.0 265.2L1076.0 266.0L1077.1 266.1L1078.2 269.6L1079.2 269.0L1080.3 269.6L1081.4 273.3L1082.4 272.3L1083.5 274.9L1084.6 277.3L1085.6 275.8L1086.7 275.5L1087.8 278.1L1088.8 280.4L1089.9 282.1L1091.0 279.1L1092.0 280.2L1093.1 282.9L1094.2 284.6L1095.2 284.0L1096.3 283.8L1097.4 286.4L1098.4 285.4L1099.5 284.6L1100.6 289.6L1101.6 290.5L1102.7 289.1L1103.8 290.0L1104.8 289.3L1105.9 287.4L1107.0 284.4L1108.0 290.2L1109.1 290.1L1110.2 287.0L1111.2 289.4L1112.3 292.3L1113.4 291.2L1114.4 297.3L1115.5 292.7L1116.6 293.0L1117.6 290.2L1118.7 288.7L1119.8 290.2L1120.8 296.5L1121.9 297.6L1123.0 295.8L1124.0 297.1L1125.1 295.1L1126.2 295.1L1127.2 297.9L1128.3 299.5L1129.4 301.4L1130.4 300.5L1131.5 298.4L1132.6 300.5L1133.6 298.0L1134.7 299.5L1135.8 295.2L1136.9 297.0L1137.9 299.6L1139.0 296.5L1140.1 297.5L1141.1 298.7L1142.2 297.6L1143.3 296.5L1144.3 295.6L1145.4 297.6L1146.5 295.4L1147.5 297.5L1148.6 300.1L1149.7 304.2L1150.7 303.4L1151.8 301.2L1152.9 302.1L1153.9 297.8L1155.0 301.2L1156.1 307.3L1157.1 303.3L1158.2 302.6L1159.3 302.0L1160.3 303.1L1161.4 305.1L1162.5 309.6L1163.5 307.4L1164.6 301.2L1165.7 306.8L1166.7 304.3L1167.8 302.8L1168.9 308.9L1169.9 307.6L1171.0 309.4L1172.1 308.1L1173.1 309.8L1174.2 306.1L1175.3 304.1L1176.3 302.6L1177.4 302.5L1178.5 307.1L1179.5 306.3L1180.6 303.6L1181.7 302.4L1182.7 303.0L1183.8 300.9L1184.9 305.8L1185.9 305.0L1187.0 296.2L1188.1 299.9L1189.1 303.6L1190.2 301.7L1191.3 302.3L1192.3 301.9L1193.4 301.2L1194.5 302.5L1195.5 304.3L1196.6 301.2L1197.7 299.2L1198.7 298.7L1199.8 297.4L1200.9 302.3L1201.9 301.6L1203.0 299.0L1204.1 301.5L1205.1 301.7L1206.2 299.3L1207.3 296.5L1208.3 293.1L1209.4 295.2L1210.5 294.3L1211.5 294.6L1212.6 298.0L1213.7 299.0L1214.7 292.8L1215.8 294.7L1216.9 293.2L1217.9 292.8L1219.0 292.3L1220.1 292.0L1221.1 292.9L1222.2 289.6L1223.3 291.2L1224.3 287.8L1225.4 290.2L1226.5 291.7L1227.5 290.6L1228.6 290.8L1229.7 291.0L1230.7 289.4L1231.8 287.3L1232.9 284.7L1233.9 286.2L1235.0 284.1L1236.1 281.9L1237.1 282.0L1238.2 282.2L1239.3 281.5L1240.3 279.4L1241.4 276.7L1242.5 278.4L1243.5 276.6L1244.6 275.7L1245.7 274.2L1246.7 275.4L1247.8 275.4L1248.9 274.9L1249.9 271.2L1251.0 270.9L1252.1 272.2L1253.1 271.1L1254.2 269.5L1255.3 269.2L1256.3 268.5L1257.4 269.3L1258.5 269.2L1259.5 267.0L1260.6 268.5L1261.7 267.7L1262.7 265.3L1263.8 266.0L1264.9 269.4L1265.9 267.2L1267.0 267.8L1268.1 266.9L1269.1 267.3L1270.2 267.3L1271.3 268.2L1272.4 270.3L1273.4 270.6L1274.5 270.1L1275.6 271.1L1276.6 269.9L1277.7 270.6L1278.8 272.1L1279.8 272.2L1280.9 273.0L1282.0 275.6L1283.0 275.9L1284.1 276.3L1285.2 274.5L1286.2 276.2L1287.3 275.2L1288.4 275.9L1289.4 277.2L1290.5 277.0L1291.6 277.0L1292.6 277.9L1293.7 278.4" stroke="#000080" stroke-width="2.6" fill="none" stroke-linejoin="round"/><path d="M796.5 287.8L797.6 288.1L798.6 288.2L799.7 285.5L800.8 284.9L801.8 285.9L802.9 283.3L804.0 281.3L805.0 279.1L806.1 279.4L807.2 278.5L808.2 274.3L809.3 272.2L810.4 272.3L811.4 273.0L812.5 273.5L813.6 273.0L814.6 273.1L815.7 271.7L816.8 270.9L817.8 271.0L818.9 271.7L820.0 272.8L821.0 271.8L822.1 272.5L823.2 274.0L824.2 274.5L825.3 275.8L826.4 277.7L827.4 278.2L828.5 275.9L829.6 276.4L830.6 278.9L831.7 279.1L832.8 278.7L833.8 279.7L834.9 283.3L836.0 284.5L837.0 284.6L838.1 289.2L839.2 295.0L840.2 294.5L841.3 293.6L842.4 292.3L843.4 294.3L844.5 297.4L845.6 294.6L846.6 291.0L847.7 283.6L848.8 288.5L849.8 297.8L850.9 299.0L852.0 295.5L853.0 295.6L854.1 300.6L855.2 301.3L856.2 298.8L857.3 301.6L858.4 309.6L859.4 314.9L860.5 311.2L861.6 304.9L862.6 301.2L863.7 299.4L864.8 302.4L865.9 306.6L866.9 304.9L868.0 295.6L869.1 297.5L870.1 305.5L871.2 312.3L872.3 315.7L873.3 315.1L874.4 312.5L875.5 311.5L876.5 309.1L877.6 308.2L878.7 307.4L879.7 309.7L880.8 313.7L881.9 314.4L882.9 315.2L884.0 315.6L885.1 315.0L886.1 318.8L887.2 314.6L888.3 312.3L889.3 313.9L890.4 317.3L891.5 322.8L892.5 319.6L893.6 318.7L894.7 323.7L895.7 325.4L896.8 322.2L897.9 317.6L898.9 313.2L900.0 313.5L901.1 315.9L902.1 319.1L903.2 319.9L904.3 317.3L905.3 314.8L906.4 310.2L907.5 307.5L908.5 315.0L909.6 323.5L910.7 325.8L911.7 317.8L912.8 309.7L913.9 313.8L914.9 318.1L916.0 316.4L917.1 318.6L918.1 323.0L919.2 317.8L920.3 315.9L921.3 314.5L922.4 312.1L923.5 305.5L924.5 302.2L925.6 307.0L926.7 307.1L927.7 305.6L928.8 305.9L929.9 310.5L930.9 309.6L932.0 308.7L933.1 314.0L934.1 311.1L935.2 310.3L936.3 311.2L937.3 317.9L938.4 319.0L939.5 314.9L940.5 308.8L941.6 305.6L942.7 307.1L943.7 312.3L944.8 319.0L945.9 319.1L946.9 312.6L948.0 306.0L949.1 304.5L950.1 303.8L951.2 303.7L952.3 308.9L953.3 313.0L954.4 313.4L955.5 308.9L956.5 304.3L957.6 300.5L958.7 303.4L959.7 309.0L960.8 310.7L961.9 317.3L962.9 318.7L964.0 314.5L965.1 306.5L966.1 307.1L967.2 306.3L968.3 302.5L969.3 305.6L970.4 309.9L971.5 303.1L972.5 299.9L973.6 307.8L974.7 310.7L975.7 308.6L976.8 306.2L977.9 302.4L978.9 299.3L980.0 302.9L981.1 305.7L982.1 304.7L983.2 298.8L984.3 297.8L985.3 300.3L986.4 301.8L987.5 301.3L988.5 298.9L989.6 296.9L990.7 298.8L991.7 298.0L992.8 292.6L993.9 288.8L994.9 287.7L996.0 289.4L997.1 285.9L998.1 283.6L999.2 285.5L1000.3 284.7L1001.4 281.6L1002.4 280.0L1003.5 280.7L1004.6 280.5L1005.6 279.7L1006.7 277.0L1007.8 274.0L1008.8 271.4L1009.9 268.9L1011.0 266.6L1012.0 264.8L1013.1 264.4L1014.2 262.7L1015.2 260.4L1016.3 258.0L1017.4 254.8L1018.4 251.4L1019.5 247.9L1020.6 244.5L1021.6 241.9L1022.7 240.8L1023.8 238.4L1024.8 234.6L1025.9 230.7L1027.0 227.6L1028.0 225.4L1029.1 221.9L1030.2 217.1L1031.2 213.1L1032.3 211.2L1033.4 210.1L1034.4 209.5L1035.5 209.5L1036.6 209.0L1037.6 209.1L1038.7 209.6L1039.8 211.2L1040.8 213.6L1041.9 217.2L1043.0 220.9L1044.0 223.6L1045.1 226.4L1046.2 229.8L1047.2 232.8L1048.3 235.2L1049.4 237.8L1050.4 241.3L1051.5 244.8L1052.6 247.8L1053.6 250.1L1054.7 252.0L1055.8 255.0L1056.8 257.7L1057.9 259.7L1059.0 261.9L1060.0 263.5L1061.1 266.5L1062.2 269.2L1063.2 271.0L1064.3 272.1L1065.4 276.5L1066.4 280.3L1067.5 281.7L1068.6 279.8L1069.6 278.0L1070.7 279.4L1071.8 281.2L1072.8 282.4L1073.9 279.6L1075.0 284.1L1076.0 287.3L1077.1 289.1L1078.2 290.7L1079.2 293.5L1080.3 291.9L1081.4 289.1L1082.4 289.9L1083.5 294.9L1084.6 297.8L1085.6 296.7L1086.7 292.0L1087.8 293.7L1088.8 293.1L1089.9 296.3L1091.0 304.4L1092.0 303.3L1093.1 297.4L1094.2 297.9L1095.2 303.7L1096.3 304.8L1097.4 305.9L1098.4 303.3L1099.5 300.2L1100.6 306.5L1101.6 309.9L1102.7 309.9L1103.8 311.5L1104.8 305.3L1105.9 296.9L1107.0 298.1L1108.0 305.0L1109.1 306.0L1110.2 309.3L1111.2 307.1L1112.3 310.9L1113.4 313.8L1114.4 314.4L1115.5 310.9L1116.6 308.2L1117.6 310.7L1118.7 316.4L1119.8 317.0L1120.8 315.3L1121.9 317.7L1123.0 319.1L1124.0 317.4L1125.1 316.4L1126.2 314.2L1127.2 315.4L1128.3 317.2L1129.4 317.0L1130.4 318.1L1131.5 321.8L1132.6 322.0L1133.6 312.3L1134.7 305.8L1135.8 314.1L1136.9 320.7L1137.9 318.3L1139.0 312.3L1140.1 310.8L1141.1 309.5L1142.2 308.1L1143.3 312.8L1144.3 329.5L1145.4 336.3L1146.5 331.3L1147.5 327.0L1148.6 323.4L1149.7 324.9L1150.7 327.2L1151.8 319.8L1152.9 316.8L1153.9 320.5L1155.0 326.7L1156.1 327.3L1157.1 331.2L1158.2 334.4L1159.3 334.5L1160.3 334.1L1161.4 339.2L1162.5 339.7L1163.5 328.3L1164.6 324.0L1165.7 328.0L1166.7 337.1L1167.8 336.4L1168.9 330.9L1169.9 320.5L1171.0 316.7L1172.1 318.9L1173.1 325.4L1174.2 331.9L1175.3 325.7L1176.3 330.9L1177.4 336.4L1178.5 335.5L1179.5 333.4L1180.6 337.5L1181.7 339.9L1182.7 331.5L1183.8 321.5L1184.9 323.4L1185.9 322.9L1187.0 322.5L1188.1 326.3L1189.1 329.1L1190.2 331.0L1191.3 339.7L1192.3 348.0L1193.4 339.5L1194.5 328.1L1195.5 320.8L1196.6 321.5L1197.7 323.3L1198.7 320.5L1199.8 318.4L1200.9 324.0L1201.9 325.8L1203.0 322.5L1204.1 321.5L1205.1 317.5L1206.2 313.0L1207.3 314.0L1208.3 321.8L1209.4 334.2L1210.5 343.3L1211.5 334.4L1212.6 323.8L1213.7 322.9L1214.7 323.5L1215.8 319.2L1216.9 316.2L1217.9 314.6L1219.0 314.9L1220.1 323.1L1221.1 319.1L1222.2 312.6L1223.3 311.2L1224.3 312.0L1225.4 307.4L1226.5 304.4L1227.5 309.9L1228.6 309.1L1229.7 315.4L1230.7 321.4L1231.8 316.0L1232.9 314.7L1233.9 317.1L1235.0 318.5L1236.1 316.7L1237.1 310.5L1238.2 310.7L1239.3 307.6L1240.3 303.3L1241.4 305.8L1242.5 311.1L1243.5 313.7L1244.6 312.7L1245.7 310.5L1246.7 306.5L1247.8 302.7L1248.9 301.2L1249.9 301.7L1251.0 301.8L1252.1 305.3L1253.1 305.4L1254.2 298.2L1255.3 296.3L1256.3 295.6L1257.4 291.0L1258.5 291.5L1259.5 291.8L1260.6 292.9L1261.7 294.4L1262.7 296.0L1263.8 292.9L1264.9 291.1L1265.9 290.1L1267.0 287.7L1268.1 288.1L1269.1 291.3L1270.2 293.0L1271.3 294.8L1272.4 293.6L1273.4 290.2L1274.5 286.7L1275.6 287.7L1276.6 294.2L1277.7 301.4L1278.8 303.4L1279.8 302.2L1280.9 303.6L1282.0 304.7L1283.0 303.7L1284.1 298.3L1285.2 297.4L1286.2 301.0L1287.3 300.8L1288.4 308.7L1289.4 311.0L1290.5 305.3L1291.6 300.4L1292.6 302.1L1293.7 306.8" stroke="#800080" stroke-width="2.6" fill="none" stroke-linejoin="round"/></g><rect x="110.8" y="13.3" width="494.8" height="366.7" fill="none" stroke="#000" stroke-width="1.6"/><line x1="102.8" y1="13.3" x2="110.8" y2="13.3" stroke="#000" stroke-width="1.6"/><line x1="102.8" y1="118.1" x2="110.8" y2="118.1" stroke="#000" stroke-width="1.6"/><line x1="102.8" y1="222.8" x2="110.8" y2="222.8" stroke="#000" stroke-width="1.6"/><line x1="102.8" y1="327.6" x2="110.8" y2="327.6" stroke="#000" stroke-width="1.6"/><line x1="105.8" y1="65.7" x2="110.8" y2="65.7" stroke="#000" stroke-width="1.6"/><line x1="105.8" y1="170.5" x2="110.8" y2="170.5" stroke="#000" stroke-width="1.6"/><line x1="105.8" y1="275.2" x2="110.8" y2="275.2" stroke="#000" stroke-width="1.6"/><line x1="105.8" y1="380.0" x2="110.8" y2="380.0" stroke="#000" stroke-width="1.6"/><line x1="110.8" y1="380.0" x2="110.8" y2="387.0" stroke="#000" stroke-width="1.6"/><line x1="234.5" y1="380.0" x2="234.5" y2="387.0" stroke="#000" stroke-width="1.6"/><line x1="358.2" y1="380.0" x2="358.2" y2="387.0" stroke="#000" stroke-width="1.6"/><line x1="481.9" y1="380.0" x2="481.9" y2="387.0" stroke="#000" stroke-width="1.6"/><line x1="605.6" y1="380.0" x2="605.6" y2="387.0" stroke="#000" stroke-width="1.6"/><line x1="172.7" y1="380.0" x2="172.7" y2="384.5" stroke="#000" stroke-width="1.6"/><line x1="296.4" y1="380.0" x2="296.4" y2="384.5" stroke="#000" stroke-width="1.6"/><line x1="420.1" y1="380.0" x2="420.1" y2="384.5" stroke="#000" stroke-width="1.6"/><line x1="543.8" y1="380.0" x2="543.8" y2="384.5" stroke="#000" stroke-width="1.6"/><rect x="796.5" y="10.9" width="497.9" height="367.8" fill="none" stroke="#000" stroke-width="1.6"/><line x1="788.5" y1="47.7" x2="796.5" y2="47.7" stroke="#000" stroke-width="1.6"/><line x1="788.5" y1="121.2" x2="796.5" y2="121.2" stroke="#000" stroke-width="1.6"/><line x1="788.5" y1="194.8" x2="796.5" y2="194.8" stroke="#000" stroke-width="1.6"/><line x1="788.5" y1="268.4" x2="796.5" y2="268.4" stroke="#000" stroke-width="1.6"/><line x1="788.5" y1="341.9" x2="796.5" y2="341.9" stroke="#000" stroke-width="1.6"/><line x1="792.3" y1="10.9" x2="796.5" y2="10.9" stroke="#000" stroke-width="1.6"/><line x1="792.3" y1="84.5" x2="796.5" y2="84.5" stroke="#000" stroke-width="1.6"/><line x1="792.3" y1="158.0" x2="796.5" y2="158.0" stroke="#000" stroke-width="1.6"/><line x1="792.3" y1="231.6" x2="796.5" y2="231.6" stroke="#000" stroke-width="1.6"/><line x1="792.3" y1="305.1" x2="796.5" y2="305.1" stroke="#000" stroke-width="1.6"/><line x1="792.3" y1="378.7" x2="796.5" y2="378.7" stroke="#000" stroke-width="1.6"/><line x1="867.6" y1="378.7" x2="867.6" y2="386.7" stroke="#000" stroke-width="1.6"/><line x1="1009.9" y1="378.7" x2="1009.9" y2="386.7" stroke="#000" stroke-width="1.6"/><line x1="1152.1" y1="378.7" x2="1152.1" y2="386.7" stroke="#000" stroke-width="1.6"/><line x1="1294.4" y1="378.7" x2="1294.4" y2="386.7" stroke="#000" stroke-width="1.6"/><line x1="796.5" y1="378.7" x2="796.5" y2="383.2" stroke="#000" stroke-width="1.6"/><line x1="938.8" y1="378.7" x2="938.8" y2="383.2" stroke="#000" stroke-width="1.6"/><line x1="1081.0" y1="378.7" x2="1081.0" y2="383.2" stroke="#000" stroke-width="1.6"/><line x1="1223.3" y1="378.7" x2="1223.3" y2="383.2" stroke="#000" stroke-width="1.6"/><text transform="translate(97.3,21.3) scale(1,1.07)" font-size="28" text-anchor="end" font-weight="normal" stroke="#000" stroke-width="0.5">0</text><text transform="translate(97.3,126.1) scale(1,1.07)" font-size="28" text-anchor="end" font-weight="normal" stroke="#000" stroke-width="0.5">-10</text><text transform="translate(97.3,230.8) scale(1,1.07)" font-size="28" text-anchor="end" font-weight="normal" stroke="#000" stroke-width="0.5">-20</text><text transform="translate(97.3,335.6) scale(1,1.07)" font-size="28" text-anchor="end" font-weight="normal" stroke="#000" stroke-width="0.5">-30</text><text transform="translate(110.8,412.6) scale(1,1.05)" font-size="28.0" text-anchor="middle" font-weight="normal" stroke="#000" stroke-width="0.5">1530</text><text transform="translate(234.5,412.6) scale(1,1.05)" font-size="28.0" text-anchor="middle" font-weight="normal" stroke="#000" stroke-width="0.5">1545</text><text transform="translate(358.2,412.6) scale(1,1.05)" font-size="28.0" text-anchor="middle" font-weight="normal" stroke="#000" stroke-width="0.5">1560</text><text transform="translate(481.9,412.6) scale(1,1.05)" font-size="28.0" text-anchor="middle" font-weight="normal" stroke="#000" stroke-width="0.5">1575</text><text transform="translate(605.6,412.6) scale(1,1.05)" font-size="28.0" text-anchor="middle" font-weight="normal" stroke="#000" stroke-width="0.5">1590</text><text transform="translate(784.0,55.4) scale(1,1.1)" font-size="28" text-anchor="end" font-weight="normal" stroke="#000" stroke-width="0.5">0</text><text transform="translate(784.0,128.9) scale(1,1.1)" font-size="28" text-anchor="end" font-weight="normal" stroke="#000" stroke-width="0.5">-10</text><text transform="translate(784.0,202.5) scale(1,1.1)" font-size="28" text-anchor="end" font-weight="normal" stroke="#000" stroke-width="0.5">-20</text><text transform="translate(784.0,276.1) scale(1,1.1)" font-size="28" text-anchor="end" font-weight="normal" stroke="#000" stroke-width="0.5">-30</text><text transform="translate(784.0,349.6) scale(1,1.1)" font-size="28" text-anchor="end" font-weight="normal" stroke="#000" stroke-width="0.5">-40</text><text transform="translate(867.6,412.0) scale(1,1.05)" font-size="28.0" text-anchor="middle" font-weight="normal" stroke="#000" stroke-width="0.5">1536</text><text transform="translate(1009.9,412.0) scale(1,1.05)" font-size="28.0" text-anchor="middle" font-weight="normal" stroke="#000" stroke-width="0.5">1538</text><text transform="translate(1152.1,412.0) scale(1,1.05)" font-size="28.0" text-anchor="middle" font-weight="normal" stroke="#000" stroke-width="0.5">1540</text><text transform="translate(1294.4,412.0) scale(1,1.05)" font-size="28.0" text-anchor="middle" font-weight="normal" stroke="#000" stroke-width="0.5">1542</text><text transform="translate(358.4,459.0) scale(1,1.02)" font-size="28.7" text-anchor="middle" font-weight="normal" stroke="#000" stroke-width="0.5">Wavelength (nm)</text><text transform="translate(1045.7,457.6) scale(1,1.02)" font-size="28.7" text-anchor="middle" font-weight="normal" stroke="#000" stroke-width="0.5">Wavelength (nm)</text><text transform="translate(22.9,215.4) rotate(-90) scale(1,1.0)" font-size="28.5" text-anchor="middle" stroke="#000" stroke-width="0.5">Transmission (dB)</text><text transform="translate(709.0,213.8) rotate(-90) scale(1,1.0)" font-size="28.5" text-anchor="middle" stroke="#000" stroke-width="0.5">Transmission (dB)</text><text transform="translate(146.0,91.0)" font-size="23.5" text-anchor="start" font-weight="bold" stroke="#000" stroke-width="0">(a)</text><text transform="translate(832.5,105.5)" font-size="23.5" text-anchor="start" font-weight="bold" stroke="#000" stroke-width="0">(b)</text><line x1="134.5" y1="27.75" x2="175.5" y2="27.75" stroke="#000000" stroke-width="2.4"/><text transform="translate(179.7,33.8) scale(1,1.04)" font-size="16.5" text-anchor="start" font-weight="normal" stroke="#000" stroke-width="0.15">00</text><line x1="202.6" y1="27.75" x2="243.6" y2="27.75" stroke="#FF0000" stroke-width="2.4"/><text transform="translate(247.8,33.8) scale(1,1.04)" font-size="16.5" text-anchor="start" font-weight="normal" stroke="#000" stroke-width="0.15">11</text><line x1="270.7" y1="27.75" x2="311.7" y2="27.75" stroke="#00FF00" stroke-width="2.4"/><text transform="translate(315.9,33.8) scale(1,1.04)" font-size="16.5" text-anchor="start" font-weight="normal" stroke="#000" stroke-width="0.15">22</text><line x1="338.8" y1="27.75" x2="379.8" y2="27.75" stroke="#0000FF" stroke-width="2.4"/><text transform="translate(384.0,33.8) scale(1,1.04)" font-size="16.5" text-anchor="start" font-weight="normal" stroke="#000" stroke-width="0.15">33</text><line x1="134.5" y1="48.6" x2="175.5" y2="48.6" stroke="#00FFFF" stroke-width="2.4"/><text transform="translate(179.7,54.6) scale(1,1.04)" font-size="16.5" text-anchor="start" font-weight="normal" stroke="#000" stroke-width="0.15">01</text><line x1="202.6" y1="48.6" x2="243.6" y2="48.6" stroke="#FF00FF" stroke-width="2.4"/><text transform="translate(247.8,54.6) scale(1,1.04)" font-size="16.5" text-anchor="start" font-weight="normal" stroke="#000" stroke-width="0.15">10</text><line x1="270.7" y1="48.6" x2="311.7" y2="48.6" stroke="#FFFF00" stroke-width="2.4"/><text transform="translate(315.9,54.6) scale(1,1.04)" font-size="16.5" text-anchor="start" font-weight="normal" stroke="#000" stroke-width="0.15">12</text><line x1="338.8" y1="48.6" x2="379.8" y2="48.6" stroke="#808000" stroke-width="2.4"/><text transform="translate(384.0,54.6) scale(1,1.04)" font-size="16.5" text-anchor="start" font-weight="normal" stroke="#000" stroke-width="0.15">21</text><line x1="406.9" y1="48.6" x2="447.9" y2="48.6" stroke="#000080" stroke-width="2.4"/><text transform="translate(452.1,54.6) scale(1,1.04)" font-size="16.5" text-anchor="start" font-weight="normal" stroke="#000" stroke-width="0.15">23</text><line x1="475.0" y1="48.6" x2="516.0" y2="48.6" stroke="#800080" stroke-width="2.4"/><text transform="translate(520.2,54.6) scale(1,1.04)" font-size="16.5" text-anchor="start" font-weight="normal" stroke="#000" stroke-width="0.15">32</text><line x1="821.8" y1="24.6" x2="857.8" y2="24.6" stroke="#000000" stroke-width="2.2"/><text transform="translate(862.2,30.1) scale(1,1.09)" font-size="14.6" text-anchor="start" font-weight="normal" stroke="#000" stroke-width="0.15">00</text><line x1="882.9" y1="24.6" x2="918.9" y2="24.6" stroke="#FF0000" stroke-width="2.2"/><text transform="translate(923.3,30.1) scale(1,1.09)" font-size="14.6" text-anchor="start" font-weight="normal" stroke="#000" stroke-width="0.15">11</text><line x1="944.0" y1="24.6" x2="980.0" y2="24.6" stroke="#00FF00" stroke-width="2.2"/><text transform="translate(984.4,30.1) scale(1,1.09)" font-size="14.6" text-anchor="start" font-weight="normal" stroke="#000" stroke-width="0.15">22</text><line x1="1005.1" y1="24.6" x2="1041.1" y2="24.6" stroke="#0000FF" stroke-width="2.2"/><text transform="translate(1045.5,30.1) scale(1,1.09)" font-size="14.6" text-anchor="start" font-weight="normal" stroke="#000" stroke-width="0.15">33</text><line x1="821.8" y1="43.5" x2="857.8" y2="43.5" stroke="#00FFFF" stroke-width="2.2"/><text transform="translate(862.2,49.0) scale(1,1.09)" font-size="14.6" text-anchor="start" font-weight="normal" stroke="#000" stroke-width="0.15">01</text><line x1="882.9" y1="43.5" x2="918.9" y2="43.5" stroke="#FF00FF" stroke-width="2.2"/><text transform="translate(923.3,49.0) scale(1,1.09)" font-size="14.6" text-anchor="start" font-weight="normal" stroke="#000" stroke-width="0.15">10</text><line x1="944.0" y1="43.5" x2="980.0" y2="43.5" stroke="#FFFF00" stroke-width="2.2"/><text transform="translate(984.4,49.0) scale(1,1.09)" font-size="14.6" text-anchor="start" font-weight="normal" stroke="#000" stroke-width="0.15">12</text><line x1="1005.1" y1="43.5" x2="1041.1" y2="43.5" stroke="#808000" stroke-width="2.2"/><text transform="translate(1045.5,49.0) scale(1,1.09)" font-size="14.6" text-anchor="start" font-weight="normal" stroke="#000" stroke-width="0.15">21</text><line x1="1066.2" y1="43.5" x2="1102.2" y2="43.5" stroke="#000080" stroke-width="2.2"/><text transform="translate(1106.6,49.0) scale(1,1.09)" font-size="14.6" text-anchor="start" font-weight="normal" stroke="#000" stroke-width="0.15">23</text><line x1="1127.3" y1="43.5" x2="1163.3" y2="43.5" stroke="#800080" stroke-width="2.2"/><text transform="translate(1167.7,49.0) scale(1,1.09)" font-size="14.6" text-anchor="start" font-weight="normal" stroke="#000" stroke-width="0.15">32</text></svg></body></html>
